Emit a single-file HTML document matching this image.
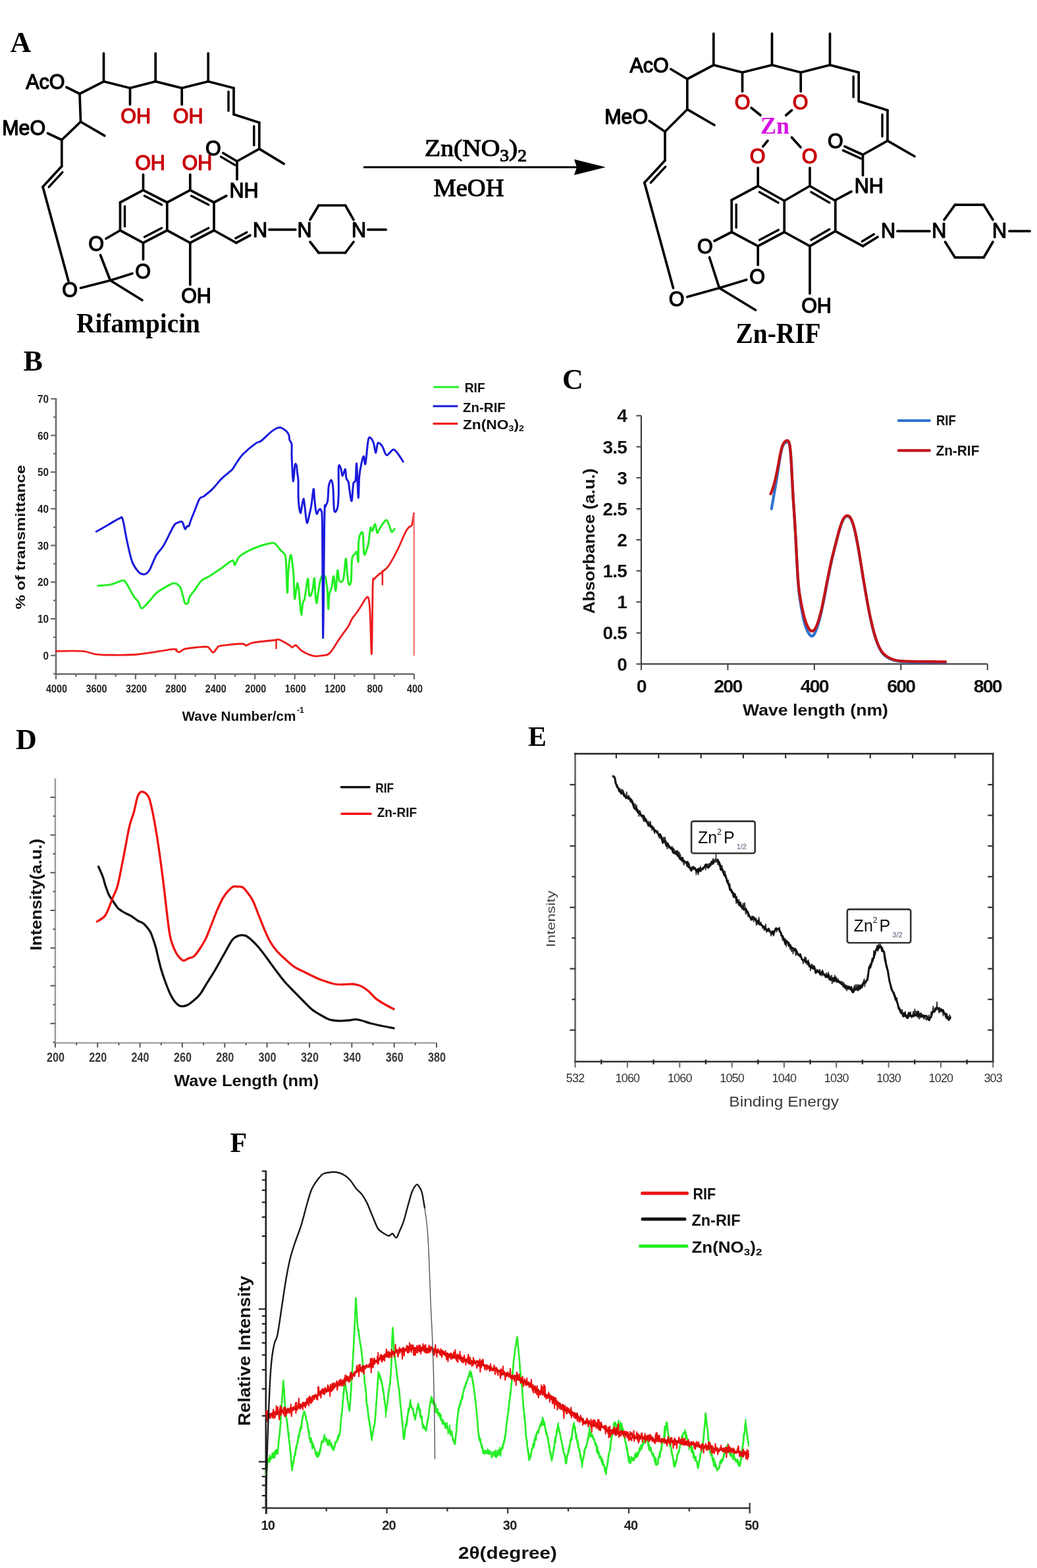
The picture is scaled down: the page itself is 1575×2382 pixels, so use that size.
<!DOCTYPE html>
<html><head><meta charset="utf-8"><title>Figure</title>
<style>html,body{margin:0;padding:0;background:#fff;}svg{display:block;}</style></head>
<body><svg width="1575" height="2382" viewBox="0 0 1575 2382">
<rect width="1575" height="2382" fill="#fff"/>
<text x="15.5" y="79" font-size="44" fill="#000" text-anchor="start" font-weight="bold" font-family="Liberation Serif, Times New Roman, serif" >A</text>
<line x1="101" y1="132.5" x2="121" y2="142.5" stroke="#000" stroke-width="3.7" stroke-linecap="round"/>
<line x1="121" y1="142.5" x2="157.5" y2="123.8" stroke="#000" stroke-width="3.7" stroke-linecap="round"/>
<line x1="157.5" y1="123.8" x2="157.5" y2="81" stroke="#000" stroke-width="3.7" stroke-linecap="round"/>
<line x1="157.5" y1="123.8" x2="197.5" y2="133.8" stroke="#000" stroke-width="3.7" stroke-linecap="round"/>
<line x1="197.5" y1="133.8" x2="197.5" y2="158.8" stroke="#000" stroke-width="3.7" stroke-linecap="round"/>
<line x1="197.5" y1="133.8" x2="236.2" y2="123.8" stroke="#000" stroke-width="3.7" stroke-linecap="round"/>
<line x1="236.2" y1="123.8" x2="236.2" y2="81" stroke="#000" stroke-width="3.7" stroke-linecap="round"/>
<line x1="236.2" y1="123.8" x2="276.2" y2="133.8" stroke="#000" stroke-width="3.7" stroke-linecap="round"/>
<line x1="276.2" y1="133.8" x2="276.2" y2="158.8" stroke="#000" stroke-width="3.7" stroke-linecap="round"/>
<line x1="276.2" y1="133.8" x2="316.2" y2="123.8" stroke="#000" stroke-width="3.7" stroke-linecap="round"/>
<line x1="316.2" y1="123.8" x2="316.2" y2="81" stroke="#000" stroke-width="3.7" stroke-linecap="round"/>
<line x1="316.2" y1="123.8" x2="355" y2="133.8" stroke="#000" stroke-width="3.7" stroke-linecap="round"/>
<line x1="355" y1="133.8" x2="355" y2="173.8" stroke="#000" stroke-width="3.7" stroke-linecap="round"/>
<line x1="355" y1="173.8" x2="393.8" y2="186.2" stroke="#000" stroke-width="3.7" stroke-linecap="round"/>
<line x1="393.8" y1="186.2" x2="393.8" y2="226.2" stroke="#000" stroke-width="3.7" stroke-linecap="round"/>
<line x1="393.8" y1="226.2" x2="431.2" y2="248.8" stroke="#000" stroke-width="3.7" stroke-linecap="round"/>
<line x1="393.8" y1="226.2" x2="360" y2="245" stroke="#000" stroke-width="3.7" stroke-linecap="round"/>
<line x1="360" y1="245" x2="338.8" y2="232.5" stroke="#000" stroke-width="3.7" stroke-linecap="round"/>
<line x1="360" y1="245" x2="360" y2="272.5" stroke="#000" stroke-width="3.7" stroke-linecap="round"/>
<line x1="343.8" y1="297.5" x2="325" y2="307.5" stroke="#000" stroke-width="3.7" stroke-linecap="round"/>
<line x1="121" y1="142.5" x2="122.5" y2="185" stroke="#000" stroke-width="3.7" stroke-linecap="round"/>
<line x1="122.5" y1="185" x2="158.8" y2="206.2" stroke="#000" stroke-width="3.7" stroke-linecap="round"/>
<line x1="122.5" y1="185" x2="93.8" y2="212.5" stroke="#000" stroke-width="3.7" stroke-linecap="round"/>
<line x1="93.8" y1="212.5" x2="72.5" y2="202.5" stroke="#000" stroke-width="3.7" stroke-linecap="round"/>
<line x1="93.8" y1="212.5" x2="93.8" y2="252.5" stroke="#000" stroke-width="3.7" stroke-linecap="round"/>
<line x1="93.8" y1="252.5" x2="65" y2="283.8" stroke="#000" stroke-width="3.7" stroke-linecap="round"/>
<line x1="65" y1="283.8" x2="104" y2="427" stroke="#000" stroke-width="3.7" stroke-linecap="round"/>
<line x1="122.5" y1="437.5" x2="167.5" y2="426" stroke="#000" stroke-width="3.7" stroke-linecap="round"/>
<line x1="167.5" y1="426" x2="216" y2="456" stroke="#000" stroke-width="3.7" stroke-linecap="round"/>
<line x1="167.5" y1="426" x2="201" y2="415.5" stroke="#000" stroke-width="3.7" stroke-linecap="round"/>
<line x1="167.5" y1="426" x2="152.5" y2="387.5" stroke="#000" stroke-width="3.7" stroke-linecap="round"/>
<line x1="161" y1="362.5" x2="182.5" y2="350" stroke="#000" stroke-width="3.7" stroke-linecap="round"/>
<line x1="217.5" y1="394" x2="217.5" y2="368.8" stroke="#000" stroke-width="3.7" stroke-linecap="round"/>
<line x1="217.5" y1="288.8" x2="217.5" y2="265" stroke="#000" stroke-width="3.7" stroke-linecap="round"/>
<line x1="288.8" y1="288.8" x2="288.8" y2="265" stroke="#000" stroke-width="3.7" stroke-linecap="round"/>
<line x1="325" y1="350" x2="358.8" y2="368.8" stroke="#000" stroke-width="3.7" stroke-linecap="round"/>
<line x1="358.8" y1="368.8" x2="380" y2="357.5" stroke="#000" stroke-width="3.7" stroke-linecap="round"/>
<line x1="408.8" y1="348.8" x2="448.8" y2="348.8" stroke="#000" stroke-width="3.7" stroke-linecap="round"/>
<line x1="471" y1="333.8" x2="484" y2="312" stroke="#000" stroke-width="3.7" stroke-linecap="round"/>
<line x1="484" y1="312" x2="524.5" y2="312" stroke="#000" stroke-width="3.7" stroke-linecap="round"/>
<line x1="524.5" y1="312" x2="537" y2="333.8" stroke="#000" stroke-width="3.7" stroke-linecap="round"/>
<line x1="471" y1="367.5" x2="484" y2="384" stroke="#000" stroke-width="3.7" stroke-linecap="round"/>
<line x1="484" y1="384" x2="524.5" y2="384" stroke="#000" stroke-width="3.7" stroke-linecap="round"/>
<line x1="524.5" y1="384" x2="537" y2="367.5" stroke="#000" stroke-width="3.7" stroke-linecap="round"/>
<line x1="558.8" y1="348.8" x2="586.2" y2="348.8" stroke="#000" stroke-width="3.7" stroke-linecap="round"/>
<line x1="288.8" y1="368.8" x2="288.8" y2="432.5" stroke="#000" stroke-width="3.7" stroke-linecap="round"/>
<line x1="217.5" y1="288.8" x2="182.5" y2="307.5" stroke="#000" stroke-width="3.7" stroke-linecap="round"/>
<line x1="182.5" y1="307.5" x2="182.5" y2="350" stroke="#000" stroke-width="3.7" stroke-linecap="round"/>
<line x1="182.5" y1="350" x2="217.5" y2="368.8" stroke="#000" stroke-width="3.7" stroke-linecap="round"/>
<line x1="217.5" y1="368.8" x2="253.8" y2="350" stroke="#000" stroke-width="3.7" stroke-linecap="round"/>
<line x1="253.8" y1="350" x2="253.8" y2="307.5" stroke="#000" stroke-width="3.7" stroke-linecap="round"/>
<line x1="253.8" y1="307.5" x2="217.5" y2="288.8" stroke="#000" stroke-width="3.7" stroke-linecap="round"/>
<line x1="253.8" y1="307.5" x2="288.8" y2="288.8" stroke="#000" stroke-width="3.7" stroke-linecap="round"/>
<line x1="288.8" y1="288.8" x2="325" y2="307.5" stroke="#000" stroke-width="3.7" stroke-linecap="round"/>
<line x1="325" y1="307.5" x2="325" y2="350" stroke="#000" stroke-width="3.7" stroke-linecap="round"/>
<line x1="325" y1="350" x2="288.8" y2="368.8" stroke="#000" stroke-width="3.7" stroke-linecap="round"/>
<line x1="288.8" y1="368.8" x2="253.8" y2="350" stroke="#000" stroke-width="3.7" stroke-linecap="round"/>
<line x1="245.5" y1="311.1" x2="219.4" y2="297.6" stroke="#000" stroke-width="3.4" stroke-linecap="round"/>
<line x1="189.5" y1="313.4" x2="189.5" y2="344.1" stroke="#000" stroke-width="3.4" stroke-linecap="round"/>
<line x1="219.4" y1="359.9" x2="245.5" y2="346.4" stroke="#000" stroke-width="3.4" stroke-linecap="round"/>
<line x1="290.6" y1="297.6" x2="316.7" y2="311.1" stroke="#000" stroke-width="3.4" stroke-linecap="round"/>
<line x1="316.7" y1="346.4" x2="290.6" y2="359.9" stroke="#000" stroke-width="3.4" stroke-linecap="round"/>
<line x1="347" y1="139.3" x2="347" y2="168.2" stroke="#000" stroke-width="3.4" stroke-linecap="round"/>
<line x1="385.8" y1="191.8" x2="385.8" y2="220.7" stroke="#000" stroke-width="3.4" stroke-linecap="round"/>
<line x1="94.9" y1="261.6" x2="74.2" y2="284.1" stroke="#000" stroke-width="3.4" stroke-linecap="round"/>
<line x1="356.7" y1="250.6" x2="335.5" y2="238.1" stroke="#000" stroke-width="3.4" stroke-linecap="round"/>
<line x1="357.8" y1="361.9" x2="374.8" y2="352.9" stroke="#000" stroke-width="3.4" stroke-linecap="round"/>
<text x="68.8" y="134.7" font-size="30.5" fill="#000" text-anchor="middle" font-weight="normal" font-family="Liberation Sans, Arial, sans-serif" stroke="#000" stroke-width="1.3" stroke-linejoin="round">AcO</text>
<text x="36.2" y="204.7" font-size="30.5" fill="#000" text-anchor="middle" font-weight="normal" font-family="Liberation Sans, Arial, sans-serif" stroke="#000" stroke-width="1.3" stroke-linejoin="round">MeO</text>
<text x="206.2" y="186.5" font-size="30.5" fill="#c8000a" text-anchor="middle" font-weight="normal" font-family="Liberation Sans, Arial, sans-serif" stroke="#c8000a" stroke-width="1.3" stroke-linejoin="round">OH</text>
<text x="285.6" y="186.5" font-size="30.5" fill="#c8000a" text-anchor="middle" font-weight="normal" font-family="Liberation Sans, Arial, sans-serif" stroke="#c8000a" stroke-width="1.3" stroke-linejoin="round">OH</text>
<text x="228" y="258.4" font-size="30.5" fill="#c8000a" text-anchor="middle" font-weight="normal" font-family="Liberation Sans, Arial, sans-serif" stroke="#c8000a" stroke-width="1.3" stroke-linejoin="round">OH</text>
<text x="299.4" y="258.4" font-size="30.5" fill="#c8000a" text-anchor="middle" font-weight="normal" font-family="Liberation Sans, Arial, sans-serif" stroke="#c8000a" stroke-width="1.3" stroke-linejoin="round">OH</text>
<text x="323.8" y="236.4" font-size="30.5" fill="#000" text-anchor="middle" font-weight="normal" font-family="Liberation Sans, Arial, sans-serif" stroke="#000" stroke-width="1.3" stroke-linejoin="round">O</text>
<text x="370.5" y="299.7" font-size="30.5" fill="#000" text-anchor="middle" font-weight="normal" font-family="Liberation Sans, Arial, sans-serif" stroke="#000" stroke-width="1.3" stroke-linejoin="round">NH</text>
<text x="395" y="360.4" font-size="30.5" fill="#000" text-anchor="middle" font-weight="normal" font-family="Liberation Sans, Arial, sans-serif" stroke="#000" stroke-width="1.3" stroke-linejoin="round">N</text>
<text x="462.5" y="360.4" font-size="30.5" fill="#000" text-anchor="middle" font-weight="normal" font-family="Liberation Sans, Arial, sans-serif" stroke="#000" stroke-width="1.3" stroke-linejoin="round">N</text>
<text x="545" y="360.4" font-size="30.5" fill="#000" text-anchor="middle" font-weight="normal" font-family="Liberation Sans, Arial, sans-serif" stroke="#000" stroke-width="1.3" stroke-linejoin="round">N</text>
<text x="146" y="380.9" font-size="30.5" fill="#000" text-anchor="middle" font-weight="normal" font-family="Liberation Sans, Arial, sans-serif" stroke="#000" stroke-width="1.3" stroke-linejoin="round">O</text>
<text x="217" y="422.9" font-size="30.5" fill="#000" text-anchor="middle" font-weight="normal" font-family="Liberation Sans, Arial, sans-serif" stroke="#000" stroke-width="1.3" stroke-linejoin="round">O</text>
<text x="106" y="450.9" font-size="30.5" fill="#000" text-anchor="middle" font-weight="normal" font-family="Liberation Sans, Arial, sans-serif" stroke="#000" stroke-width="1.3" stroke-linejoin="round">O</text>
<text x="298" y="460.4" font-size="30.5" fill="#000" text-anchor="middle" font-weight="normal" font-family="Liberation Sans, Arial, sans-serif" stroke="#000" stroke-width="1.3" stroke-linejoin="round">OH</text>
<text x="116" y="505" font-size="43" fill="#000" text-anchor="start" font-weight="bold" font-family="Liberation Serif, Times New Roman, serif" textLength="188" lengthAdjust="spacingAndGlyphs">Rifampicin</text>
<line x1="552" y1="254" x2="878" y2="254" stroke="#000" stroke-width="3" stroke-linecap="butt"/>
<polygon points="872,242 920,254 872,266 876,254" fill="#000"/>
<text x="645" y="236.5" font-size="36" fill="#000" text-anchor="start" font-weight="normal" font-family="Liberation Serif, Times New Roman, serif" textLength="155" lengthAdjust="spacingAndGlyphs" stroke="#000" stroke-width="1.1">Zn(NO<tspan font-size="25" dy="8">3</tspan><tspan dy="-8">)</tspan><tspan font-size="25" dy="8">2</tspan></text>
<text x="712" y="298" font-size="38.5" fill="#000" text-anchor="middle" font-weight="normal" font-family="Liberation Serif, Times New Roman, serif" stroke="#000" stroke-width="1.1">MeOH</text>
<line x1="1018.8" y1="105" x2="1043.8" y2="120" stroke="#000" stroke-width="3.7" stroke-linecap="round"/>
<line x1="1043.8" y1="120" x2="1083.8" y2="98.8" stroke="#000" stroke-width="3.7" stroke-linecap="round"/>
<line x1="1083.8" y1="98.8" x2="1083.8" y2="51.2" stroke="#000" stroke-width="3.7" stroke-linecap="round"/>
<line x1="1083.8" y1="98.8" x2="1127.5" y2="110" stroke="#000" stroke-width="3.7" stroke-linecap="round"/>
<line x1="1127.5" y1="110" x2="1127.5" y2="138.8" stroke="#000" stroke-width="3.7" stroke-linecap="round"/>
<line x1="1127.5" y1="110" x2="1172.5" y2="98.8" stroke="#000" stroke-width="3.7" stroke-linecap="round"/>
<line x1="1172.5" y1="98.8" x2="1172.5" y2="51.2" stroke="#000" stroke-width="3.7" stroke-linecap="round"/>
<line x1="1172.5" y1="98.8" x2="1216.2" y2="110" stroke="#000" stroke-width="3.7" stroke-linecap="round"/>
<line x1="1216.2" y1="110" x2="1216.2" y2="138.8" stroke="#000" stroke-width="3.7" stroke-linecap="round"/>
<line x1="1216.2" y1="110" x2="1260.5" y2="98.8" stroke="#000" stroke-width="3.7" stroke-linecap="round"/>
<line x1="1260.5" y1="98.8" x2="1260.5" y2="51.2" stroke="#000" stroke-width="3.7" stroke-linecap="round"/>
<line x1="1260.5" y1="98.8" x2="1304.2" y2="110" stroke="#000" stroke-width="3.7" stroke-linecap="round"/>
<line x1="1304.2" y1="110" x2="1304.2" y2="153.8" stroke="#000" stroke-width="3.7" stroke-linecap="round"/>
<line x1="1304.2" y1="153.8" x2="1348" y2="167.5" stroke="#000" stroke-width="3.7" stroke-linecap="round"/>
<line x1="1348" y1="167.5" x2="1348" y2="213.8" stroke="#000" stroke-width="3.7" stroke-linecap="round"/>
<line x1="1348" y1="213.8" x2="1389" y2="237.5" stroke="#000" stroke-width="3.7" stroke-linecap="round"/>
<line x1="1348" y1="213.8" x2="1310.5" y2="235" stroke="#000" stroke-width="3.7" stroke-linecap="round"/>
<line x1="1310.5" y1="235" x2="1283" y2="222.5" stroke="#000" stroke-width="3.7" stroke-linecap="round"/>
<line x1="1310.5" y1="235" x2="1310.5" y2="266.2" stroke="#000" stroke-width="3.7" stroke-linecap="round"/>
<line x1="1293" y1="291" x2="1269" y2="303.8" stroke="#000" stroke-width="3.7" stroke-linecap="round"/>
<line x1="1043.8" y1="120" x2="1043.8" y2="166.2" stroke="#000" stroke-width="3.7" stroke-linecap="round"/>
<line x1="1043.8" y1="166.2" x2="1085" y2="190" stroke="#000" stroke-width="3.7" stroke-linecap="round"/>
<line x1="1043.8" y1="166.2" x2="1010" y2="200" stroke="#000" stroke-width="3.7" stroke-linecap="round"/>
<line x1="1010" y1="200" x2="986.2" y2="183.8" stroke="#000" stroke-width="3.7" stroke-linecap="round"/>
<line x1="1010" y1="200" x2="1010" y2="243.8" stroke="#000" stroke-width="3.7" stroke-linecap="round"/>
<line x1="1010" y1="243.8" x2="978.8" y2="277.5" stroke="#000" stroke-width="3.7" stroke-linecap="round"/>
<line x1="978.8" y1="277.5" x2="1022.5" y2="437.5" stroke="#000" stroke-width="3.7" stroke-linecap="round"/>
<line x1="1043.8" y1="451" x2="1092.5" y2="437.5" stroke="#000" stroke-width="3.7" stroke-linecap="round"/>
<line x1="1092.5" y1="437.5" x2="1147.5" y2="471" stroke="#000" stroke-width="3.7" stroke-linecap="round"/>
<line x1="1092.5" y1="437.5" x2="1133.8" y2="425" stroke="#000" stroke-width="3.7" stroke-linecap="round"/>
<line x1="1092.5" y1="437.5" x2="1077.5" y2="391" stroke="#000" stroke-width="3.7" stroke-linecap="round"/>
<line x1="1085" y1="366" x2="1111.2" y2="352.5" stroke="#000" stroke-width="3.7" stroke-linecap="round"/>
<line x1="1151.2" y1="402.5" x2="1151.2" y2="373.8" stroke="#000" stroke-width="3.7" stroke-linecap="round"/>
<line x1="1151.2" y1="282.5" x2="1151.2" y2="255" stroke="#000" stroke-width="3.7" stroke-linecap="round"/>
<line x1="1230" y1="282.5" x2="1230" y2="255" stroke="#000" stroke-width="3.7" stroke-linecap="round"/>
<line x1="1141" y1="163.8" x2="1155" y2="175" stroke="#000" stroke-width="3.7" stroke-linecap="round"/>
<line x1="1202.5" y1="167.5" x2="1193.8" y2="175" stroke="#000" stroke-width="3.7" stroke-linecap="round"/>
<line x1="1166" y1="213.8" x2="1158.8" y2="222.5" stroke="#000" stroke-width="3.7" stroke-linecap="round"/>
<line x1="1202.5" y1="208.8" x2="1216" y2="223.8" stroke="#000" stroke-width="3.7" stroke-linecap="round"/>
<line x1="1268.8" y1="351.2" x2="1310.5" y2="373.8" stroke="#000" stroke-width="3.7" stroke-linecap="round"/>
<line x1="1310.5" y1="373.8" x2="1333" y2="360" stroke="#000" stroke-width="3.7" stroke-linecap="round"/>
<line x1="1363" y1="351.2" x2="1411.8" y2="351.2" stroke="#000" stroke-width="3.7" stroke-linecap="round"/>
<line x1="1434" y1="333.8" x2="1450.5" y2="311.2" stroke="#000" stroke-width="3.7" stroke-linecap="round"/>
<line x1="1450.5" y1="311.2" x2="1494" y2="311.2" stroke="#000" stroke-width="3.7" stroke-linecap="round"/>
<line x1="1494" y1="311.2" x2="1508" y2="333.8" stroke="#000" stroke-width="3.7" stroke-linecap="round"/>
<line x1="1435.5" y1="367.5" x2="1450.5" y2="391.2" stroke="#000" stroke-width="3.7" stroke-linecap="round"/>
<line x1="1450.5" y1="391.2" x2="1494" y2="391.2" stroke="#000" stroke-width="3.7" stroke-linecap="round"/>
<line x1="1494" y1="391.2" x2="1508" y2="367.5" stroke="#000" stroke-width="3.7" stroke-linecap="round"/>
<line x1="1533" y1="351.2" x2="1564" y2="351.2" stroke="#000" stroke-width="3.7" stroke-linecap="round"/>
<line x1="1230" y1="373.8" x2="1230" y2="446" stroke="#000" stroke-width="3.7" stroke-linecap="round"/>
<line x1="1151.2" y1="282.5" x2="1111.2" y2="303.8" stroke="#000" stroke-width="3.7" stroke-linecap="round"/>
<line x1="1111.2" y1="303.8" x2="1111.2" y2="352.5" stroke="#000" stroke-width="3.7" stroke-linecap="round"/>
<line x1="1111.2" y1="352.5" x2="1151.2" y2="373.8" stroke="#000" stroke-width="3.7" stroke-linecap="round"/>
<line x1="1151.2" y1="373.8" x2="1191.2" y2="352.5" stroke="#000" stroke-width="3.7" stroke-linecap="round"/>
<line x1="1191.2" y1="352.5" x2="1191.2" y2="305" stroke="#000" stroke-width="3.7" stroke-linecap="round"/>
<line x1="1191.2" y1="305" x2="1151.2" y2="282.5" stroke="#000" stroke-width="3.7" stroke-linecap="round"/>
<line x1="1191.2" y1="305" x2="1230" y2="282.5" stroke="#000" stroke-width="3.7" stroke-linecap="round"/>
<line x1="1230" y1="282.5" x2="1268.8" y2="305" stroke="#000" stroke-width="3.7" stroke-linecap="round"/>
<line x1="1268.8" y1="305" x2="1268.8" y2="351.2" stroke="#000" stroke-width="3.7" stroke-linecap="round"/>
<line x1="1268.8" y1="351.2" x2="1230" y2="373.8" stroke="#000" stroke-width="3.7" stroke-linecap="round"/>
<line x1="1230" y1="373.8" x2="1191.2" y2="352.5" stroke="#000" stroke-width="3.7" stroke-linecap="round"/>
<line x1="1182.2" y1="308" x2="1153.4" y2="291.8" stroke="#000" stroke-width="3.4" stroke-linecap="round"/>
<line x1="1118.2" y1="310.6" x2="1118.2" y2="345.7" stroke="#000" stroke-width="3.4" stroke-linecap="round"/>
<line x1="1153.6" y1="364.6" x2="1182.4" y2="349.3" stroke="#000" stroke-width="3.4" stroke-linecap="round"/>
<line x1="1231.9" y1="291.7" x2="1259.8" y2="307.9" stroke="#000" stroke-width="3.4" stroke-linecap="round"/>
<line x1="1259.8" y1="348.3" x2="1231.9" y2="364.5" stroke="#000" stroke-width="3.4" stroke-linecap="round"/>
<line x1="1296.2" y1="116.1" x2="1296.2" y2="147.6" stroke="#000" stroke-width="3.4" stroke-linecap="round"/>
<line x1="1340" y1="174" x2="1340" y2="207.3" stroke="#000" stroke-width="3.4" stroke-linecap="round"/>
<line x1="1010.8" y1="253.2" x2="988.3" y2="277.5" stroke="#000" stroke-width="3.4" stroke-linecap="round"/>
<line x1="1307.8" y1="240.9" x2="1280.3" y2="228.4" stroke="#000" stroke-width="3.4" stroke-linecap="round"/>
<line x1="1309.4" y1="366.8" x2="1327.4" y2="355.8" stroke="#000" stroke-width="3.4" stroke-linecap="round"/>
<text x="986.2" y="109.7" font-size="30.5" fill="#000" text-anchor="middle" font-weight="normal" font-family="Liberation Sans, Arial, sans-serif" stroke="#000" stroke-width="1.3" stroke-linejoin="round">AcO</text>
<text x="951.2" y="187.8" font-size="30.5" fill="#000" text-anchor="middle" font-weight="normal" font-family="Liberation Sans, Arial, sans-serif" stroke="#000" stroke-width="1.3" stroke-linejoin="round">MeO</text>
<text x="1127.5" y="165.9" font-size="30.5" fill="#c8000a" text-anchor="middle" font-weight="normal" font-family="Liberation Sans, Arial, sans-serif" stroke="#c8000a" stroke-width="1.3" stroke-linejoin="round">O</text>
<text x="1215.5" y="166.4" font-size="30.5" fill="#c8000a" text-anchor="middle" font-weight="normal" font-family="Liberation Sans, Arial, sans-serif" stroke="#c8000a" stroke-width="1.3" stroke-linejoin="round">O</text>
<text x="1150.6" y="247.9" font-size="30.5" fill="#c8000a" text-anchor="middle" font-weight="normal" font-family="Liberation Sans, Arial, sans-serif" stroke="#c8000a" stroke-width="1.3" stroke-linejoin="round">O</text>
<text x="1229.5" y="247.9" font-size="30.5" fill="#c8000a" text-anchor="middle" font-weight="normal" font-family="Liberation Sans, Arial, sans-serif" stroke="#c8000a" stroke-width="1.3" stroke-linejoin="round">O</text>
<text x="1177" y="202.5" font-size="36" fill="#d612e4" text-anchor="middle" font-weight="bold" font-family="Liberation Serif, Times New Roman, serif" >Zn</text>
<text x="1268.8" y="225.3" font-size="30.5" fill="#000" text-anchor="middle" font-weight="normal" font-family="Liberation Sans, Arial, sans-serif" stroke="#000" stroke-width="1.3" stroke-linejoin="round">O</text>
<text x="1319.8" y="293.4" font-size="30.5" fill="#000" text-anchor="middle" font-weight="normal" font-family="Liberation Sans, Arial, sans-serif" stroke="#000" stroke-width="1.3" stroke-linejoin="round">NH</text>
<text x="1349" y="361.4" font-size="30.5" fill="#000" text-anchor="middle" font-weight="normal" font-family="Liberation Sans, Arial, sans-serif" stroke="#000" stroke-width="1.3" stroke-linejoin="round">N</text>
<text x="1426.2" y="361.4" font-size="30.5" fill="#000" text-anchor="middle" font-weight="normal" font-family="Liberation Sans, Arial, sans-serif" stroke="#000" stroke-width="1.3" stroke-linejoin="round">N</text>
<text x="1518" y="361.4" font-size="30.5" fill="#000" text-anchor="middle" font-weight="normal" font-family="Liberation Sans, Arial, sans-serif" stroke="#000" stroke-width="1.3" stroke-linejoin="round">N</text>
<text x="1070.8" y="385.4" font-size="30.5" fill="#000" text-anchor="middle" font-weight="normal" font-family="Liberation Sans, Arial, sans-serif" stroke="#000" stroke-width="1.3" stroke-linejoin="round">O</text>
<text x="1150" y="431.4" font-size="30.5" fill="#000" text-anchor="middle" font-weight="normal" font-family="Liberation Sans, Arial, sans-serif" stroke="#000" stroke-width="1.3" stroke-linejoin="round">O</text>
<text x="1027.5" y="464.7" font-size="30.5" fill="#000" text-anchor="middle" font-weight="normal" font-family="Liberation Sans, Arial, sans-serif" stroke="#000" stroke-width="1.3" stroke-linejoin="round">O</text>
<text x="1240" y="474.7" font-size="30.5" fill="#000" text-anchor="middle" font-weight="normal" font-family="Liberation Sans, Arial, sans-serif" stroke="#000" stroke-width="1.3" stroke-linejoin="round">OH</text>
<text x="1117.5" y="521" font-size="45" fill="#000" text-anchor="start" font-weight="bold" font-family="Liberation Serif, Times New Roman, serif" textLength="129" lengthAdjust="spacingAndGlyphs">Zn-RIF</text>
<text x="35.5" y="563" font-size="44" fill="#000" text-anchor="start" font-weight="bold" font-family="Liberation Serif, Times New Roman, serif" >B</text>
<polyline points="85,605 85,1024 629,1024" fill="none" stroke="#6a6a6a" stroke-width="2.6"/>
<line x1="81" y1="1023.6" x2="85" y2="1023.6" stroke="#6a6a6a" stroke-width="2.2" stroke-linecap="butt"/>
<line x1="77" y1="995.8" x2="85" y2="995.8" stroke="#6a6a6a" stroke-width="2.2" stroke-linecap="butt"/>
<line x1="81" y1="967.9" x2="85" y2="967.9" stroke="#6a6a6a" stroke-width="2.2" stroke-linecap="butt"/>
<line x1="77" y1="940" x2="85" y2="940" stroke="#6a6a6a" stroke-width="2.2" stroke-linecap="butt"/>
<line x1="81" y1="912.2" x2="85" y2="912.2" stroke="#6a6a6a" stroke-width="2.2" stroke-linecap="butt"/>
<line x1="77" y1="884.3" x2="85" y2="884.3" stroke="#6a6a6a" stroke-width="2.2" stroke-linecap="butt"/>
<line x1="81" y1="856.5" x2="85" y2="856.5" stroke="#6a6a6a" stroke-width="2.2" stroke-linecap="butt"/>
<line x1="77" y1="828.6" x2="85" y2="828.6" stroke="#6a6a6a" stroke-width="2.2" stroke-linecap="butt"/>
<line x1="81" y1="800.8" x2="85" y2="800.8" stroke="#6a6a6a" stroke-width="2.2" stroke-linecap="butt"/>
<line x1="77" y1="772.9" x2="85" y2="772.9" stroke="#6a6a6a" stroke-width="2.2" stroke-linecap="butt"/>
<line x1="81" y1="745.1" x2="85" y2="745.1" stroke="#6a6a6a" stroke-width="2.2" stroke-linecap="butt"/>
<line x1="77" y1="717.2" x2="85" y2="717.2" stroke="#6a6a6a" stroke-width="2.2" stroke-linecap="butt"/>
<line x1="81" y1="689.3" x2="85" y2="689.3" stroke="#6a6a6a" stroke-width="2.2" stroke-linecap="butt"/>
<line x1="77" y1="661.5" x2="85" y2="661.5" stroke="#6a6a6a" stroke-width="2.2" stroke-linecap="butt"/>
<line x1="81" y1="633.6" x2="85" y2="633.6" stroke="#6a6a6a" stroke-width="2.2" stroke-linecap="butt"/>
<line x1="77" y1="605.8" x2="85" y2="605.8" stroke="#6a6a6a" stroke-width="2.2" stroke-linecap="butt"/>
<text x="65.5" y="1001.8" font-size="17" fill="#222" text-anchor="start" font-weight="bold" font-family="Liberation Sans, Arial, sans-serif" textLength="8.5" lengthAdjust="spacingAndGlyphs">0</text>
<text x="57" y="946" font-size="17" fill="#222" text-anchor="start" font-weight="bold" font-family="Liberation Sans, Arial, sans-serif" textLength="17.0" lengthAdjust="spacingAndGlyphs">10</text>
<text x="57" y="890.3" font-size="17" fill="#222" text-anchor="start" font-weight="bold" font-family="Liberation Sans, Arial, sans-serif" textLength="17.0" lengthAdjust="spacingAndGlyphs">20</text>
<text x="57" y="834.6" font-size="17" fill="#222" text-anchor="start" font-weight="bold" font-family="Liberation Sans, Arial, sans-serif" textLength="17.0" lengthAdjust="spacingAndGlyphs">30</text>
<text x="57" y="778.9" font-size="17" fill="#222" text-anchor="start" font-weight="bold" font-family="Liberation Sans, Arial, sans-serif" textLength="17.0" lengthAdjust="spacingAndGlyphs">40</text>
<text x="57" y="723.2" font-size="17" fill="#222" text-anchor="start" font-weight="bold" font-family="Liberation Sans, Arial, sans-serif" textLength="17.0" lengthAdjust="spacingAndGlyphs">50</text>
<text x="57" y="667.5" font-size="17" fill="#222" text-anchor="start" font-weight="bold" font-family="Liberation Sans, Arial, sans-serif" textLength="17.0" lengthAdjust="spacingAndGlyphs">60</text>
<text x="57" y="611.8" font-size="17" fill="#222" text-anchor="start" font-weight="bold" font-family="Liberation Sans, Arial, sans-serif" textLength="17.0" lengthAdjust="spacingAndGlyphs">70</text>
<line x1="85" y1="1024" x2="85" y2="1032" stroke="#6a6a6a" stroke-width="2.2" stroke-linecap="butt"/>
<line x1="115.2" y1="1024" x2="115.2" y2="1028" stroke="#6a6a6a" stroke-width="2.2" stroke-linecap="butt"/>
<line x1="145.4" y1="1024" x2="145.4" y2="1032" stroke="#6a6a6a" stroke-width="2.2" stroke-linecap="butt"/>
<line x1="175.7" y1="1024" x2="175.7" y2="1028" stroke="#6a6a6a" stroke-width="2.2" stroke-linecap="butt"/>
<line x1="205.9" y1="1024" x2="205.9" y2="1032" stroke="#6a6a6a" stroke-width="2.2" stroke-linecap="butt"/>
<line x1="236.1" y1="1024" x2="236.1" y2="1028" stroke="#6a6a6a" stroke-width="2.2" stroke-linecap="butt"/>
<line x1="266.3" y1="1024" x2="266.3" y2="1032" stroke="#6a6a6a" stroke-width="2.2" stroke-linecap="butt"/>
<line x1="296.6" y1="1024" x2="296.6" y2="1028" stroke="#6a6a6a" stroke-width="2.2" stroke-linecap="butt"/>
<line x1="326.8" y1="1024" x2="326.8" y2="1032" stroke="#6a6a6a" stroke-width="2.2" stroke-linecap="butt"/>
<line x1="357" y1="1024" x2="357" y2="1028" stroke="#6a6a6a" stroke-width="2.2" stroke-linecap="butt"/>
<line x1="387.2" y1="1024" x2="387.2" y2="1032" stroke="#6a6a6a" stroke-width="2.2" stroke-linecap="butt"/>
<line x1="417.4" y1="1024" x2="417.4" y2="1028" stroke="#6a6a6a" stroke-width="2.2" stroke-linecap="butt"/>
<line x1="447.7" y1="1024" x2="447.7" y2="1032" stroke="#6a6a6a" stroke-width="2.2" stroke-linecap="butt"/>
<line x1="477.9" y1="1024" x2="477.9" y2="1028" stroke="#6a6a6a" stroke-width="2.2" stroke-linecap="butt"/>
<line x1="508.1" y1="1024" x2="508.1" y2="1032" stroke="#6a6a6a" stroke-width="2.2" stroke-linecap="butt"/>
<line x1="538.3" y1="1024" x2="538.3" y2="1028" stroke="#6a6a6a" stroke-width="2.2" stroke-linecap="butt"/>
<line x1="568.6" y1="1024" x2="568.6" y2="1032" stroke="#6a6a6a" stroke-width="2.2" stroke-linecap="butt"/>
<line x1="598.8" y1="1024" x2="598.8" y2="1028" stroke="#6a6a6a" stroke-width="2.2" stroke-linecap="butt"/>
<line x1="629" y1="1024" x2="629" y2="1032" stroke="#6a6a6a" stroke-width="2.2" stroke-linecap="butt"/>
<text x="86" y="1051.8" font-size="17" fill="#222" text-anchor="middle" font-weight="bold" font-family="Liberation Sans, Arial, sans-serif" textLength="32" lengthAdjust="spacingAndGlyphs">4000</text>
<text x="146.4" y="1051.8" font-size="17" fill="#222" text-anchor="middle" font-weight="bold" font-family="Liberation Sans, Arial, sans-serif" textLength="32" lengthAdjust="spacingAndGlyphs">3600</text>
<text x="206.9" y="1051.8" font-size="17" fill="#222" text-anchor="middle" font-weight="bold" font-family="Liberation Sans, Arial, sans-serif" textLength="32" lengthAdjust="spacingAndGlyphs">3200</text>
<text x="267.3" y="1051.8" font-size="17" fill="#222" text-anchor="middle" font-weight="bold" font-family="Liberation Sans, Arial, sans-serif" textLength="32" lengthAdjust="spacingAndGlyphs">2800</text>
<text x="327.8" y="1051.8" font-size="17" fill="#222" text-anchor="middle" font-weight="bold" font-family="Liberation Sans, Arial, sans-serif" textLength="32" lengthAdjust="spacingAndGlyphs">2400</text>
<text x="388.2" y="1051.8" font-size="17" fill="#222" text-anchor="middle" font-weight="bold" font-family="Liberation Sans, Arial, sans-serif" textLength="32" lengthAdjust="spacingAndGlyphs">2000</text>
<text x="448.7" y="1051.8" font-size="17" fill="#222" text-anchor="middle" font-weight="bold" font-family="Liberation Sans, Arial, sans-serif" textLength="32" lengthAdjust="spacingAndGlyphs">1600</text>
<text x="509.1" y="1051.8" font-size="17" fill="#222" text-anchor="middle" font-weight="bold" font-family="Liberation Sans, Arial, sans-serif" textLength="32" lengthAdjust="spacingAndGlyphs">1200</text>
<text x="569.6" y="1051.8" font-size="17" fill="#222" text-anchor="middle" font-weight="bold" font-family="Liberation Sans, Arial, sans-serif" textLength="24" lengthAdjust="spacingAndGlyphs">800</text>
<text x="630" y="1051.8" font-size="17" fill="#222" text-anchor="middle" font-weight="bold" font-family="Liberation Sans, Arial, sans-serif" textLength="24" lengthAdjust="spacingAndGlyphs">400</text>
<text x="0" y="0" transform="translate(38,816) rotate(-90)" font-size="21" font-weight="bold" font-family="Liberation Sans, Arial, sans-serif" text-anchor="middle" fill="#111" textLength="219" lengthAdjust="spacingAndGlyphs">% of transmittance</text>
<text x="276.5" y="1095" font-size="20.5" fill="#111" text-anchor="start" font-weight="bold" font-family="Liberation Sans, Arial, sans-serif" textLength="173" lengthAdjust="spacingAndGlyphs">Wave Number/cm</text>
<text x="451" y="1083" font-size="12" fill="#111" text-anchor="start" font-weight="bold" font-family="Liberation Sans, Arial, sans-serif" >-1</text>
<path d="M85,989.2 C91.7,989.2 115,988.5 125,989.2 C135,990 137.5,992.8 145,993.8 C152.5,994.7 159.2,995 170,995 C180.8,995 194.6,995.5 210,994 C225.4,992.5 252.8,987.1 262.5,986.2 C272.2,985.4 266.3,988.3 268,989 C269.7,989.7 270.8,990.8 272.5,990.5 C274.2,990.2 275.9,987.9 278,987 C280.1,986.1 279.2,985.8 285,985 C290.8,984.2 307,982.5 312.5,982.5 C318,982.5 316.1,983.5 318,985 C319.9,986.5 321.8,991.4 323.8,991.2 C325.8,991.1 328.1,985.7 330,984 C331.9,982.3 328.8,982.2 335,981.2 C341.2,980.2 361,978.1 367.5,978 C374,977.9 370.8,980.8 373.8,980.5 C376.7,980.2 377.8,977.6 385,976.2 C392.2,974.9 410.4,973.2 417,972.5 C423.6,971.8 420.8,970.6 424.6,971.9 C428.4,973.2 436.8,978.5 440,980.4 C443.2,982.3 442.2,983.5 443.8,983.5 C445.4,983.5 447.1,979.4 449.6,980.4 C452.2,981.4 454.8,986.6 459.1,989.3 C463.5,991.9 470.4,995.2 475.7,996.3 C481,997.4 486.8,996.5 491,995.7 C495.2,995 496.9,996.3 501.2,991.8 C505.4,987.3 511.8,975.7 516.5,968.9 C521.2,962.1 526.3,955.8 529.3,951 C532.3,946.2 532.3,943.8 534.7,940 C537.1,936.2 541,931.9 543.5,928.2 C546,924.5 547.8,921.4 550,918 C552.2,914.6 555,908.9 556.7,907.6 C558.4,906.3 559.1,906.3 560,910 C560.9,913.7 561.2,916.2 562,930 C562.8,943.8 563.8,999.7 564.5,993 C565.2,986.3 565.6,908.9 566.2,890 C566.9,871.1 566.9,882.6 568.4,879.8 C569.9,877 572.8,875 575,873 C577.2,871 579,870.3 581.6,868 C584.2,865.7 586.7,864.6 590.4,859.2 C594.1,853.8 599.4,844 603.6,835.7 C607.8,827.4 612.5,815.1 615.4,809.3 C618.3,803.5 619.3,803 621,801 C622.7,799 624.3,801.1 625.6,797.6 C626.9,794.1 628.1,782.9 628.6,780" fill="none" stroke="#ee1c1c" stroke-width="2.8" stroke-linejoin="round" stroke-linecap="round" />
<line x1="628.8" y1="780.5" x2="628.8" y2="996" stroke="#f07070" stroke-width="2.2" stroke-linecap="butt"/>
<line x1="419.5" y1="972" x2="419.5" y2="985" stroke="#ee1c1c" stroke-width="2.5" stroke-linecap="round"/>
<line x1="580.9" y1="867" x2="580.9" y2="888" stroke="#ee1c1c" stroke-width="2.5" stroke-linecap="round"/>
<path d="M149.1,889.8 C152.3,889.5 162.2,889.2 168.3,887.9 C174.4,886.6 181.7,882.6 185.5,882.1 C189.3,881.6 188.3,881.2 191.2,885 C194.1,888.8 199.5,900.2 202.7,905.1 C205.9,910 208.3,911.4 210.4,914.6 C212.5,917.8 212.6,924.2 215.1,924.2 C217.6,924.2 222,918.4 225.7,914.6 C229.4,910.8 233.3,904.7 237.1,901.2 C240.9,897.7 244.1,896.2 248.6,893.6 C253.1,891 259.8,886.2 263.9,885.9 C268,885.6 271.1,888.2 273.5,891.7 C275.9,895.2 277,902.9 278.3,907 C279.6,911.1 279.8,915.2 281.1,916.6 C282.4,918 284.8,917.2 285.9,915.6 C287,914 286,910.4 287.8,907 C289.6,903.6 293.5,899.6 296.5,895.5 C299.5,891.4 302.2,885.6 306,882.1 C309.8,878.6 314.3,877.7 319.4,874.5 C324.5,871.3 331,866.8 336.6,863 C342.2,859.2 349.5,852.3 352.9,851.5 C356.2,850.7 354.9,859.2 356.7,858.2 C358.4,857.2 359.7,849.5 363.4,845.8 C367.1,842.1 372.9,839.1 378.7,836.2 C384.4,833.3 392.7,830.3 397.9,828.5 C403.1,826.7 406.8,826 410,825.5 C413.2,825 414.6,823.8 417.3,825.5 C420,827.2 423.7,833 426.1,835.7 C428.6,838.4 430.6,839.2 432,841.6 C433.4,844 433.5,840.6 434.2,850.4 C434.9,860.2 435.8,897.4 436.4,900.3 C437,903.2 437,877.5 437.9,868 C438.8,858.5 440.4,844.6 441.5,843.1 C442.6,841.6 443.8,854.1 444.5,859.2 C445.2,864.3 445.4,865.6 445.9,873.9 C446.4,882.2 446.8,905.2 447.4,909.1 C448,913 448.9,901.3 449.6,897.4 C450.3,893.5 451.1,885.6 451.8,885.6 C452.5,885.6 453.4,892.5 454,897.4 C454.6,902.3 454.9,908.9 455.5,915 C456.1,921.1 457,933.8 457.7,934 C458.4,934.2 459,920.5 459.9,916.4 C460.8,912.2 461.8,913.7 462.8,909.1 C463.8,904.5 464.9,893.5 465.7,888.6 C466.5,883.7 467.2,877.1 467.9,879.8 C468.6,882.5 469,901.8 470.1,904.7 C471.2,907.6 473.3,901.8 474.5,897.4 C475.7,893 476.8,877.6 477.5,878.3 C478.2,879 478.3,895.4 478.9,901.8 C479.5,908.1 480.4,916.6 481.1,916.4 C481.8,916.1 482.4,905.9 483.3,900.3 C484.2,894.7 485.2,887.1 486.3,882.7 C487.4,878.3 488.6,874.9 489.9,873.9 C491.2,872.9 493.3,874.8 494.3,876.8 C495.3,878.8 495.3,882.2 495.8,885.6 C496.3,889 496.8,890.8 497.3,897.4 C497.8,904 498.2,924.2 498.7,925.2 C499.2,926.2 499.3,908.8 500.2,903.2 C501.1,897.6 502.8,896.1 503.9,891.5 C505,886.9 505.8,874.3 506.8,875.3 C507.8,876.3 508.8,898.9 509.8,897.4 C510.8,895.9 511.7,869 512.7,866.5 C513.7,864 514.1,880.5 515.6,882.7 C517.1,884.9 519.9,885.4 521.5,879.8 C523.1,874.2 524.2,850.4 525.2,848.9 C526.2,847.4 526.7,864.6 527.4,871 C528.1,877.4 528.6,885.1 529.6,887.1 C530.6,889.1 532.4,889.1 533.2,882.7 C534.1,876.3 533.7,855.8 534.7,848.9 C535.7,842 537.9,843.3 539.1,841.6 C540.3,839.9 541.1,836.8 542,838.7 C542.9,840.7 543.7,856.5 544.2,853.3 C544.7,850.1 543.9,826.9 545,819.6 C546.1,812.3 549.5,805.6 550.8,809.3 C552.1,813 552,837.2 553,841.6 C554,846 555.6,838.4 556.7,835.7 C557.8,833 558.6,831.1 559.6,825.5 C560.6,819.9 561.6,805.2 562.6,802 C563.6,798.8 564.3,807.4 565.5,806.4 C566.7,805.4 568.7,795.6 569.9,796.1 C571.1,796.6 571.6,808.3 572.8,809.3 C574,810.3 575,805.2 577.2,802 C579.4,798.8 583.8,791.3 586,790.3 C588.2,789.3 588.9,793.2 590.4,796.1 C591.9,799 593.3,806.7 594.8,807.9 C596.3,809.1 598.5,804.2 599.2,803.5" fill="none" stroke="#22ee22" stroke-width="3" stroke-linejoin="round" stroke-linecap="round" />
<path d="M146.3,807.5 C149.2,805.8 158.1,800.9 164,797.5 C169.9,794.1 178,788.8 181.7,787.4 C185.4,786 184.5,783.4 186.4,789.3 C188.3,795.2 190.7,812.1 193.1,822.8 C195.5,833.5 197.9,845.8 200.8,853.4 C203.7,861 207.4,865.5 210.4,868.7 C213.4,871.9 216.3,872.8 219,872.5 C221.7,872.2 223.6,871.6 226.6,866.8 C229.6,862 233.4,850.3 237.1,843.9 C240.8,837.5 244.1,836 248.6,828.5 C253.1,821 260.3,804.6 263.9,798.9 C267.5,793.1 268.1,795.1 270,794 C271.9,792.9 274.1,792 275.4,792.2 C276.7,792.4 277.1,793.1 278,795 C278.9,796.9 280.1,803 281.1,803.7 C282.1,804.5 283,800.3 284,799.5 C285,798.7 285.9,800.5 286.9,798.9 C287.9,797.3 288.7,793.4 290,790 C291.3,786.6 292.3,784.2 294.5,778.8 C296.7,773.4 300.6,761.9 303.1,757.8 C305.7,753.6 306.5,756.5 309.8,753.9 C313.1,751.3 318.7,746.9 323.2,742.4 C327.7,737.9 332.1,731.5 336.6,727.1 C341.1,722.7 347.1,718.2 350,715.7 C352.9,713.2 352.1,714.1 353.8,711.8 C355.5,709.5 357.4,705.7 360,702 C362.6,698.3 364.5,694.5 369.2,689.8 C373.9,685.1 383.7,676.9 388.3,673.6 C392.9,670.3 392.5,672.9 396.6,669.8 C400.8,666.7 408.5,658.3 413.2,654.9 C417.9,651.5 421.2,649.6 424.8,649.6 C428.4,649.6 432.4,652.9 434.7,654.9 C437,656.9 438.1,659.3 438.9,661.5 C439.7,663.7 439,665.9 439.7,668.1 C440.4,670.3 442.4,671.2 443,674.8 C443.6,678.4 442.9,683.9 443,689.7 C443.1,695.5 443.4,702.7 443.8,709.6 C444.2,716.5 444.8,731.8 445.5,731.2 C446.2,730.7 447.2,710.2 448,706.3 C448.8,702.4 449.9,706.2 450.5,707.9 C451.1,709.5 450.9,712.6 451.3,716.2 C451.7,719.8 452.7,724.5 453,729.5 C453.3,734.5 452.9,740 453,746.1 C453.1,752.2 453.2,760.5 453.8,766 C454.4,771.5 455.6,778.2 456.3,779.3 C457,780.4 457.1,776.2 457.9,772.6 C458.7,769 460.1,758.2 460.9,757.7 C461.7,757.2 462,763.2 462.9,769.3 C463.8,775.4 464.9,792.5 466.2,794.2 C467.4,795.9 469.3,783.7 470.4,779.3 C471.5,774.9 471.9,773.7 472.9,767.6 C473.9,761.5 475.4,744.2 476.2,742.8 C477,741.4 477.2,754.1 477.8,759.4 C478.4,764.6 478.9,770.7 479.5,774.3 C480.1,777.9 480.4,780.9 481.2,780.9 C482,780.9 483.4,775.1 484.5,774.3 C485.6,773.5 487,771.6 487.8,775.9 C488.6,780.2 489,767.8 489.5,800 C490,832.2 490.1,971.1 490.6,969 C491.2,966.9 492.2,820.8 492.8,787.5 C493.4,754.2 493.6,773.7 494.4,769.3 C495.2,764.9 496.9,766.2 497.7,761 C498.5,755.8 498.4,743 499.4,737.8 C500.4,732.5 502.4,728.7 503.5,729.5 C504.6,730.3 505.3,735.1 506,742.8 C506.7,750.5 506.6,771.2 507.7,775.9 C508.8,780.6 511.6,775.3 512.7,770.9 C513.8,766.5 514,759.6 514.3,749.4 C514.6,739.2 513.8,716 514.3,709.6 C514.8,703.2 516.6,709.1 517.6,711.3 C518.6,713.5 519,722.6 520.1,722.9 C521.2,723.2 523.3,712.3 524.3,712.9 C525.3,713.5 525.1,722.9 525.9,726.2 C526.7,729.5 528.5,729.8 529.3,732.8 C530.1,735.8 530.1,739.7 530.9,744.4 C531.7,749.1 533.2,762.6 534.2,761 C535.2,759.4 535.7,739.8 536.7,734.5 C537.7,729.2 539.2,734.5 540,729.5 C540.8,724.5 541,700.2 541.7,704.6 C542.4,709 543.5,753 544.2,756 C544.9,759 545,731.7 545.8,722.9 C546.6,714.1 548.1,708 549.2,703 C550.3,698 551.5,692.7 552.5,693 C553.5,693.3 553.9,708.5 555,704.6 C556.1,700.7 557.9,676.4 559.1,669.8 C560.3,663.2 561,664.2 562.4,664.8 C563.8,665.3 566,669.2 567.4,673.1 C568.8,677 569.6,688 570.7,688 C571.8,688 572.3,674.8 574,673.1 C575.7,671.5 578.5,675.1 580.7,678.1 C582.9,681.1 584.5,690.6 587.3,691.4 C590,692.2 594.3,683.4 597.2,683.1 C600.1,682.8 602.2,686.7 604.7,689.7 C607.2,692.7 611,699.4 612.2,701.3" fill="none" stroke="#1a1adc" stroke-width="3" stroke-linejoin="round" stroke-linecap="round" />
<line x1="658.5" y1="588" x2="697" y2="588" stroke="#22ee22" stroke-width="3.2" stroke-linecap="butt"/>
<text x="705.7" y="596" font-size="21" fill="#111" text-anchor="start" font-weight="bold" font-family="Liberation Sans, Arial, sans-serif" textLength="31" lengthAdjust="spacingAndGlyphs">RIF</text>
<line x1="657.6" y1="617" x2="695.3" y2="617" stroke="#1a1adc" stroke-width="3.2" stroke-linecap="butt"/>
<text x="702.9" y="626" font-size="21" fill="#111" text-anchor="start" font-weight="bold" font-family="Liberation Sans, Arial, sans-serif" textLength="65" lengthAdjust="spacingAndGlyphs">Zn-RIF</text>
<line x1="657.6" y1="643.6" x2="695.3" y2="643.6" stroke="#ee1c1c" stroke-width="3.2" stroke-linecap="butt"/>
<text x="702.9" y="652" font-size="21" fill="#111" text-anchor="start" font-weight="bold" font-family="Liberation Sans, Arial, sans-serif" textLength="93" lengthAdjust="spacingAndGlyphs">Zn(NO<tspan font-size="13" dy="3">3</tspan><tspan dy="-3">)</tspan><tspan font-size="13" dy="3">2</tspan></text>
<text x="854" y="591" font-size="44" fill="#000" text-anchor="start" font-weight="bold" font-family="Liberation Serif, Times New Roman, serif" >C</text>
<polyline points="973.9,631.4 973.9,1008.7 1499.8,1008.7" fill="none" stroke="#404040" stroke-width="2.2"/>
<line x1="966.5" y1="1008.7" x2="973.9" y2="1008.7" stroke="#404040" stroke-width="2" stroke-linecap="butt"/>
<text x="952" y="1018.5" font-size="28" fill="#111" text-anchor="end" font-weight="bold" font-family="Liberation Sans, Arial, sans-serif" letter-spacing="-0.8">0</text>
<line x1="966.5" y1="961.6" x2="973.9" y2="961.6" stroke="#404040" stroke-width="2" stroke-linecap="butt"/>
<text x="952" y="971.4" font-size="28" fill="#111" text-anchor="end" font-weight="bold" font-family="Liberation Sans, Arial, sans-serif" letter-spacing="-0.8">0.5</text>
<line x1="966.5" y1="914.4" x2="973.9" y2="914.4" stroke="#404040" stroke-width="2" stroke-linecap="butt"/>
<text x="952" y="924.2" font-size="28" fill="#111" text-anchor="end" font-weight="bold" font-family="Liberation Sans, Arial, sans-serif" letter-spacing="-0.8">1</text>
<line x1="966.5" y1="867.2" x2="973.9" y2="867.2" stroke="#404040" stroke-width="2" stroke-linecap="butt"/>
<text x="952" y="877" font-size="28" fill="#111" text-anchor="end" font-weight="bold" font-family="Liberation Sans, Arial, sans-serif" letter-spacing="-0.8">1.5</text>
<line x1="966.5" y1="820.1" x2="973.9" y2="820.1" stroke="#404040" stroke-width="2" stroke-linecap="butt"/>
<text x="952" y="829.9" font-size="28" fill="#111" text-anchor="end" font-weight="bold" font-family="Liberation Sans, Arial, sans-serif" letter-spacing="-0.8">2</text>
<line x1="966.5" y1="773" x2="973.9" y2="773" stroke="#404040" stroke-width="2" stroke-linecap="butt"/>
<text x="952" y="782.8" font-size="28" fill="#111" text-anchor="end" font-weight="bold" font-family="Liberation Sans, Arial, sans-serif" letter-spacing="-0.8">2.5</text>
<line x1="966.5" y1="725.8" x2="973.9" y2="725.8" stroke="#404040" stroke-width="2" stroke-linecap="butt"/>
<text x="952" y="735.6" font-size="28" fill="#111" text-anchor="end" font-weight="bold" font-family="Liberation Sans, Arial, sans-serif" letter-spacing="-0.8">3</text>
<line x1="966.5" y1="678.7" x2="973.9" y2="678.7" stroke="#404040" stroke-width="2" stroke-linecap="butt"/>
<text x="952" y="688.5" font-size="28" fill="#111" text-anchor="end" font-weight="bold" font-family="Liberation Sans, Arial, sans-serif" letter-spacing="-0.8">3.5</text>
<line x1="966.5" y1="631.5" x2="973.9" y2="631.5" stroke="#404040" stroke-width="2" stroke-linecap="butt"/>
<text x="952" y="641.3" font-size="28" fill="#111" text-anchor="end" font-weight="bold" font-family="Liberation Sans, Arial, sans-serif" letter-spacing="-0.8">4</text>
<line x1="973.9" y1="1008.7" x2="973.9" y2="1018" stroke="#404040" stroke-width="2" stroke-linecap="butt"/>
<text x="973.9" y="1051.7" font-size="28.5" fill="#111" text-anchor="middle" font-weight="bold" font-family="Liberation Sans, Arial, sans-serif" letter-spacing="-1.8">0</text>
<line x1="1105.4" y1="1008.7" x2="1105.4" y2="1018" stroke="#404040" stroke-width="2" stroke-linecap="butt"/>
<text x="1105.4" y="1051.7" font-size="28.5" fill="#111" text-anchor="middle" font-weight="bold" font-family="Liberation Sans, Arial, sans-serif" letter-spacing="-1.8">200</text>
<line x1="1236.8" y1="1008.7" x2="1236.8" y2="1018" stroke="#404040" stroke-width="2" stroke-linecap="butt"/>
<text x="1236.8" y="1051.7" font-size="28.5" fill="#111" text-anchor="middle" font-weight="bold" font-family="Liberation Sans, Arial, sans-serif" letter-spacing="-1.8">400</text>
<line x1="1368.3" y1="1008.7" x2="1368.3" y2="1018" stroke="#404040" stroke-width="2" stroke-linecap="butt"/>
<text x="1368.3" y="1051.7" font-size="28.5" fill="#111" text-anchor="middle" font-weight="bold" font-family="Liberation Sans, Arial, sans-serif" letter-spacing="-1.8">600</text>
<line x1="1499.8" y1="1008.7" x2="1499.8" y2="1018" stroke="#404040" stroke-width="2" stroke-linecap="butt"/>
<text x="1499.8" y="1051.7" font-size="28.5" fill="#111" text-anchor="middle" font-weight="bold" font-family="Liberation Sans, Arial, sans-serif" letter-spacing="-1.8">800</text>
<text x="1238.5" y="1086.5" font-size="24" fill="#111" text-anchor="middle" font-weight="bold" font-family="Liberation Sans, Arial, sans-serif" textLength="221" lengthAdjust="spacingAndGlyphs">Wave length (nm)</text>
<text x="0" y="0" transform="translate(903,822) rotate(-90)" font-size="24" font-weight="bold" font-family="Liberation Sans, Arial, sans-serif" text-anchor="middle" fill="#111" textLength="221" lengthAdjust="spacingAndGlyphs">Absorbance (a.u.)</text>
<polyline points="1171.8,773 1173,766 1174.2,759.1 1175.4,752.2 1176.6,745.3 1177.8,738.3 1179,731.2 1180.2,724 1181.4,716.5 1182.6,709 1183.8,701.2 1185,693.7 1186.3,687 1187.5,681.6 1188.7,677.9 1189.9,675.4 1191.1,673.9 1192.3,672.8 1193.5,672.1 1194.7,671.5 1195.9,671.1 1197.1,671.2 1198.3,672.8 1199.5,677.4 1200.7,687.5 1201.9,705.2 1203.1,728.9 1204.4,752.2 1205.6,770.9 1206.8,788.7 1208,808.6 1209.2,832 1210.4,856.2 1211.6,877.4 1212.8,893.2 1214,903.9 1215.2,911.9 1216.4,919.3 1217.6,926.4 1218.8,932.9 1220,938.7 1221.2,943.8 1222.5,948.3 1223.7,952.1 1224.9,955.3 1226.1,958.1 1227.3,960.5 1228.5,962.5 1229.7,964.2 1230.9,965.5 1232.1,966.3 1233.3,966.5 1234.5,966 1235.7,964.8 1236.9,963 1238.1,960.6 1239.3,957.8 1240.6,954.5 1241.8,950.9 1243,947 1244.2,942.7 1245.4,938.2 1246.6,933.3 1247.8,928.1 1249,922.6 1250.2,916.8 1251.4,910.8 1252.6,904.6 1253.8,898.3 1255,891.9 1256.2,885.5 1257.4,879.2 1258.7,873 1259.9,866.9 1261.1,861.2 1262.3,855.6 1263.5,850.3 1264.7,845.1 1265.9,840.1 1267.1,835.2 1268.3,830.4 1269.5,825.7 1270.7,821 1271.9,816.3 1273.1,811.8 1274.3,807.4 1275.5,803.2 1276.8,799.3 1278,795.8 1279.2,792.8 1280.4,790.2 1281.6,788.1 1282.8,786.5 1284,785.4 1285.2,784.7 1286.4,784.3 1287.6,784.3 1288.8,784.7 1290,785.5 1291.2,786.8 1292.4,788.7 1293.6,791.2 1294.9,794.3 1296.1,798.1 1297.3,802.5 1298.5,807.4 1299.7,812.9 1300.9,818.8 1302.1,825 1303.3,831.7 1304.5,838.6 1305.7,845.8 1306.9,853.1 1308.1,860.5 1309.3,868 1310.5,875.6 1311.7,883 1313,890.3 1314.2,897.5 1315.4,904.5 1316.6,911.4 1317.8,918 1319,924.4 1320.2,930.6 1321.4,936.5 1322.6,942.1 1323.8,947.4 1325,952.5 1326.2,957.3 1327.4,961.8 1328.6,965.9 1329.8,969.8 1331.1,973.5 1332.3,976.8 1333.5,979.8 1334.7,982.6 1335.9,985.1 1337.1,987.3 1338.3,989.4 1339.5,991.1 1340.7,992.7 1341.9,994 1343.1,995.2 1344.3,996.2 1345.5,997.2 1346.7,998 1347.9,998.7 1349.2,999.4 1350.4,1000.1 1351.6,1000.7 1352.8,1001.2 1354,1001.7 1355.2,1002.1 1356.4,1002.6 1357.6,1002.9 1358.8,1003.3 1360,1003.6 1361.2,1003.8 1362.4,1004.1 1363.6,1004.3 1364.8,1004.5 1366,1004.7 1367.3,1004.8 1368.5,1005 1369.7,1005.1 1370.9,1005.2 1372.1,1005.3 1373.3,1005.3 1374.5,1005.4 1375.7,1005.5 1376.9,1005.5 1378.1,1005.6 1379.3,1005.7 1380.5,1005.7 1381.7,1005.8 1382.9,1005.8 1384.1,1005.8 1385.4,1005.9 1386.6,1005.9 1387.8,1005.9 1389,1006 1390.2,1006 1391.4,1006 1392.6,1006 1393.8,1006 1395,1006 1396.2,1006 1397.4,1006 1398.6,1006.1 1399.8,1006.1 1401,1006.1 1402.2,1006.1 1403.5,1006.1 1404.7,1006.1 1405.9,1006.1 1407.1,1006.1 1408.3,1006.1 1409.5,1006.1 1410.7,1006 1411.9,1006 1413.1,1006 1414.3,1006 1415.5,1006 1416.7,1006 1417.9,1006 1419.1,1006.1 1420.3,1006.1 1421.6,1006.1 1422.8,1006.1 1424,1006.1 1425.2,1006.1 1426.4,1006.1 1427.6,1006.1 1428.8,1006.1 1430,1006.2 1431.2,1006.2 1432.4,1006.2 1433.6,1006.3 1434.8,1006.3 1436,1006.3" fill="none" stroke="#2f72d2" stroke-width="4.2" stroke-linejoin="round" stroke-linecap="round" />
<polyline points="1170.5,750.3 1171.7,747.4 1172.9,744.3 1174.1,740.8 1175.3,736.8 1176.5,732.4 1177.7,727.5 1178.9,722 1180.2,716 1181.4,709.7 1182.6,703.2 1183.8,696.6 1185,690.3 1186.2,684.7 1187.4,680 1188.6,676.6 1189.9,674 1191.1,672.2 1192.3,670.9 1193.5,670 1194.7,669.4 1195.9,669.2 1197.1,669.7 1198.3,671.8 1199.6,676.8 1200.8,687.1 1202,705.1 1203.2,729.1 1204.4,752.1 1205.6,770.2 1206.8,787.9 1208,808.1 1209.3,831.4 1210.5,854.9 1211.7,875.3 1212.9,890.3 1214.1,900.3 1215.3,907.8 1216.5,914.7 1217.8,921.1 1219,926.9 1220.2,932.3 1221.4,937 1222.6,941.3 1223.8,945 1225,948.2 1226.2,950.9 1227.5,953.2 1228.7,955.2 1229.9,956.7 1231.1,957.9 1232.3,958.6 1233.5,958.8 1234.7,958.5 1235.9,957.6 1237.2,956.3 1238.4,954.4 1239.6,952.1 1240.8,949.3 1242,946 1243.2,942.4 1244.4,938.3 1245.6,933.9 1246.9,929.1 1248.1,923.9 1249.3,918.5 1250.5,912.7 1251.7,906.7 1252.9,900.5 1254.1,894.2 1255.3,887.9 1256.6,881.6 1257.8,875.4 1259,869.3 1260.2,863.4 1261.4,857.8 1262.6,852.4 1263.8,847.3 1265,842.2 1266.3,837.3 1267.5,832.6 1268.7,827.9 1269.9,823.2 1271.1,818.6 1272.3,813.9 1273.5,809.4 1274.7,805.1 1276,800.9 1277.2,797.2 1278.4,793.8 1279.6,790.8 1280.8,788.4 1282,786.5 1283.2,785.1 1284.4,784.1 1285.7,783.5 1286.9,783.3 1288.1,783.5 1289.3,784 1290.5,785 1291.7,786.6 1292.9,788.7 1294.1,791.5 1295.4,794.9 1296.6,799 1297.8,803.6 1299,808.8 1300.2,814.5 1301.4,820.6 1302.6,827.1 1303.9,833.9 1305.1,840.9 1306.3,848.2 1307.5,855.7 1308.7,863.2 1309.9,870.7 1311.1,878.3 1312.3,885.7 1313.6,893 1314.8,900.1 1316,907.1 1317.2,913.9 1318.4,920.4 1319.6,926.7 1320.8,932.8 1322,938.6 1323.3,944.1 1324.5,949.3 1325.7,954.2 1326.9,958.8 1328.1,963.2 1329.3,967.2 1330.5,971 1331.7,974.4 1333,977.6 1334.2,980.5 1335.4,983.2 1336.6,985.5 1337.8,987.6 1339,989.5 1340.2,991.1 1341.4,992.6 1342.7,993.8 1343.9,994.9 1345.1,995.9 1346.3,996.7 1347.5,997.5 1348.7,998.3 1349.9,999 1351.1,999.6 1352.4,1000.2 1353.6,1000.7 1354.8,1001.2 1356,1001.7 1357.2,1002.1 1358.4,1002.4 1359.6,1002.7 1360.8,1003 1362.1,1003.3 1363.3,1003.5 1364.5,1003.7 1365.7,1003.8 1366.9,1004 1368.1,1004.1 1369.3,1004.2 1370.5,1004.3 1371.8,1004.3 1373,1004.4 1374.2,1004.5 1375.4,1004.5 1376.6,1004.6 1377.8,1004.6 1379,1004.7 1380.3,1004.7 1381.5,1004.7 1382.7,1004.8 1383.9,1004.8 1385.1,1004.8 1386.3,1004.9 1387.5,1004.9 1388.7,1004.9 1390,1005 1391.2,1005 1392.4,1005 1393.6,1005 1394.8,1005 1396,1005.1 1397.2,1005.1 1398.4,1005.1 1399.7,1005.1 1400.9,1005.1 1402.1,1005.1 1403.3,1005.1 1404.5,1005.1 1405.7,1005.2 1406.9,1005.2 1408.1,1005.2 1409.4,1005.2 1410.6,1005.2 1411.8,1005.2 1413,1005.2 1414.2,1005.2 1415.4,1005.2 1416.6,1005.2 1417.8,1005.2 1419.1,1005.2 1420.3,1005.2 1421.5,1005.2 1422.7,1005.3 1423.9,1005.3 1425.1,1005.3 1426.3,1005.3 1427.5,1005.3 1428.8,1005.3 1430,1005.3 1431.2,1005.3 1432.4,1005.3 1433.6,1005.4 1434.8,1005.4 1436,1005.4" fill="none" stroke="#c21418" stroke-width="4.2" stroke-linejoin="round" stroke-linecap="round" />
<line x1="1364.8" y1="639" x2="1411.8" y2="639" stroke="#2f72d2" stroke-width="4.2" stroke-linecap="round"/>
<text x="1421.9" y="646" font-size="22.5" fill="#111" text-anchor="start" font-weight="bold" font-family="Liberation Sans, Arial, sans-serif" textLength="30" lengthAdjust="spacingAndGlyphs">RIF</text>
<line x1="1364.8" y1="684.4" x2="1411.8" y2="684.4" stroke="#c21418" stroke-width="4.2" stroke-linecap="round"/>
<text x="1421.4" y="692" font-size="22.5" fill="#111" text-anchor="start" font-weight="bold" font-family="Liberation Sans, Arial, sans-serif" textLength="66" lengthAdjust="spacingAndGlyphs">Zn-RIF</text>
<text x="24" y="1138" font-size="44" fill="#000" text-anchor="start" font-weight="bold" font-family="Liberation Serif, Times New Roman, serif" >D</text>
<line x1="83.9" y1="1182.5" x2="83.9" y2="1584.4" stroke="#9a9a9a" stroke-width="2.4" stroke-linecap="butt"/>
<line x1="83.9" y1="1584.4" x2="663.2" y2="1584.4" stroke="#9a9a9a" stroke-width="2.4" stroke-linecap="butt"/>
<line x1="76.4" y1="1211.2" x2="83.9" y2="1211.2" stroke="#555" stroke-width="2" stroke-linecap="butt"/>
<line x1="80.4" y1="1239.8" x2="83.9" y2="1239.8" stroke="#555" stroke-width="2" stroke-linecap="butt"/>
<line x1="76.4" y1="1268.5" x2="83.9" y2="1268.5" stroke="#555" stroke-width="2" stroke-linecap="butt"/>
<line x1="80.4" y1="1297.1" x2="83.9" y2="1297.1" stroke="#555" stroke-width="2" stroke-linecap="butt"/>
<line x1="76.4" y1="1325.7" x2="83.9" y2="1325.7" stroke="#555" stroke-width="2" stroke-linecap="butt"/>
<line x1="80.4" y1="1354.4" x2="83.9" y2="1354.4" stroke="#555" stroke-width="2" stroke-linecap="butt"/>
<line x1="76.4" y1="1383" x2="83.9" y2="1383" stroke="#555" stroke-width="2" stroke-linecap="butt"/>
<line x1="80.4" y1="1411.6" x2="83.9" y2="1411.6" stroke="#555" stroke-width="2" stroke-linecap="butt"/>
<line x1="76.4" y1="1440.2" x2="83.9" y2="1440.2" stroke="#555" stroke-width="2" stroke-linecap="butt"/>
<line x1="80.4" y1="1468.9" x2="83.9" y2="1468.9" stroke="#555" stroke-width="2" stroke-linecap="butt"/>
<line x1="76.4" y1="1497.5" x2="83.9" y2="1497.5" stroke="#555" stroke-width="2" stroke-linecap="butt"/>
<line x1="80.4" y1="1526.1" x2="83.9" y2="1526.1" stroke="#555" stroke-width="2" stroke-linecap="butt"/>
<line x1="76.4" y1="1554.8" x2="83.9" y2="1554.8" stroke="#555" stroke-width="2" stroke-linecap="butt"/>
<line x1="80.4" y1="1583.4" x2="83.9" y2="1583.4" stroke="#555" stroke-width="2" stroke-linecap="butt"/>
<line x1="83.9" y1="1584.4" x2="83.9" y2="1591.4" stroke="#555" stroke-width="2" stroke-linecap="butt"/>
<line x1="116.1" y1="1584.4" x2="116.1" y2="1587.9" stroke="#555" stroke-width="2" stroke-linecap="butt"/>
<line x1="148.2" y1="1584.4" x2="148.2" y2="1591.4" stroke="#555" stroke-width="2" stroke-linecap="butt"/>
<line x1="180.4" y1="1584.4" x2="180.4" y2="1587.9" stroke="#555" stroke-width="2" stroke-linecap="butt"/>
<line x1="212.6" y1="1584.4" x2="212.6" y2="1591.4" stroke="#555" stroke-width="2" stroke-linecap="butt"/>
<line x1="244.8" y1="1584.4" x2="244.8" y2="1587.9" stroke="#555" stroke-width="2" stroke-linecap="butt"/>
<line x1="276.9" y1="1584.4" x2="276.9" y2="1591.4" stroke="#555" stroke-width="2" stroke-linecap="butt"/>
<line x1="309.1" y1="1584.4" x2="309.1" y2="1587.9" stroke="#555" stroke-width="2" stroke-linecap="butt"/>
<line x1="341.3" y1="1584.4" x2="341.3" y2="1591.4" stroke="#555" stroke-width="2" stroke-linecap="butt"/>
<line x1="373.5" y1="1584.4" x2="373.5" y2="1587.9" stroke="#555" stroke-width="2" stroke-linecap="butt"/>
<line x1="405.6" y1="1584.4" x2="405.6" y2="1591.4" stroke="#555" stroke-width="2" stroke-linecap="butt"/>
<line x1="437.8" y1="1584.4" x2="437.8" y2="1587.9" stroke="#555" stroke-width="2" stroke-linecap="butt"/>
<line x1="470" y1="1584.4" x2="470" y2="1591.4" stroke="#555" stroke-width="2" stroke-linecap="butt"/>
<line x1="502.1" y1="1584.4" x2="502.1" y2="1587.9" stroke="#555" stroke-width="2" stroke-linecap="butt"/>
<line x1="534.3" y1="1584.4" x2="534.3" y2="1591.4" stroke="#555" stroke-width="2" stroke-linecap="butt"/>
<line x1="566.5" y1="1584.4" x2="566.5" y2="1587.9" stroke="#555" stroke-width="2" stroke-linecap="butt"/>
<line x1="598.7" y1="1584.4" x2="598.7" y2="1591.4" stroke="#555" stroke-width="2" stroke-linecap="butt"/>
<line x1="630.8" y1="1584.4" x2="630.8" y2="1587.9" stroke="#555" stroke-width="2" stroke-linecap="butt"/>
<line x1="663" y1="1584.4" x2="663" y2="1591.4" stroke="#555" stroke-width="2" stroke-linecap="butt"/>
<text x="84.4" y="1613.2" font-size="20" fill="#3a3a3a" text-anchor="middle" font-weight="bold" font-family="Liberation Sans, Arial, sans-serif" textLength="27" lengthAdjust="spacingAndGlyphs">200</text>
<text x="148.7" y="1613.2" font-size="20" fill="#3a3a3a" text-anchor="middle" font-weight="bold" font-family="Liberation Sans, Arial, sans-serif" textLength="27" lengthAdjust="spacingAndGlyphs">220</text>
<text x="213.1" y="1613.2" font-size="20" fill="#3a3a3a" text-anchor="middle" font-weight="bold" font-family="Liberation Sans, Arial, sans-serif" textLength="27" lengthAdjust="spacingAndGlyphs">240</text>
<text x="277.4" y="1613.2" font-size="20" fill="#3a3a3a" text-anchor="middle" font-weight="bold" font-family="Liberation Sans, Arial, sans-serif" textLength="27" lengthAdjust="spacingAndGlyphs">260</text>
<text x="341.8" y="1613.2" font-size="20" fill="#3a3a3a" text-anchor="middle" font-weight="bold" font-family="Liberation Sans, Arial, sans-serif" textLength="27" lengthAdjust="spacingAndGlyphs">280</text>
<text x="406.1" y="1613.2" font-size="20" fill="#3a3a3a" text-anchor="middle" font-weight="bold" font-family="Liberation Sans, Arial, sans-serif" textLength="27" lengthAdjust="spacingAndGlyphs">300</text>
<text x="470.5" y="1613.2" font-size="20" fill="#3a3a3a" text-anchor="middle" font-weight="bold" font-family="Liberation Sans, Arial, sans-serif" textLength="27" lengthAdjust="spacingAndGlyphs">320</text>
<text x="534.8" y="1613.2" font-size="20" fill="#3a3a3a" text-anchor="middle" font-weight="bold" font-family="Liberation Sans, Arial, sans-serif" textLength="27" lengthAdjust="spacingAndGlyphs">340</text>
<text x="599.2" y="1613.2" font-size="20" fill="#3a3a3a" text-anchor="middle" font-weight="bold" font-family="Liberation Sans, Arial, sans-serif" textLength="27" lengthAdjust="spacingAndGlyphs">360</text>
<text x="663.5" y="1613.2" font-size="20" fill="#3a3a3a" text-anchor="middle" font-weight="bold" font-family="Liberation Sans, Arial, sans-serif" textLength="27" lengthAdjust="spacingAndGlyphs">380</text>
<text x="0" y="0" transform="translate(63,1359) rotate(-90)" font-size="24" font-weight="bold" font-family="Liberation Sans, Arial, sans-serif" text-anchor="middle" fill="#111" textLength="170" lengthAdjust="spacingAndGlyphs">Intensity(a.u.)</text>
<text x="374.2" y="1649.5" font-size="24.5" fill="#111" text-anchor="middle" font-weight="bold" font-family="Liberation Sans, Arial, sans-serif" textLength="220" lengthAdjust="spacingAndGlyphs">Wave Length (nm)</text>
<path d="M149.5,1316.5 C150.6,1319.1 154.5,1327.2 156.2,1332 C158,1336.8 158.5,1340.5 160,1345 C161.5,1349.5 163.4,1355.2 165.2,1359 C167,1362.8 168.8,1364.7 171,1368 C173.2,1371.3 176.3,1376.3 178.6,1379 C180.9,1381.7 182.8,1382.5 185,1384 C187.2,1385.5 189.5,1386.7 192,1388 C194.5,1389.3 197,1390.2 200,1392 C203,1393.8 206.8,1397.2 209.8,1399 C212.8,1400.8 215,1400.4 218,1403 C221,1405.6 225.4,1411 227.7,1414.7 C230,1418.4 230.5,1420.9 232,1425 C233.5,1429.1 235.1,1433.8 236.6,1439.3 C238.1,1444.8 239.5,1452 241,1458 C242.5,1464 243.7,1469 245.5,1475 C247.3,1481 249.8,1488 252,1494 C254.2,1500 256.7,1506.2 258.9,1510.7 C261.1,1515.2 262.8,1518.2 265,1521 C267.2,1523.8 270,1526.5 272.3,1527.7 C274.6,1529 276.8,1528.7 279,1528.5 C281.2,1528.3 283.2,1527.7 285.7,1526.3 C288.2,1524.9 291,1522.6 294,1520 C297,1517.4 300.3,1515 303.6,1510.7 C306.9,1506.4 310.3,1500 314,1494 C317.7,1488 321.6,1482.3 325.9,1475 C330.2,1467.7 335.5,1457.8 340,1450 C344.5,1442.2 349,1432.8 352.7,1428 C356.4,1423.2 358.6,1422.6 362,1421.5 C365.4,1420.4 369.5,1420.3 372.8,1421.4 C376.1,1422.5 378.6,1425 382,1428 C385.4,1431 389.1,1434.8 392.9,1439.3 C396.7,1443.8 400.6,1449 405,1455 C409.4,1461 415.1,1469 419.6,1475 C424.1,1481 427.5,1485.8 432,1491 C436.5,1496.2 441.7,1501.4 446.4,1506.2 C451.1,1511.1 455.5,1515.5 460,1520 C464.5,1524.5 468.7,1529.3 473.2,1533 C477.7,1536.7 482.5,1539.4 487,1542 C491.5,1544.6 496.2,1547.3 500,1548.7 C503.8,1550.1 507,1550.1 510,1550.5 C513,1550.9 514.6,1551 517.9,1550.9 C521.2,1550.8 526.3,1550.4 530,1550 C533.7,1549.6 536.9,1548.6 540.2,1548.7 C543.5,1548.8 546.3,1549.5 550,1550.5 C553.7,1551.5 557.5,1553.2 562.5,1554.5 C567.5,1555.8 574,1557.2 580,1558.5 C586,1559.8 595.2,1561.4 598.2,1562" fill="none" stroke="#111" stroke-width="3.3" stroke-linejoin="round" stroke-linecap="round" />
<path d="M147.3,1400 C149.2,1398.7 155.6,1395.7 158.5,1392.4 C161.4,1389.1 162.8,1385.1 165,1380 C167.2,1374.9 169.7,1367.8 172,1362 C174.3,1356.2 176.3,1354.2 178.6,1345.5 C180.9,1336.8 183,1324.9 186,1310 C189,1295.1 193.6,1268.8 196.4,1256.2 C199.2,1243.8 200.9,1242.7 203,1235 C205.1,1227.3 207.2,1215.3 209,1210 C210.8,1204.7 212.4,1204.1 214,1203 C215.6,1201.9 217.1,1202.8 218.8,1203.6 C220.4,1204.4 222.5,1205.9 224,1208 C225.5,1210.1 226,1209.8 227.7,1216 C229.4,1222.2 231.8,1233.1 234,1245 C236.2,1256.9 238.7,1271.7 241,1287.5 C243.3,1303.3 245.4,1319.2 248,1340 C250.6,1360.8 254.4,1396.7 256.7,1412.5 C259,1428.3 260.1,1429 262,1435 C263.9,1441 266.1,1444.9 267.9,1448.2 C269.7,1451.5 271.1,1453.1 273,1455 C274.9,1456.9 276.8,1459.2 279,1459.4 C281.2,1459.6 283.4,1457.1 286,1456 C288.6,1454.9 291.8,1455 294.6,1452.7 C297.4,1450.4 300,1446.5 303,1442 C306,1437.5 309.5,1432.1 312.5,1425.9 C315.5,1419.7 318,1412.4 321,1405 C324,1397.6 327.2,1388.4 330.4,1381.2 C333.6,1374.1 336.3,1367.6 340,1362 C343.7,1356.4 349.4,1350.3 352.7,1347.8 C356,1345.3 357.4,1347 360,1347 C362.6,1347 365.6,1346.3 368.3,1347.8 C371,1349.3 373.4,1352.7 376,1356 C378.6,1359.3 381.2,1362.6 383.9,1367.9 C386.6,1373.2 389,1380.6 392,1388 C395,1395.4 398.8,1405.5 401.8,1412.5 C404.8,1419.5 407,1424.8 410,1430 C413,1435.2 415.9,1439.4 419.6,1443.8 C423.3,1448.1 427.5,1451.9 432,1456 C436.5,1460.1 440.9,1464.6 446.4,1468.3 C451.9,1472 459.1,1475 465,1478 C470.9,1481 477,1484 482,1486.2 C487,1488.4 490.5,1489.5 495,1491 C499.5,1492.5 504.5,1494.2 509,1495 C513.5,1495.8 517.5,1495.5 522,1495.5 C526.5,1495.5 532,1494.8 535.7,1495 C539.4,1495.2 541.4,1495.7 544,1496.5 C546.6,1497.3 548.6,1498 551.3,1499.6 C554,1501.2 556.6,1503 560,1506 C563.4,1509 567.2,1514.1 571.4,1517.4 C575.6,1520.7 580.5,1523.4 585,1526 C589.5,1528.6 596,1531.8 598.2,1533" fill="none" stroke="#f01010" stroke-width="3.3" stroke-linejoin="round" stroke-linecap="round" />
<line x1="518.5" y1="1195.7" x2="561" y2="1195.7" stroke="#111" stroke-width="3.6" stroke-linecap="round"/>
<text x="570.2" y="1204" font-size="21" fill="#111" text-anchor="start" font-weight="bold" font-family="Liberation Sans, Arial, sans-serif" textLength="28" lengthAdjust="spacingAndGlyphs">RIF</text>
<line x1="519" y1="1236.3" x2="563" y2="1236.3" stroke="#f01010" stroke-width="3.6" stroke-linecap="round"/>
<text x="572.7" y="1241.3" font-size="21" fill="#111" text-anchor="start" font-weight="bold" font-family="Liberation Sans, Arial, sans-serif" textLength="60.5" lengthAdjust="spacingAndGlyphs">Zn-RIF</text>
<text x="802" y="1133" font-size="42" fill="#000" text-anchor="start" font-weight="bold" font-family="Liberation Serif, Times New Roman, serif" >E</text>
<line x1="873.6" y1="1145" x2="873.6" y2="1612.7" stroke="#666" stroke-width="2.6" stroke-linecap="square"/>
<line x1="873.6" y1="1145" x2="1508.2" y2="1145" stroke="#222" stroke-width="2.6" stroke-linecap="square"/>
<line x1="1508.2" y1="1145" x2="1508.2" y2="1612.7" stroke="#333" stroke-width="2.6" stroke-linecap="square"/>
<line x1="873.6" y1="1612.7" x2="1508.2" y2="1612.7" stroke="#333" stroke-width="2.6" stroke-linecap="square"/>
<line x1="865.6" y1="1192" x2="873.6" y2="1192" stroke="#333" stroke-width="2.2" stroke-linecap="butt"/>
<line x1="1500.2" y1="1192" x2="1508.2" y2="1192" stroke="#333" stroke-width="2.2" stroke-linecap="butt"/>
<line x1="868.6" y1="1238.6" x2="873.6" y2="1238.6" stroke="#333" stroke-width="2.2" stroke-linecap="butt"/>
<line x1="1500.2" y1="1238.6" x2="1508.2" y2="1238.6" stroke="#333" stroke-width="2.2" stroke-linecap="butt"/>
<line x1="865.6" y1="1285.2" x2="873.6" y2="1285.2" stroke="#333" stroke-width="2.2" stroke-linecap="butt"/>
<line x1="1500.2" y1="1285.2" x2="1508.2" y2="1285.2" stroke="#333" stroke-width="2.2" stroke-linecap="butt"/>
<line x1="868.6" y1="1331.8" x2="873.6" y2="1331.8" stroke="#333" stroke-width="2.2" stroke-linecap="butt"/>
<line x1="1500.2" y1="1331.8" x2="1508.2" y2="1331.8" stroke="#333" stroke-width="2.2" stroke-linecap="butt"/>
<line x1="865.6" y1="1378.4" x2="873.6" y2="1378.4" stroke="#333" stroke-width="2.2" stroke-linecap="butt"/>
<line x1="1500.2" y1="1378.4" x2="1508.2" y2="1378.4" stroke="#333" stroke-width="2.2" stroke-linecap="butt"/>
<line x1="868.6" y1="1425" x2="873.6" y2="1425" stroke="#333" stroke-width="2.2" stroke-linecap="butt"/>
<line x1="1500.2" y1="1425" x2="1508.2" y2="1425" stroke="#333" stroke-width="2.2" stroke-linecap="butt"/>
<line x1="865.6" y1="1471.6" x2="873.6" y2="1471.6" stroke="#333" stroke-width="2.2" stroke-linecap="butt"/>
<line x1="1500.2" y1="1471.6" x2="1508.2" y2="1471.6" stroke="#333" stroke-width="2.2" stroke-linecap="butt"/>
<line x1="868.6" y1="1518.2" x2="873.6" y2="1518.2" stroke="#333" stroke-width="2.2" stroke-linecap="butt"/>
<line x1="1500.2" y1="1518.2" x2="1508.2" y2="1518.2" stroke="#333" stroke-width="2.2" stroke-linecap="butt"/>
<line x1="865.6" y1="1564.8" x2="873.6" y2="1564.8" stroke="#333" stroke-width="2.2" stroke-linecap="butt"/>
<line x1="1500.2" y1="1564.8" x2="1508.2" y2="1564.8" stroke="#333" stroke-width="2.2" stroke-linecap="butt"/>
<line x1="936" y1="1145" x2="936" y2="1152" stroke="#333" stroke-width="2.2" stroke-linecap="butt"/>
<line x1="1000.3" y1="1145" x2="1000.3" y2="1152" stroke="#333" stroke-width="2.2" stroke-linecap="butt"/>
<line x1="1064.6" y1="1145" x2="1064.6" y2="1152" stroke="#333" stroke-width="2.2" stroke-linecap="butt"/>
<line x1="1128.9" y1="1145" x2="1128.9" y2="1152" stroke="#333" stroke-width="2.2" stroke-linecap="butt"/>
<line x1="1193.2" y1="1145" x2="1193.2" y2="1152" stroke="#333" stroke-width="2.2" stroke-linecap="butt"/>
<line x1="1257.5" y1="1145" x2="1257.5" y2="1152" stroke="#333" stroke-width="2.2" stroke-linecap="butt"/>
<line x1="1321.8" y1="1145" x2="1321.8" y2="1152" stroke="#333" stroke-width="2.2" stroke-linecap="butt"/>
<line x1="1386.1" y1="1145" x2="1386.1" y2="1152" stroke="#333" stroke-width="2.2" stroke-linecap="butt"/>
<line x1="1450.4" y1="1145" x2="1450.4" y2="1152" stroke="#333" stroke-width="2.2" stroke-linecap="butt"/>
<line x1="873.6" y1="1612.7" x2="873.6" y2="1621.7" stroke="#666" stroke-width="2" stroke-linecap="butt"/>
<text x="873.6" y="1643.5" font-size="18" fill="#333" text-anchor="middle" font-weight="normal" font-family="Liberation Sans, Arial, sans-serif" letter-spacing="-0.8">532</text>
<line x1="913.3" y1="1609.7" x2="913.3" y2="1616.7" stroke="#222" stroke-width="2.4" stroke-linecap="butt"/>
<line x1="952.9" y1="1612.7" x2="952.9" y2="1621.7" stroke="#666" stroke-width="2" stroke-linecap="butt"/>
<text x="952.9" y="1643.5" font-size="18" fill="#333" text-anchor="middle" font-weight="normal" font-family="Liberation Sans, Arial, sans-serif" letter-spacing="-0.8">1060</text>
<line x1="992.6" y1="1609.7" x2="992.6" y2="1616.7" stroke="#222" stroke-width="2.4" stroke-linecap="butt"/>
<line x1="1032.3" y1="1612.7" x2="1032.3" y2="1621.7" stroke="#666" stroke-width="2" stroke-linecap="butt"/>
<text x="1032.3" y="1643.5" font-size="18" fill="#333" text-anchor="middle" font-weight="normal" font-family="Liberation Sans, Arial, sans-serif" letter-spacing="-0.8">1060</text>
<line x1="1071.9" y1="1609.7" x2="1071.9" y2="1616.7" stroke="#222" stroke-width="2.4" stroke-linecap="butt"/>
<line x1="1111.6" y1="1612.7" x2="1111.6" y2="1621.7" stroke="#666" stroke-width="2" stroke-linecap="butt"/>
<text x="1111.6" y="1643.5" font-size="18" fill="#333" text-anchor="middle" font-weight="normal" font-family="Liberation Sans, Arial, sans-serif" letter-spacing="-0.8">1050</text>
<line x1="1151.3" y1="1609.7" x2="1151.3" y2="1616.7" stroke="#222" stroke-width="2.4" stroke-linecap="butt"/>
<line x1="1190.9" y1="1612.7" x2="1190.9" y2="1621.7" stroke="#666" stroke-width="2" stroke-linecap="butt"/>
<text x="1190.9" y="1643.5" font-size="18" fill="#333" text-anchor="middle" font-weight="normal" font-family="Liberation Sans, Arial, sans-serif" letter-spacing="-0.8">1040</text>
<line x1="1230.6" y1="1609.7" x2="1230.6" y2="1616.7" stroke="#222" stroke-width="2.4" stroke-linecap="butt"/>
<line x1="1270.2" y1="1612.7" x2="1270.2" y2="1621.7" stroke="#666" stroke-width="2" stroke-linecap="butt"/>
<text x="1270.2" y="1643.5" font-size="18" fill="#333" text-anchor="middle" font-weight="normal" font-family="Liberation Sans, Arial, sans-serif" letter-spacing="-0.8">1030</text>
<line x1="1309.9" y1="1609.7" x2="1309.9" y2="1616.7" stroke="#222" stroke-width="2.4" stroke-linecap="butt"/>
<line x1="1349.6" y1="1612.7" x2="1349.6" y2="1621.7" stroke="#666" stroke-width="2" stroke-linecap="butt"/>
<text x="1349.6" y="1643.5" font-size="18" fill="#333" text-anchor="middle" font-weight="normal" font-family="Liberation Sans, Arial, sans-serif" letter-spacing="-0.8">1030</text>
<line x1="1389.2" y1="1609.7" x2="1389.2" y2="1616.7" stroke="#222" stroke-width="2.4" stroke-linecap="butt"/>
<line x1="1428.9" y1="1612.7" x2="1428.9" y2="1621.7" stroke="#666" stroke-width="2" stroke-linecap="butt"/>
<text x="1428.9" y="1643.5" font-size="18" fill="#333" text-anchor="middle" font-weight="normal" font-family="Liberation Sans, Arial, sans-serif" letter-spacing="-0.8">1020</text>
<line x1="1468.6" y1="1609.7" x2="1468.6" y2="1616.7" stroke="#222" stroke-width="2.4" stroke-linecap="butt"/>
<line x1="1508.2" y1="1612.7" x2="1508.2" y2="1621.7" stroke="#666" stroke-width="2" stroke-linecap="butt"/>
<text x="1508.2" y="1643.5" font-size="18" fill="#333" text-anchor="middle" font-weight="normal" font-family="Liberation Sans, Arial, sans-serif" letter-spacing="-0.8">303</text>
<text x="1190.7" y="1681" font-size="22.5" fill="#3a3a3a" text-anchor="middle" font-weight="normal" font-family="Liberation Sans, Arial, sans-serif" textLength="166.7" lengthAdjust="spacingAndGlyphs">Binding Energy</text>
<text x="0" y="0" transform="translate(843,1396) rotate(-90)" font-size="19" font-family="Liberation Sans, Arial, sans-serif" text-anchor="middle" fill="#444" textLength="86" lengthAdjust="spacingAndGlyphs">Intensity</text>
<polyline points="931,1178.5 931.8,1180.9 932.6,1180.6 933.4,1180.6 934.2,1184.1 935,1184.3 935.8,1190 936.6,1196.4 937.4,1192.2 938.2,1193.9 939,1199.7 939.8,1200.3 940.6,1200.4 941.4,1197.9 942.2,1201.9 943,1205.3 943.8,1199.3 944.6,1203.3 945.4,1199.3 946.2,1202.3 947,1201.4 947.8,1207.8 948.6,1205.3 949.4,1211 950.2,1211.1 951,1210.5 951.8,1203 952.6,1210.2 953.4,1212.4 954.2,1213.4 955,1208.3 955.8,1212.4 956.6,1211.1 957.4,1212.2 958.2,1219 959,1213.8 959.8,1217.7 960.6,1222 961.4,1218.2 962.2,1221 963,1223 963.8,1224 964.6,1220.8 965.4,1226.5 966.2,1232 967,1223.4 967.8,1232.8 968.6,1231.4 969.4,1230.1 970.2,1240.1 971,1237 971.8,1231.3 972.6,1236.7 973.4,1239.4 974.2,1237.8 975,1241.8 975.8,1240.3 976.6,1243.8 977.4,1247.5 978.2,1241.3 979,1245.3 979.8,1244.1 980.6,1247.1 981.4,1243.7 982.2,1246.8 983,1249.1 983.8,1253.7 984.6,1255.3 985.4,1247.7 986.2,1250.3 987,1256 987.8,1247.8 988.6,1253.8 989.4,1255.9 990.2,1261.3 991,1260.1 991.8,1257.5 992.6,1258.1 993.4,1259.3 994.2,1266.2 995,1260.3 995.8,1261.6 996.6,1264.6 997.4,1264 998.2,1264.7 999,1262.5 999.8,1267.2 1000.6,1266.7 1001.4,1273.1 1002.2,1272.3 1003,1271 1003.8,1274.3 1004.6,1271.8 1005.4,1277.5 1006.2,1274.9 1007,1277.7 1007.8,1272.1 1008.6,1278.5 1009.4,1272.4 1010.2,1272 1011,1278.7 1011.8,1277.4 1012.6,1281.9 1013.4,1289.7 1014.2,1280.1 1015,1281.6 1015.8,1285.2 1016.6,1287 1017.4,1285.5 1018.2,1286.2 1019,1290.1 1019.8,1290.3 1020.6,1285.8 1021.4,1289.8 1022.2,1291.1 1023,1288.3 1023.8,1293.7 1024.6,1290.8 1025.4,1298 1026.2,1296.2 1027,1296.8 1027.8,1295.4 1028.6,1297.9 1029.4,1292.4 1030.2,1296.3 1031,1302.3 1031.8,1294.7 1032.6,1305.8 1033.4,1297.9 1034.2,1307.3 1035,1302.7 1035.8,1308.9 1036.6,1307.4 1037.4,1302.5 1038.2,1312.6 1039,1314 1039.8,1309.6 1040.6,1309.5 1041.4,1310.6 1042.2,1308.6 1043,1316.3 1043.8,1311.4 1044.6,1313.8 1045.4,1312 1046.2,1313.3 1047,1311.7 1047.8,1321.1 1048.6,1317 1049.4,1321.5 1050.2,1318.9 1051,1317 1051.8,1318.7 1052.6,1318.4 1053.4,1320.8 1054.2,1320 1055,1320.7 1055.8,1317.5 1056.6,1319.9 1057.4,1328.8 1058.2,1321.3 1059,1320.5 1059.8,1325.6 1060.6,1328.7 1061.4,1318.5 1062.2,1322.3 1063,1320.4 1063.8,1316.1 1064.6,1324.1 1065.4,1321 1066.2,1320.8 1067,1317.6 1067.8,1321.2 1068.6,1317.3 1069.4,1318.2 1070.2,1314.3 1071,1313.4 1071.8,1321.5 1072.6,1314.6 1073.4,1316.8 1074.2,1315.1 1075,1313.1 1075.8,1312.3 1076.6,1315.6 1077.4,1311.9 1078.2,1311.8 1079,1311.9 1079.8,1315.2 1080.6,1312.9 1081.4,1311.4 1082.2,1307.6 1083,1304.2 1083.8,1311.6 1084.6,1311.2 1085.4,1306.9 1086.2,1308.7 1087,1309 1087.8,1308.6 1088.6,1308.9 1089.4,1305.5 1090.2,1313.6 1091,1305.5 1091.8,1314.1 1092.6,1314.2 1093.4,1316.8 1094.2,1321.6 1095,1322 1095.8,1314.8 1096.6,1314.7 1097.4,1325 1098.2,1320.5 1099,1325.7 1099.8,1330.3 1100.6,1323.6 1101.4,1323.8 1102.2,1333.6 1103,1334.6 1103.8,1335.4 1104.6,1338.4 1105.4,1337.3 1106.2,1337.1 1107,1343.7 1107.8,1343 1108.6,1342.7 1109.4,1352 1110.2,1352.1 1111,1355.7 1111.8,1352.5 1112.6,1354.8 1113.4,1354.9 1114.2,1356.4 1115,1361.3 1115.8,1359.2 1116.6,1364.3 1117.4,1365.4 1118.2,1372.4 1119,1361.9 1119.8,1370.9 1120.6,1368.8 1121.4,1370.2 1122.2,1366.6 1123,1371.1 1123.8,1376.1 1124.6,1374.3 1125.4,1375.9 1126.2,1375.6 1127,1381.5 1127.8,1378.4 1128.6,1372 1129.4,1378.1 1130.2,1374.7 1131,1371.4 1131.8,1381.6 1132.6,1388.9 1133.4,1385.5 1134.2,1382.3 1135,1384.1 1135.8,1392.1 1136.6,1389.8 1137.4,1390.4 1138.2,1391 1139,1392.3 1139.8,1395.9 1140.6,1395.7 1141.4,1395.1 1142.2,1391.4 1143,1397.2 1143.8,1393.7 1144.6,1400.3 1145.4,1392.9 1146.2,1397.3 1147,1398.3 1147.8,1394.4 1148.6,1405.3 1149.4,1405 1150.2,1399 1151,1403.7 1151.8,1403 1152.6,1393.4 1153.4,1403.7 1154.2,1403.2 1155,1404.2 1155.8,1400.8 1156.6,1404.1 1157.4,1405 1158.2,1410.2 1159,1407.9 1159.8,1407.4 1160.6,1413.2 1161.4,1406.8 1162.2,1408 1163,1403.9 1163.8,1416 1164.6,1414.6 1165.4,1415.1 1166.2,1415 1167,1413.7 1167.8,1414.8 1168.6,1413.8 1169.4,1414.7 1170.2,1416.2 1171,1421.8 1171.8,1419.2 1172.6,1417.8 1173.4,1415.4 1174.2,1414.7 1175,1421.7 1175.8,1417.4 1176.6,1415.3 1177.4,1413.3 1178.2,1410.1 1179,1413.1 1179.8,1415.7 1180.6,1410.8 1181.4,1410.8 1182.2,1410.2 1183,1412.9 1183.8,1408.7 1184.6,1414.8 1185.4,1414.2 1186.2,1421.7 1187,1417.6 1187.8,1423.7 1188.6,1428.5 1189.4,1423.8 1190.2,1424.2 1191,1427.8 1191.8,1428.1 1192.6,1425.7 1193.4,1431.5 1194.2,1437.8 1195,1431 1195.8,1432.1 1196.6,1430.2 1197.4,1435.7 1198.2,1431.3 1199,1432.7 1199.8,1441.8 1200.6,1435.3 1201.4,1443 1202.2,1445.3 1203,1441.8 1203.8,1443.6 1204.6,1449.1 1205.4,1442.6 1206.2,1442.1 1207,1440.3 1207.8,1445.8 1208.6,1451.5 1209.4,1450.5 1210.2,1444.9 1211,1445.9 1211.8,1447.9 1212.6,1451.4 1213.4,1450.5 1214.2,1452.8 1215,1453.8 1215.8,1452.6 1216.6,1454.3 1217.4,1455.9 1218.2,1455.7 1219,1458.5 1219.8,1464 1220.6,1460.4 1221.4,1459.2 1222.2,1453.9 1223,1461.6 1223.8,1454.3 1224.6,1456.8 1225.4,1465.1 1226.2,1465.3 1227,1463 1227.8,1458.3 1228.6,1463.5 1229.4,1463.1 1230.2,1468.2 1231,1474.4 1231.8,1468.1 1232.6,1465.3 1233.4,1464.6 1234.2,1469.1 1235,1469.3 1235.8,1466.6 1236.6,1471.6 1237.4,1467.9 1238.2,1476.2 1239,1476.7 1239.8,1477.4 1240.6,1472.8 1241.4,1476.8 1242.2,1475.2 1243,1475 1243.8,1475.8 1244.6,1473.1 1245.4,1472.9 1246.2,1480.9 1247,1477.8 1247.8,1479.6 1248.6,1482.6 1249.4,1473.6 1250.2,1477.2 1251,1480.8 1251.8,1481.9 1252.6,1479.6 1253.4,1484.7 1254.2,1482.3 1255,1477.8 1255.8,1479.1 1256.6,1485.3 1257.4,1484.5 1258.2,1476.8 1259,1488.2 1259.8,1485.9 1260.6,1488.8 1261.4,1483.3 1262.2,1483.9 1263,1481.5 1263.8,1494.3 1264.6,1485.4 1265.4,1491.7 1266.2,1484.5 1267,1487.6 1267.8,1481.7 1268.6,1486.4 1269.4,1491.4 1270.2,1484.1 1271,1492.5 1271.8,1490.7 1272.6,1486.6 1273.4,1489.1 1274.2,1490 1275,1492 1275.8,1491 1276.6,1490.7 1277.4,1493.1 1278.2,1491.3 1279,1491.1 1279.8,1496 1280.6,1499.8 1281.4,1492.3 1282.2,1498.2 1283,1496.6 1283.8,1495.9 1284.6,1502.3 1285.4,1497.9 1286.2,1505.1 1287,1497.6 1287.8,1501.8 1288.6,1500 1289.4,1498.4 1290.2,1503.2 1291,1501 1291.8,1503.8 1292.6,1501.8 1293.4,1498.6 1294.2,1502.2 1295,1503 1295.8,1506.2 1296.6,1499.7 1297.4,1502.4 1298.2,1496.4 1299,1504.3 1299.8,1498.2 1300.6,1495.5 1301.4,1501.2 1302.2,1504.9 1303,1495.8 1303.8,1497 1304.6,1498 1305.4,1496.4 1306.2,1501.3 1307,1496.6 1307.8,1496 1308.6,1499.6 1309.4,1494.2 1310.2,1497.4 1311,1491.8 1311.8,1490.1 1312.6,1487.1 1313.4,1498.8 1314.2,1490.5 1315,1491.6 1315.8,1489.8 1316.6,1489.6 1317.4,1486.8 1318.2,1489.3 1319,1475.4 1319.8,1469.8 1320.6,1467.7 1321.4,1464.3 1322.2,1469.2 1323,1467.3 1323.8,1459.1 1324.6,1455.4 1325.4,1456.8 1326.2,1460.6 1327,1444.1 1327.8,1453.4 1328.6,1445.8 1329.4,1450.8 1330.2,1441.5 1331,1442 1331.8,1436.9 1332.6,1437.7 1333.4,1444.7 1334.2,1441.7 1335,1436.6 1335.8,1434 1336.6,1431.4 1337.4,1437.7 1338.2,1440.1 1339,1441 1339.8,1442.2 1340.6,1439.8 1341.4,1444.6 1342.2,1446.5 1343,1454.6 1343.8,1460.2 1344.6,1457.1 1345.4,1458.5 1346.2,1464.6 1347,1466.4 1347.8,1469.8 1348.6,1476.3 1349.4,1477.2 1350.2,1487.1 1351,1488.9 1351.8,1494.3 1352.6,1497.1 1353.4,1498.1 1354.2,1499.3 1355,1503.7 1355.8,1504.7 1356.6,1509.3 1357.4,1510.5 1358.2,1507.9 1359,1514.7 1359.8,1511.9 1360.6,1516.4 1361.4,1519.6 1362.2,1515.6 1363,1525 1363.8,1527.3 1364.6,1528.3 1365.4,1529.4 1366.2,1531.7 1367,1531.7 1367.8,1534.8 1368.6,1534.5 1369.4,1537.4 1370.2,1533.8 1371,1539.4 1371.8,1539.8 1372.6,1539.5 1373.4,1539.2 1374.2,1543.3 1375,1536.5 1375.8,1544.4 1376.6,1543.8 1377.4,1543.8 1378.2,1544.1 1379,1540.4 1379.8,1541.7 1380.6,1544.7 1381.4,1543.9 1382.2,1543 1383,1537.1 1383.8,1544 1384.6,1546 1385.4,1545.4 1386.2,1542.7 1387,1536.5 1387.8,1544.9 1388.6,1541.1 1389.4,1532.9 1390.2,1542.7 1391,1536.3 1391.8,1536.8 1392.6,1539 1393.4,1545.4 1394.2,1539.8 1395,1542.3 1395.8,1547.7 1396.6,1547.4 1397.4,1542 1398.2,1541.8 1399,1538.7 1399.8,1540.9 1400.6,1545 1401.4,1545.3 1402.2,1544.6 1403,1547.9 1403.8,1542.2 1404.6,1545 1405.4,1548 1406.2,1547.8 1407,1549.8 1407.8,1547.8 1408.6,1545.7 1409.4,1548.3 1410.2,1544 1411,1542.1 1411.8,1550 1412.6,1546.1 1413.4,1545.6 1414.2,1537.1 1415,1539.9 1415.8,1537.3 1416.6,1534.7 1417.4,1528.7 1418.2,1534.5 1419,1537.9 1419.8,1535.3 1420.6,1531.2 1421.4,1532.4 1422.2,1534.3 1423,1522.2 1423.8,1531.5 1424.6,1534.1 1425.4,1534.9 1426.2,1538.7 1427,1537.1 1427.8,1534.6 1428.6,1534.9 1429.4,1536.9 1430.2,1532.7 1431,1534.7 1431.8,1538.6 1432.6,1543.1 1433.4,1536.8 1434.2,1538.2 1435,1540 1435.8,1544.8 1436.6,1541.1 1437.4,1547.1 1438.2,1539.8 1439,1543.4 1439.8,1544.3 1440.6,1548.5 1441.4,1549.8 1442.2,1541.5 1443,1543.9" fill="none" stroke="#333" stroke-width="1.7" stroke-linejoin="round" stroke-linecap="round" />
<polyline points="931,1179.2 932.4,1179.7 933.8,1181.6 935.2,1190.3 936.6,1192.8 938,1196.4 939.4,1197.7 940.8,1202.4 942.2,1201.5 943.6,1205.8 945,1203.5 946.4,1205.3 947.8,1209 949.2,1208.6 950.6,1212.2 952,1212.2 953.4,1210.7 954.8,1213.5 956.2,1213.5 957.6,1216.9 959,1215.3 960.4,1217.8 961.8,1223.2 963.2,1227.4 964.6,1229 966,1227.2 967.4,1229.7 968.8,1234.4 970.2,1233.1 971.6,1233.2 973,1237.2 974.4,1239.6 975.8,1238.9 977.2,1239 978.6,1241.3 980,1247.3 981.4,1246.2 982.8,1249.2 984.2,1251.4 985.6,1253.6 987,1253.1 988.4,1256.2 989.8,1254.8 991.2,1257.3 992.6,1257.4 994,1263.1 995.4,1262.1 996.8,1262.2 998.2,1264.6 999.6,1266.6 1001,1270.1 1002.4,1267.2 1003.8,1270 1005.2,1273 1006.6,1280.4 1008,1278.6 1009.4,1277.9 1010.8,1280.9 1012.2,1285 1013.6,1281.8 1015,1283 1016.4,1287.5 1017.8,1287.5 1019.2,1289.2 1020.6,1288.3 1022,1294.6 1023.4,1295.8 1024.8,1295.1 1026.2,1296.9 1027.6,1293.1 1029,1300.1 1030.4,1300 1031.8,1302.8 1033.2,1304.9 1034.6,1304.5 1036,1303.1 1037.4,1308.4 1038.8,1307.4 1040.2,1309.5 1041.6,1310.1 1043,1311.9 1044.4,1309.2 1045.8,1317.5 1047.2,1316.8 1048.6,1319.7 1050,1322.7 1051.4,1319.6 1052.8,1316.8 1054.2,1319.4 1055.6,1319.7 1057,1321.9 1058.4,1323.9 1059.8,1320.4 1061.2,1324.3 1062.6,1319.7 1064,1322.5 1065.4,1320.9 1066.8,1319.6 1068.2,1319.3 1069.6,1317.4 1071,1316.3 1072.4,1313.1 1073.8,1315.4 1075.2,1318.2 1076.6,1317.5 1078,1315.1 1079.4,1312.9 1080.8,1309.1 1082.2,1312.4 1083.6,1308.4 1085,1307.5 1086.4,1306.1 1087.8,1306 1089.2,1305.9 1090.6,1308.9 1092,1309.3 1093.4,1313.1 1094.8,1321.1 1096.2,1319.5 1097.6,1322.2 1099,1326.8 1100.4,1330.2 1101.8,1329.6 1103.2,1334.5 1104.6,1340.1 1106,1342.3 1107.4,1345.5 1108.8,1351.9 1110.2,1351 1111.6,1355.7 1113,1356.6 1114.4,1362.7 1115.8,1358 1117.2,1362.6 1118.6,1365 1120,1369.5 1121.4,1371.5 1122.8,1375.2 1124.2,1371 1125.6,1377.3 1127,1376.9 1128.4,1377.9 1129.8,1382 1131.2,1380.8 1132.6,1380.2 1134,1385.3 1135.4,1384.8 1136.8,1388.2 1138.2,1391.9 1139.6,1393.5 1141,1397.3 1142.4,1394.7 1143.8,1393 1145.2,1395.5 1146.6,1396.2 1148,1396.6 1149.4,1400.9 1150.8,1399.7 1152.2,1398 1153.6,1404.3 1155,1403.7 1156.4,1405.6 1157.8,1406.1 1159.2,1408.1 1160.6,1408.1 1162,1411.7 1163.4,1411.2 1164.8,1412.3 1166.2,1413.5 1167.6,1410.9 1169,1414.7 1170.4,1415.7 1171.8,1417.8 1173.2,1414.8 1174.6,1419.8 1176,1415.7 1177.4,1412.1 1178.8,1410.1 1180.2,1411.9 1181.6,1411.3 1183,1411.1 1184.4,1415.4 1185.8,1416.6 1187.2,1421.7 1188.6,1421.9 1190,1425.9 1191.4,1429.6 1192.8,1434.4 1194.2,1428.9 1195.6,1431.6 1197,1432.5 1198.4,1437.4 1199.8,1435.2 1201.2,1438.1 1202.6,1440.4 1204,1439.9 1205.4,1441.4 1206.8,1443.7 1208.2,1441.9 1209.6,1444.6 1211,1448 1212.4,1450.5 1213.8,1451.3 1215.2,1449.5 1216.6,1453.5 1218,1457.4 1219.4,1458.3 1220.8,1458.4 1222.2,1457.9 1223.6,1462 1225,1460.7 1226.4,1460.7 1227.8,1462.5 1229.2,1468.1 1230.6,1466.8 1232,1469.8 1233.4,1467.7 1234.8,1471.6 1236.2,1469.6 1237.6,1471.7 1239,1478.1 1240.4,1475.7 1241.8,1474.3 1243.2,1476.3 1244.6,1478.1 1246,1480.5 1247.4,1477.7 1248.8,1475.8 1250.2,1479.3 1251.6,1480.5 1253,1481.3 1254.4,1484.3 1255.8,1482.9 1257.2,1484.4 1258.6,1481.2 1260,1485.7 1261.4,1488.8 1262.8,1486.7 1264.2,1486.3 1265.6,1486.7 1267,1490.6 1268.4,1485.8 1269.8,1488 1271.2,1489.9 1272.6,1491.7 1274,1490.5 1275.4,1493.1 1276.8,1493.1 1278.2,1495.1 1279.6,1495.7 1281,1494.9 1282.4,1498.3 1283.8,1500.9 1285.2,1497.7 1286.6,1499.6 1288,1501.9 1289.4,1498.8 1290.8,1501.8 1292.2,1499.8 1293.6,1504.6 1295,1507.4 1296.4,1506.8 1297.8,1502 1299.2,1503.5 1300.6,1501.9 1302,1501.4 1303.4,1503.9 1304.8,1497.8 1306.2,1502.2 1307.6,1498.6 1309,1500 1310.4,1496.1 1311.8,1492.8 1313.2,1493.2 1314.6,1492.7 1316,1489.7 1317.4,1487.6 1318.8,1478.8 1320.2,1468.9 1321.6,1470.1 1323,1465.9 1324.4,1461 1325.8,1457.1 1327.2,1455.3 1328.6,1448.5 1330,1444.3 1331.4,1442.1 1332.8,1443.1 1334.2,1436.2 1335.6,1439.6 1337,1437.1 1338.4,1438.2 1339.8,1445 1341.2,1444.3 1342.6,1445.8 1344,1454.1 1345.4,1463 1346.8,1469.9 1348.2,1473.6 1349.6,1482.6 1351,1490.7 1352.4,1495.4 1353.8,1502.3 1355.2,1505 1356.6,1507.5 1358,1511 1359.4,1515.6 1360.8,1519.1 1362.2,1521.5 1363.6,1525.4 1365,1532.1 1366.4,1533.9 1367.8,1537.5 1369.2,1539.4 1370.6,1539.4 1372,1544 1373.4,1539 1374.8,1543.6 1376.2,1542.3 1377.6,1546.5 1379,1546.1 1380.4,1538.6 1381.8,1540.4 1383.2,1543.5 1384.6,1543.6 1386,1543.4 1387.4,1541.6 1388.8,1542.5 1390.2,1542.7 1391.6,1541.1 1393,1543.2 1394.4,1536.6 1395.8,1543 1397.2,1540.2 1398.6,1544.7 1400,1542.9 1401.4,1542.1 1402.8,1545.2 1404.2,1543.2 1405.6,1543.7 1407,1543 1408.4,1546.6 1409.8,1548.2 1411.2,1549.8 1412.6,1546 1414,1545.4 1415.4,1540.3 1416.8,1537 1418.2,1536.8 1419.6,1536.4 1421,1532.2 1422.4,1531 1423.8,1531.6 1425.2,1532.7 1426.6,1531.3 1428,1535.7 1429.4,1533.4 1430.8,1535.7 1432.2,1534.3 1433.6,1538.3 1435,1540.1 1436.4,1540.1 1437.8,1546.7 1439.2,1545 1440.6,1549.4 1442,1548.4 1443.4,1545.7" fill="none" stroke="#111" stroke-width="3" stroke-linejoin="round" stroke-linecap="round" />
<rect x="1050.1" y="1247.6" width="96.60000000000014" height="48.600000000000136" rx="3" fill="#fff" stroke="#333" stroke-width="2.6"/>
<line x1="1087.4" y1="1296.2" x2="1087.4" y2="1311" stroke="#444" stroke-width="2" stroke-linecap="butt"/>
<text x="1060" y="1280.5" font-size="25" fill="#111" text-anchor="start" font-weight="normal" font-family="Liberation Sans, Arial, sans-serif" textLength="74" lengthAdjust="spacingAndGlyphs">Zn<tspan font-size="12" dy="-13">2</tspan><tspan dy="13" dx="3">P</tspan><tspan font-size="11" dy="9" dx="3" fill="#557">1/2</tspan></text>
<rect x="1286.8" y="1381.4" width="96.40000000000009" height="50.899999999999864" rx="3" fill="#fff" stroke="#333" stroke-width="2.6"/>
<line x1="1335.9" y1="1432.3" x2="1335.9" y2="1437" stroke="#444" stroke-width="2" stroke-linecap="butt"/>
<text x="1296.6" y="1415" font-size="25" fill="#111" text-anchor="start" font-weight="normal" font-family="Liberation Sans, Arial, sans-serif" textLength="74" lengthAdjust="spacingAndGlyphs">Zn<tspan font-size="12" dy="-13">2</tspan><tspan dy="13" dx="3">P</tspan><tspan font-size="11" dy="9" dx="3" fill="#557">3/2</tspan></text>
<text x="349.4" y="1750" font-size="42" fill="#000" text-anchor="start" font-weight="bold" font-family="Liberation Serif, Times New Roman, serif" >F</text>
<line x1="403.8" y1="1778" x2="403.8" y2="2291" stroke="#222" stroke-width="2.6" stroke-linecap="butt"/>
<line x1="403.8" y1="2291" x2="1138.7" y2="2291" stroke="#333" stroke-width="2.6" stroke-linecap="butt"/>
<line x1="1138.7" y1="2291" x2="1138.7" y2="2283" stroke="#333" stroke-width="2.2" stroke-linecap="butt"/>
<line x1="397.8" y1="2290.4" x2="403.8" y2="2290.4" stroke="#222" stroke-width="2.2" stroke-linecap="butt"/>
<line x1="397.8" y1="2272.1" x2="403.8" y2="2272.1" stroke="#222" stroke-width="2.2" stroke-linecap="butt"/>
<line x1="397.8" y1="2256.5" x2="403.8" y2="2256.5" stroke="#222" stroke-width="2.2" stroke-linecap="butt"/>
<line x1="397.8" y1="2243.1" x2="403.8" y2="2243.1" stroke="#222" stroke-width="2.2" stroke-linecap="butt"/>
<line x1="397.8" y1="2231.2" x2="403.8" y2="2231.2" stroke="#222" stroke-width="2.2" stroke-linecap="butt"/>
<line x1="392.8" y1="2220.6" x2="403.8" y2="2220.6" stroke="#222" stroke-width="2.2" stroke-linecap="butt"/>
<line x1="397.8" y1="2150.8" x2="403.8" y2="2150.8" stroke="#222" stroke-width="2.2" stroke-linecap="butt"/>
<line x1="397.8" y1="2109.9" x2="403.8" y2="2109.9" stroke="#222" stroke-width="2.2" stroke-linecap="butt"/>
<line x1="397.8" y1="2080.9" x2="403.8" y2="2080.9" stroke="#222" stroke-width="2.2" stroke-linecap="butt"/>
<line x1="397.8" y1="2058.4" x2="403.8" y2="2058.4" stroke="#222" stroke-width="2.2" stroke-linecap="butt"/>
<line x1="397.8" y1="2040.1" x2="403.8" y2="2040.1" stroke="#222" stroke-width="2.2" stroke-linecap="butt"/>
<line x1="397.8" y1="2024.5" x2="403.8" y2="2024.5" stroke="#222" stroke-width="2.2" stroke-linecap="butt"/>
<line x1="397.8" y1="2011.1" x2="403.8" y2="2011.1" stroke="#222" stroke-width="2.2" stroke-linecap="butt"/>
<line x1="397.8" y1="1999.2" x2="403.8" y2="1999.2" stroke="#222" stroke-width="2.2" stroke-linecap="butt"/>
<line x1="392.8" y1="1988.6" x2="403.8" y2="1988.6" stroke="#222" stroke-width="2.2" stroke-linecap="butt"/>
<line x1="397.8" y1="1918.8" x2="403.8" y2="1918.8" stroke="#222" stroke-width="2.2" stroke-linecap="butt"/>
<line x1="397.8" y1="1877.9" x2="403.8" y2="1877.9" stroke="#222" stroke-width="2.2" stroke-linecap="butt"/>
<line x1="397.8" y1="1848.9" x2="403.8" y2="1848.9" stroke="#222" stroke-width="2.2" stroke-linecap="butt"/>
<line x1="397.8" y1="1826.4" x2="403.8" y2="1826.4" stroke="#222" stroke-width="2.2" stroke-linecap="butt"/>
<line x1="397.8" y1="1808.1" x2="403.8" y2="1808.1" stroke="#222" stroke-width="2.2" stroke-linecap="butt"/>
<line x1="397.8" y1="1792.5" x2="403.8" y2="1792.5" stroke="#222" stroke-width="2.2" stroke-linecap="butt"/>
<line x1="397.8" y1="1779.1" x2="403.8" y2="1779.1" stroke="#222" stroke-width="2.2" stroke-linecap="butt"/>
<line x1="403.8" y1="2291" x2="403.8" y2="2299" stroke="#333" stroke-width="2.2" stroke-linecap="butt"/>
<line x1="495.7" y1="2291" x2="495.7" y2="2296" stroke="#333" stroke-width="2.2" stroke-linecap="butt"/>
<line x1="587.5" y1="2291" x2="587.5" y2="2299" stroke="#333" stroke-width="2.2" stroke-linecap="butt"/>
<line x1="679.4" y1="2291" x2="679.4" y2="2296" stroke="#333" stroke-width="2.2" stroke-linecap="butt"/>
<line x1="771.2" y1="2291" x2="771.2" y2="2299" stroke="#333" stroke-width="2.2" stroke-linecap="butt"/>
<line x1="863.1" y1="2291" x2="863.1" y2="2296" stroke="#333" stroke-width="2.2" stroke-linecap="butt"/>
<line x1="955" y1="2291" x2="955" y2="2299" stroke="#333" stroke-width="2.2" stroke-linecap="butt"/>
<line x1="1046.8" y1="2291" x2="1046.8" y2="2296" stroke="#333" stroke-width="2.2" stroke-linecap="butt"/>
<line x1="1138.7" y1="2291" x2="1138.7" y2="2299" stroke="#333" stroke-width="2.2" stroke-linecap="butt"/>
<text x="406.8" y="2323.7" font-size="20" fill="#222" text-anchor="middle" font-weight="bold" font-family="Liberation Sans, Arial, sans-serif" letter-spacing="-0.8">10</text>
<text x="590.5" y="2323.7" font-size="20" fill="#222" text-anchor="middle" font-weight="bold" font-family="Liberation Sans, Arial, sans-serif" letter-spacing="-0.8">20</text>
<text x="774.2" y="2323.7" font-size="20" fill="#222" text-anchor="middle" font-weight="bold" font-family="Liberation Sans, Arial, sans-serif" letter-spacing="-0.8">30</text>
<text x="958" y="2323.7" font-size="20" fill="#222" text-anchor="middle" font-weight="bold" font-family="Liberation Sans, Arial, sans-serif" letter-spacing="-0.8">40</text>
<text x="1141.7" y="2323.7" font-size="20" fill="#222" text-anchor="middle" font-weight="bold" font-family="Liberation Sans, Arial, sans-serif" letter-spacing="-0.8">50</text>
<text x="771" y="2368" font-size="25" fill="#111" text-anchor="middle" font-weight="bold" font-family="Liberation Sans, Arial, sans-serif" textLength="150" lengthAdjust="spacingAndGlyphs">2θ(degree)</text>
<text x="0" y="0" transform="translate(380,2052) rotate(-90)" font-size="25" font-weight="bold" font-family="Liberation Sans, Arial, sans-serif" text-anchor="middle" fill="#111" textLength="228" lengthAdjust="spacingAndGlyphs">Relative Intensity</text>
<polyline points="404,2240.1 404.6,2240.8 405.2,2236.4 405.8,2226.6 406.4,2223.5 407,2218.8 407.6,2220.3 408.2,2217.6 408.8,2219.7 409.4,2210.3 410,2221.3 410.6,2215.1 411.2,2217.1 411.8,2213.7 412.4,2212.3 413,2214.6 413.6,2215.2 414.2,2211.2 414.8,2210.9 415.4,2213.4 416,2207.7 416.6,2205.1 417.2,2211.1 417.8,2207.1 418.4,2202.4 419,2205.8 419.6,2206.5 420.2,2203.7 420.8,2202.2 421.4,2207 422,2207.6 422.6,2197.7 423.2,2189.9 423.8,2187.7 424.4,2182.7 425,2173.2 425.6,2169.1 426.2,2161.9 426.8,2148.7 427.4,2137.8 428,2132.8 428.6,2123.6 429.2,2117.6 429.8,2100.6 430.4,2096.6 431,2104.1 431.6,2109.1 432.2,2123.5 432.8,2133 433.4,2136.8 434,2151.5 434.6,2154 435.2,2157.8 435.8,2161.5 436.4,2167.8 437,2164.5 437.6,2175.6 438.2,2180 438.8,2176.4 439.4,2189.6 440,2193.6 440.6,2203.2 441.2,2205.1 441.8,2212.6 442.4,2219.9 443,2221.8 443.6,2232.8 444.2,2227.5 444.8,2226.5 445.4,2220.1 446,2222.6 446.6,2218 447.2,2212.4 447.8,2212.2 448.4,2211.4 449,2210.4 449.6,2196.3 450.2,2202 450.8,2197.8 451.4,2193.2 452,2187.4 452.6,2192.4 453.2,2181.2 453.8,2184.7 454.4,2184.5 455,2171.9 455.6,2173.7 456.2,2167.5 456.8,2170.1 457.4,2171.7 458,2170.8 458.6,2154.1 459.2,2154 459.8,2154.1 460.4,2152.8 461,2147.4 461.6,2143.5 462.2,2147 462.8,2145.9 463.4,2147.3 464,2148.5 464.6,2155.3 465.2,2158 465.8,2159.6 466.4,2162.2 467,2161.6 467.6,2167.3 468.2,2176 468.8,2174.3 469.4,2173 470,2185.4 470.6,2185 471.2,2191.9 471.8,2186.5 472.4,2186.3 473,2184.5 473.6,2195.5 474.2,2201.3 474.8,2191.3 475.4,2193.5 476,2199.3 476.6,2196 477.2,2199.4 477.8,2200.7 478.4,2204.1 479,2208.8 479.6,2206.7 480.2,2211.3 480.8,2208.3 481.4,2212.4 482,2205.6 482.6,2208.4 483.2,2214.2 483.8,2207.7 484.4,2209.9 485,2207.9 485.6,2208.8 486.2,2205.3 486.8,2204.2 487.4,2198.5 488,2194.7 488.6,2192.8 489.2,2191.8 489.8,2187.9 490.4,2188 491,2187.8 491.6,2187.2 492.2,2183.7 492.8,2178.7 493.4,2185.4 494,2186.8 494.6,2190.1 495.2,2188.8 495.8,2185 496.4,2185.2 497,2194.9 497.6,2191 498.2,2195 498.8,2196.4 499.4,2186.8 500,2191.9 500.6,2193.2 501.2,2194.5 501.8,2195.5 502.4,2195.3 503,2196.2 503.6,2191.5 504.2,2197.1 504.8,2196.1 505.4,2200.1 506,2199.1 506.6,2203.8 507.2,2203 507.8,2199.8 508.4,2198.3 509,2196 509.6,2192.7 510.2,2192.2 510.8,2189.5 511.4,2191 512,2188.3 512.6,2188.7 513.2,2180.7 513.8,2186.8 514.4,2179.6 515,2178.2 515.6,2178.6 516.2,2175.8 516.8,2173.1 517.4,2163.6 518,2155.4 518.6,2149.6 519.2,2150.4 519.8,2139.6 520.4,2128.9 521,2126.4 521.6,2114.5 522.2,2119.2 522.8,2101.2 523.4,2101.4 524,2102 524.6,2099.2 525.2,2109.2 525.8,2115.5 526.4,2117.7 527,2121 527.6,2127.3 528.2,2128.6 528.8,2133.2 529.4,2135.6 530,2142.2 530.6,2140.8 531.2,2144.1 531.8,2130.4 532.4,2119.1 533,2114.8 533.6,2110 534.2,2098.2 534.8,2083.1 535.4,2076.3 536,2061.5 536.6,2051.7 537.2,2041.5 537.8,2022.4 538.4,2019.4 539,2003 539.6,1991.9 540.2,1977.1 540.8,1972.1 541.4,1983.7 542,1999.4 542.6,2011.9 543.2,2014 543.8,2021.9 544.4,2021.4 545,2019.9 545.6,2031.1 546.2,2036.2 546.8,2037.3 547.4,2043.9 548,2049 548.6,2048.2 549.2,2050.6 549.8,2060 550.4,2065.1 551,2069.7 551.6,2079.4 552.2,2087 552.8,2085 553.4,2094.8 554,2101.7 554.6,2107 555.2,2114.2 555.8,2115.4 556.4,2125.3 557,2135.7 557.6,2137.4 558.2,2136.9 558.8,2145.5 559.4,2152.1 560,2153.4 560.6,2154.6 561.2,2166.2 561.8,2161 562.4,2171.4 563,2174 563.6,2174.4 564.2,2187 564.8,2188.4 565.4,2179.7 566,2182.1 566.6,2175 567.2,2166.5 567.8,2167 568.4,2166.7 569,2164.4 569.6,2159.3 570.2,2150.7 570.8,2143 571.4,2131.6 572,2127.3 572.6,2114.7 573.2,2106.1 573.8,2097.8 574.4,2083.3 575,2084.2 575.6,2093.3 576.2,2090.7 576.8,2090.1 577.4,2093.7 578,2092.4 578.6,2096.5 579.2,2094.7 579.8,2101.1 580.4,2098.9 581,2112.8 581.6,2110.6 582.2,2111 582.8,2119.6 583.4,2123.2 584,2129 584.6,2128.6 585.2,2137.9 585.8,2152.9 586.4,2140.3 587,2143.8 587.6,2136.6 588.2,2133.4 588.8,2121.6 589.4,2118.8 590,2119.3 590.6,2112.7 591.2,2113.4 591.8,2100.4 592.4,2098.4 593,2102.8 593.6,2085.3 594.2,2073.2 594.8,2058 595.4,2039.8 596,2024.7 596.6,2018.6 597.2,2026.5 597.8,2040.7 598.4,2059.8 599,2062.8 599.6,2053.4 600.2,2066.8 600.8,2068.7 601.4,2078.2 602,2079.9 602.6,2091.4 603.2,2092.4 603.8,2096.6 604.4,2098.6 605,2102.2 605.6,2107.9 606.2,2116.2 606.8,2120 607.4,2123.4 608,2135.3 608.6,2138 609.2,2143.4 609.8,2147.4 610.4,2154.5 611,2160.6 611.6,2159.7 612.2,2179 612.8,2183.8 613.4,2185.9 614,2186.5 614.6,2180.8 615.2,2176.9 615.8,2163.6 616.4,2167.6 617,2166.6 617.6,2166.6 618.2,2163.8 618.8,2158.8 619.4,2146.4 620,2139.3 620.6,2145.2 621.2,2139.8 621.8,2139.4 622.4,2132.1 623,2129.7 623.6,2125.9 624.2,2134.6 624.8,2133.6 625.4,2138.3 626,2140.7 626.6,2140.8 627.2,2144.3 627.8,2145.2 628.4,2149.8 629,2151 629.6,2149.4 630.2,2151.3 630.8,2156.9 631.4,2148.2 632,2149.5 632.6,2145.1 633.2,2139.5 633.8,2136.5 634.4,2137.1 635,2135.2 635.6,2138.1 636.2,2134.3 636.8,2139.2 637.4,2143.5 638,2151.9 638.6,2141 639.2,2153.1 639.8,2152.3 640.4,2158.2 641,2157.7 641.6,2163.2 642.2,2169.9 642.8,2167.2 643.4,2168.4 644,2169.1 644.6,2166.2 645.2,2171.5 645.8,2169.9 646.4,2168.7 647,2172.3 647.6,2169.3 648.2,2168.6 648.8,2161.9 649.4,2156.3 650,2159 650.6,2153.5 651.2,2150.4 651.8,2144.2 652.4,2137.8 653,2132.7 653.6,2129.2 654.2,2129.4 654.8,2125.2 655.4,2120.9 656,2127 656.6,2123.6 657.2,2130.1 657.8,2126.7 658.4,2127.6 659,2133.5 659.6,2134.1 660.2,2129.9 660.8,2139.3 661.4,2145.3 662,2134.1 662.6,2146.5 663.2,2139.2 663.8,2141 664.4,2143.3 665,2140.2 665.6,2150.7 666.2,2149.2 666.8,2146.1 667.4,2149 668,2145.9 668.6,2151.1 669.2,2156.7 669.8,2148.9 670.4,2154.4 671,2157.6 671.6,2161.8 672.2,2163.6 672.8,2158.3 673.4,2158.1 674,2163 674.6,2161 675.2,2162 675.8,2167.5 676.4,2170.4 677,2166.4 677.6,2165.6 678.2,2169 678.8,2161.4 679.4,2168.6 680,2165.9 680.6,2178.4 681.2,2173.5 681.8,2172.4 682.4,2172 683,2164.9 683.6,2176.7 684.2,2180.6 684.8,2173.4 685.4,2179 686,2180 686.6,2174.4 687.2,2184.9 687.8,2188.5 688.4,2186.8 689,2187.9 689.6,2192.9 690.2,2187.1 690.8,2194.8 691.4,2192.1 692,2178.4 692.6,2180.1 693.2,2169.3 693.8,2157.7 694.4,2158.5 695,2149.6 695.6,2148.1 696.2,2140.1 696.8,2145.5 697.4,2137.1 698,2138.6 698.6,2133.1 699.2,2131.8 699.8,2134.7 700.4,2129.1 701,2124.8 701.6,2119.7 702.2,2125.6 702.8,2121.9 703.4,2116.1 704,2115.8 704.6,2109.2 705.2,2107 705.8,2105.6 706.4,2107.7 707,2105.6 707.6,2100.1 708.2,2103.3 708.8,2101.5 709.4,2097.5 710,2098.5 710.6,2092.1 711.2,2090.8 711.8,2090.8 712.4,2087.2 713,2088.1 713.6,2081.8 714.2,2091.6 714.8,2084.8 715.4,2087.6 716,2084.2 716.6,2091.6 717.2,2095.8 717.8,2099.5 718.4,2103.1 719,2099.4 719.6,2106.5 720.2,2112 720.8,2114.8 721.4,2126.2 722,2127.4 722.6,2132.2 723.2,2140.5 723.8,2142.1 724.4,2148.8 725,2155.4 725.6,2166.7 726.2,2172.7 726.8,2180 727.4,2186.7 728,2180.2 728.6,2184.7 729.2,2188.9 729.8,2185.6 730.4,2190.1 731,2197.2 731.6,2199.3 732.2,2201 732.8,2199.3 733.4,2200.2 734,2206.4 734.6,2203 735.2,2205.6 735.8,2209.2 736.4,2203.7 737,2203.1 737.6,2205.4 738.2,2207.7 738.8,2207.5 739.4,2206.7 740,2208.3 740.6,2201.2 741.2,2203.9 741.8,2207.7 742.4,2204.2 743,2203 743.6,2203.7 744.2,2204.9 744.8,2207.7 745.4,2205 746,2209.6 746.6,2214.8 747.2,2208.5 747.8,2213.3 748.4,2210 749,2205.2 749.6,2208.1 750.2,2205.7 750.8,2211.6 751.4,2205.1 752,2213.5 752.6,2211 753.2,2202.1 753.8,2211.7 754.4,2214.3 755,2206.3 755.6,2212.3 756.2,2202.9 756.8,2209.9 757.4,2203.4 758,2210.6 758.6,2202.9 759.2,2198.7 759.8,2207.4 760.4,2212.3 761,2200.9 761.6,2204.1 762.2,2200.1 762.8,2197 763.4,2198.6 764,2200.5 764.6,2189.1 765.2,2193.6 765.8,2191.3 766.4,2181.7 767,2187.4 767.6,2183.9 768.2,2169.3 768.8,2173.8 769.4,2163.5 770,2158.1 770.6,2159.1 771.2,2150.1 771.8,2145.8 772.4,2145.2 773,2139.8 773.6,2133.5 774.2,2120.6 774.8,2114.9 775.4,2119 776,2106.9 776.6,2105.5 777.2,2096.2 777.8,2093.1 778.4,2083.1 779,2086.6 779.6,2071.3 780.2,2068 780.8,2061.5 781.4,2061.7 782,2049.2 782.6,2050.3 783.2,2046.1 783.8,2045 784.4,2041.2 785,2034.4 785.6,2033.2 786.2,2034.6 786.8,2044.4 787.4,2049.5 788,2054.5 788.6,2063.7 789.2,2072 789.8,2085.4 790.4,2083 791,2092.1 791.6,2102.1 792.2,2096.1 792.8,2103.3 793.4,2111.2 794,2120.9 794.6,2136.5 795.2,2137 795.8,2147.2 796.4,2149.8 797,2149.6 797.6,2157.5 798.2,2176.2 798.8,2180.8 799.4,2181.6 800,2194.1 800.6,2189.3 801.2,2202.6 801.8,2207.9 802.4,2204.6 803,2207.7 803.6,2218.6 804.2,2213 804.8,2217.6 805.4,2208.5 806,2213.2 806.6,2208.7 807.2,2204.8 807.8,2201.1 808.4,2202.9 809,2193.5 809.6,2196.9 810.2,2194.4 810.8,2196 811.4,2187.3 812,2195.3 812.6,2186.3 813.2,2181.4 813.8,2188.1 814.4,2187.4 815,2179.5 815.6,2175.5 816.2,2177 816.8,2173 817.4,2172.7 818,2177.5 818.6,2171.9 819.2,2169.4 819.8,2168.5 820.4,2165.5 821,2167 821.6,2165.5 822.2,2159.7 822.8,2159.7 823.4,2165.9 824,2157.6 824.6,2154.6 825.2,2164.6 825.8,2160 826.4,2158.6 827,2167.1 827.6,2164.1 828.2,2167.9 828.8,2173.1 829.4,2173.9 830,2174.1 830.6,2177.3 831.2,2179.5 831.8,2187.9 832.4,2183.9 833,2186.8 833.6,2199.2 834.2,2193.9 834.8,2204.5 835.4,2207.4 836,2206 836.6,2205.3 837.2,2215.2 837.8,2219.5 838.4,2218.3 839,2212 839.6,2212.6 840.2,2209.9 840.8,2198.3 841.4,2203.4 842,2195.9 842.6,2190.1 843.2,2187.6 843.8,2191.8 844.4,2185.4 845,2172.7 845.6,2175.8 846.2,2171.7 846.8,2168.3 847.4,2163.9 848,2161.5 848.6,2172.2 849.2,2169 849.8,2173.8 850.4,2175.9 851,2178.4 851.6,2186.3 852.2,2187.9 852.8,2187.2 853.4,2189.2 854,2193.7 854.6,2201.5 855.2,2201.5 855.8,2204.7 856.4,2205.7 857,2208.8 857.6,2213.3 858.2,2209.2 858.8,2223.9 859.4,2218.6 860,2219.3 860.6,2222.9 861.2,2216.2 861.8,2212.7 862.4,2207.7 863,2201.5 863.6,2204.6 864.2,2205.1 864.8,2195.1 865.4,2199.9 866,2188.6 866.6,2187 867.2,2188.3 867.8,2183.7 868.4,2183.2 869,2175.4 869.6,2171.6 870.2,2165.8 870.8,2165.2 871.4,2162.8 872,2160.6 872.6,2169.4 873.2,2169 873.8,2167.4 874.4,2185.4 875,2177.1 875.6,2178.5 876.2,2189.9 876.8,2192.5 877.4,2187.5 878,2189.3 878.6,2193.8 879.2,2203.9 879.8,2201.9 880.4,2203.1 881,2208.7 881.6,2215.7 882.2,2209.8 882.8,2216.1 883.4,2215.6 884,2229.7 884.6,2226.1 885.2,2220.7 885.8,2214.6 886.4,2214.9 887,2203.1 887.6,2208.8 888.2,2200.9 888.8,2198.6 889.4,2198.3 890,2197.1 890.6,2197.8 891.2,2195.8 891.8,2191.9 892.4,2185.4 893,2188.5 893.6,2183.4 894.2,2185.4 894.8,2175.9 895.4,2167.2 896,2172.6 896.6,2182.9 897.2,2178.5 897.8,2177.6 898.4,2182.6 899,2182.7 899.6,2183.9 900.2,2181.9 900.8,2185.2 901.4,2187 902,2185.5 902.6,2185.2 903.2,2190.9 903.8,2195 904.4,2195.3 905,2196.1 905.6,2197.5 906.2,2206.2 906.8,2200 907.4,2204.3 908,2209.1 908.6,2204.4 909.2,2206.8 909.8,2211.1 910.4,2215 911,2212 911.6,2213.9 912.2,2214.7 912.8,2211.9 913.4,2221.5 914,2218.6 914.6,2215.3 915.2,2222.3 915.8,2218.6 916.4,2222.8 917,2228 917.6,2226.5 918.2,2234.9 918.8,2228 919.4,2235.6 920,2238.3 920.6,2240.4 921.2,2235 921.8,2229 922.4,2224.9 923,2220.8 923.6,2221.3 924.2,2211.6 924.8,2212 925.4,2206.3 926,2203.8 926.6,2198.5 927.2,2203 927.8,2189.9 928.4,2189.4 929,2185.9 929.6,2183.4 930.2,2179.3 930.8,2175.6 931.4,2173.9 932,2161.8 932.6,2164.6 933.2,2160.3 933.8,2165.3 934.4,2160.5 935,2161.3 935.6,2164.3 936.2,2169.3 936.8,2166.5 937.4,2165.6 938,2169.3 938.6,2161.3 939.2,2157.4 939.8,2163.1 940.4,2163.6 941,2168.7 941.6,2171.8 942.2,2160 942.8,2173 943.4,2169.9 944,2167.4 944.6,2166.3 945.2,2176.2 945.8,2171.1 946.4,2172.1 947,2177 947.6,2174.8 948.2,2183.9 948.8,2184.9 949.4,2189.2 950,2192.2 950.6,2190.3 951.2,2201.2 951.8,2196.2 952.4,2205.6 953,2200 953.6,2209.6 954.2,2208.4 954.8,2214.2 955.4,2214.8 956,2212.4 956.6,2219 957.2,2222.3 957.8,2223.4 958.4,2215.6 959,2212.6 959.6,2216.2 960.2,2217.7 960.8,2215.5 961.4,2214.2 962,2219.1 962.6,2218.8 963.2,2217.3 963.8,2210.9 964.4,2213.6 965,2212 965.6,2207 966.2,2214.2 966.8,2210.7 967.4,2208.1 968,2213.8 968.6,2210.9 969.2,2210.1 969.8,2210.1 970.4,2207.2 971,2199.3 971.6,2201.1 972.2,2204.6 972.8,2197.4 973.4,2199 974,2199 974.6,2201.3 975.2,2199.7 975.8,2197.1 976.4,2192.2 977,2194.8 977.6,2192.3 978.2,2188.8 978.8,2192.7 979.4,2188.6 980,2183.2 980.6,2188.8 981.2,2183.9 981.8,2188.3 982.4,2182.6 983,2189.3 983.6,2187.7 984.2,2189.1 984.8,2187.5 985.4,2202.8 986,2196.6 986.6,2199.5 987.2,2204 987.8,2201.3 988.4,2205 989,2200.2 989.6,2207 990.2,2206.5 990.8,2211.2 991.4,2211.6 992,2207.9 992.6,2207.8 993.2,2212.2 993.8,2219.7 994.4,2220.2 995,2221.7 995.6,2215 996.2,2214.3 996.8,2222.8 997.4,2225.4 998,2224.6 998.6,2225.3 999.2,2220.9 999.8,2214.9 1000.4,2213.3 1001,2214.2 1001.6,2211.4 1002.2,2208.3 1002.8,2213.6 1003.4,2202.5 1004,2201.2 1004.6,2194.8 1005.2,2194.4 1005.8,2194.8 1006.4,2192.3 1007,2187.3 1007.6,2186.6 1008.2,2182.8 1008.8,2173.6 1009.4,2166.3 1010,2182.7 1010.6,2175.1 1011.2,2169.5 1011.8,2161.2 1012.4,2160.2 1013,2172.2 1013.6,2161.3 1014.2,2172.8 1014.8,2179.9 1015.4,2180.6 1016,2185.8 1016.6,2185.9 1017.2,2197.6 1017.8,2189.1 1018.4,2191.1 1019,2199.8 1019.6,2206.8 1020.2,2204.9 1020.8,2211.8 1021.4,2209.6 1022,2210.5 1022.6,2222.4 1023.2,2226.1 1023.8,2229.1 1024.4,2225.5 1025,2221.7 1025.6,2219.5 1026.2,2220.5 1026.8,2221 1027.4,2218.6 1028,2209.8 1028.6,2213.1 1029.2,2210.3 1029.8,2208.3 1030.4,2205.7 1031,2202.9 1031.6,2203.4 1032.2,2199.6 1032.8,2197.8 1033.4,2192.4 1034,2193.9 1034.6,2190 1035.2,2181 1035.8,2187.6 1036.4,2182.9 1037,2184.7 1037.6,2178.8 1038.2,2176.8 1038.8,2175.7 1039.4,2175.1 1040,2175.1 1040.6,2172 1041.2,2185.8 1041.8,2175.7 1042.4,2181.4 1043,2186.2 1043.6,2186.7 1044.2,2188.8 1044.8,2191 1045.4,2194.1 1046,2192.3 1046.6,2202.7 1047.2,2190.8 1047.8,2196.5 1048.4,2196 1049,2196.8 1049.6,2201.1 1050.2,2206.5 1050.8,2200.6 1051.4,2202.1 1052,2208.4 1052.6,2209.3 1053.2,2215.6 1053.8,2213.9 1054.4,2212.6 1055,2212.2 1055.6,2215.5 1056.2,2215.7 1056.8,2213.1 1057.4,2219.2 1058,2220.1 1058.6,2221.3 1059.2,2222.1 1059.8,2230.8 1060.4,2228.9 1061,2229.6 1061.6,2221.3 1062.2,2216.7 1062.8,2216.1 1063.4,2214.8 1064,2209.7 1064.6,2207.1 1065.2,2207.9 1065.8,2202.5 1066.4,2195 1067,2193.8 1067.6,2189.8 1068.2,2188.3 1068.8,2176.8 1069.4,2173.3 1070,2169.4 1070.6,2160.2 1071.2,2150.1 1071.8,2146.3 1072.4,2154.3 1073,2161 1073.6,2167.7 1074.2,2169.9 1074.8,2171.4 1075.4,2186.2 1076,2187.8 1076.6,2193.7 1077.2,2198.9 1077.8,2199.8 1078.4,2203.8 1079,2207.3 1079.6,2211.5 1080.2,2209.8 1080.8,2200.5 1081.4,2211.9 1082,2215.4 1082.6,2220.2 1083.2,2219.8 1083.8,2227.4 1084.4,2225.3 1085,2226.6 1085.6,2226.8 1086.2,2220.5 1086.8,2229.6 1087.4,2230.3 1088,2228.1 1088.6,2233.4 1089.2,2234.4 1089.8,2233 1090.4,2233.1 1091,2231.2 1091.6,2231.3 1092.2,2227.6 1092.8,2229.4 1093.4,2219.6 1094,2223.6 1094.6,2217.4 1095.2,2219.9 1095.8,2221.8 1096.4,2218.7 1097,2216.7 1097.6,2215.8 1098.2,2219.4 1098.8,2208.8 1099.4,2214.1 1100,2204.5 1100.6,2206.5 1101.2,2207.2 1101.8,2202.2 1102.4,2204.3 1103,2204.6 1103.6,2196.6 1104.2,2198.9 1104.8,2197.6 1105.4,2193.2 1106,2200 1106.6,2198.8 1107.2,2207 1107.8,2200.4 1108.4,2210 1109,2203.3 1109.6,2212.6 1110.2,2208.8 1110.8,2209.4 1111.4,2211.5 1112,2212.7 1112.6,2215.3 1113.2,2217.3 1113.8,2211.2 1114.4,2209 1115,2205.1 1115.6,2213.7 1116.2,2218.5 1116.8,2218.1 1117.4,2218.1 1118,2217.5 1118.6,2217.4 1119.2,2219.5 1119.8,2222.7 1120.4,2216.3 1121,2225.6 1121.6,2219.1 1122.2,2224.4 1122.8,2223.7 1123.4,2225.5 1124,2223.2 1124.6,2218.4 1125.2,2217.1 1125.8,2209.8 1126.4,2217.5 1127,2203.3 1127.6,2198 1128.2,2194 1128.8,2187.8 1129.4,2178 1130,2179.9 1130.6,2176.3 1131.2,2164.7 1131.8,2164.3 1132.4,2156.3 1133,2164.7 1133.6,2170.5 1134.2,2175.4 1134.8,2179.7 1135.4,2180.2 1136,2190.1 1136.6,2190 1137.2,2197.2" fill="none" stroke="#22ee22" stroke-width="1.8" stroke-linejoin="round" stroke-linecap="round" />
<polyline points="404,2241.4 405.1,2232.3 406.2,2223.2 407.3,2219.9 408.4,2215.3 409.5,2214.7 410.6,2213.2 411.7,2216 412.8,2212.9 413.9,2207.6 415,2212.8 416.1,2214.7 417.2,2213.4 418.3,2207.9 419.4,2208.4 420.5,2208.5 421.6,2208.5 422.7,2197.6 423.8,2184.2 424.9,2176.7 426,2162.5 427.1,2142.3 428.2,2127.9 429.3,2112.9 430.4,2098.8 431.5,2114.7 432.6,2130.1 433.7,2144.4 434.8,2152.4 435.9,2158.1 437,2170.2 438.1,2180 439.2,2190.4 440.3,2197.4 441.4,2208.5 442.5,2222.6 443.6,2233.7 444.7,2226 445.8,2221.3 446.9,2213 448,2210.2 449.1,2202.2 450.2,2198.6 451.3,2193.7 452.4,2188.1 453.5,2179.9 454.6,2177.5 455.7,2174.9 456.8,2169.1 457.9,2163.5 459,2158.2 460.1,2150.9 461.2,2147.7 462.3,2144.4 463.4,2148 464.5,2152.8 465.6,2157.2 466.7,2161.4 467.8,2169.7 468.9,2173.6 470,2185.2 471.1,2184.3 472.2,2186.9 473.3,2189.4 474.4,2196.8 475.5,2194 476.6,2198.4 477.7,2200.1 478.8,2204.2 479.9,2207.3 481,2212.4 482.1,2210.3 483.2,2211.4 484.3,2211.4 485.4,2203.8 486.5,2201.2 487.6,2196.5 488.7,2189.7 489.8,2191.5 490.9,2190.7 492,2184.1 493.1,2181.7 494.2,2186.7 495.3,2187 496.4,2189.6 497.5,2190.1 498.6,2188.5 499.7,2190.9 500.8,2188.3 501.9,2196 503,2196 504.1,2199.6 505.2,2201.4 506.3,2200.6 507.4,2199.4 508.5,2195.2 509.6,2190 510.7,2191.2 511.8,2189 512.9,2183.8 514,2184.6 515.1,2180.7 516.2,2178.6 517.3,2165 518.4,2151.1 519.5,2144.2 520.6,2131.9 521.7,2118.4 522.8,2105.5 523.9,2098.9 525,2106.5 526.1,2113.1 527.2,2117.4 528.3,2130.3 529.4,2133 530.5,2142.6 531.6,2134.5 532.7,2118.6 533.8,2097.9 534.9,2085.4 536,2064.3 537.1,2044.5 538.2,2025.3 539.3,1998.8 540.4,1971.8 541.5,1989.2 542.6,2008.9 543.7,2019.8 544.8,2024 545.9,2032.4 547,2040.7 548.1,2044.1 549.2,2054.3 550.3,2063.7 551.4,2077.5 552.5,2082.4 553.6,2097.6 554.7,2105.6 555.8,2113.4 556.9,2132.3 558,2135.6 559.1,2146.8 560.2,2157 561.3,2160.6 562.4,2167.2 563.5,2179.8 564.6,2185.9 565.7,2179.4 566.8,2173.2 567.9,2168 569,2164.2 570.1,2151.5 571.2,2136.7 572.3,2122 573.4,2104.6 574.5,2088.3 575.6,2090.6 576.7,2087.6 577.8,2096 578.9,2096.9 580,2101.3 581.1,2106.8 582.2,2113.2 583.3,2121.5 584.4,2131.1 585.5,2136.2 586.6,2144.4 587.7,2135.6 588.8,2129.1 589.9,2118 591,2109.2 592.1,2103 593.2,2090.6 594.3,2074.5 595.4,2037.8 596.5,2017 597.6,2036.6 598.7,2056.7 599.8,2063.4 600.9,2070.3 602,2079.8 603.1,2087.6 604.2,2098.6 605.3,2106.4 606.4,2111.5 607.5,2126.9 608.6,2136.3 609.7,2149.9 610.8,2159.7 611.9,2169.4 613,2186 614.1,2183.3 615.2,2173.2 616.3,2165.2 617.4,2161.3 618.5,2153.4 619.6,2148.5 620.7,2143.9 621.8,2139.1 622.9,2128.9 624,2135.1 625.1,2138.4 626.2,2138.9 627.3,2140.2 628.4,2148.9 629.5,2152.2 630.6,2156.4 631.7,2150.2 632.8,2144.6 633.9,2142 635,2132.2 636.1,2138.6 637.2,2142.4 638.3,2151.2 639.4,2153.6 640.5,2151.1 641.6,2164.7 642.7,2164.1 643.8,2169.1 644.9,2168.3 646,2171.4 647.1,2173.8 648.2,2166.5 649.3,2156.9 650.4,2154.3 651.5,2145 652.6,2136.8 653.7,2131 654.8,2123.8 655.9,2130.8 657,2129.6 658.1,2132.1 659.2,2134.3 660.3,2133.9 661.4,2135.6 662.5,2140.6 663.6,2143 664.7,2147.2 665.8,2147.6 666.9,2146.8 668,2152.2 669.1,2155 670.2,2157.5 671.3,2158.4 672.4,2156.9 673.5,2163.1 674.6,2160.8 675.7,2164.9 676.8,2162.1 677.9,2168.2 679,2166.6 680.1,2171.8 681.2,2174.6 682.3,2174.9 683.4,2171.7 684.5,2173.6 685.6,2175.3 686.7,2181.3 687.8,2184.6 688.9,2188.1 690,2192.3 691.1,2192.7 692.2,2182 693.3,2173.2 694.4,2158.8 695.5,2148.4 696.6,2139 697.7,2135.9 698.8,2133 699.9,2127.9 701,2126.6 702.1,2124.2 703.2,2117.1 704.3,2112.9 705.4,2108.7 706.5,2106.5 707.6,2101.6 708.7,2100 709.8,2096.2 710.9,2092.8 712,2090.1 713.1,2085.6 714.2,2087.1 715.3,2091.6 716.4,2089.2 717.5,2095.3 718.6,2101.9 719.7,2109 720.8,2117 721.9,2124.4 723,2136.7 724.1,2147.4 725.2,2159.8 726.3,2175 727.4,2182.7 728.5,2188.6 729.6,2190.1 730.7,2194.6 731.8,2194.9 732.9,2199.7 734,2208 735.1,2206.1 736.2,2206.9 737.3,2205.8 738.4,2207.5 739.5,2203.9 740.6,2204.9 741.7,2207.9 742.8,2209.1 743.9,2207.1 745,2208 746.1,2208.1 747.2,2208.6 748.3,2206.6 749.4,2206.1 750.5,2208.8 751.6,2205.5 752.7,2207 753.8,2207.7 754.9,2206.9 756,2209.4 757.1,2208.1 758.2,2208.8 759.3,2205.4 760.4,2203 761.5,2202.5 762.6,2199.3 763.7,2194.7 764.8,2193.5 765.9,2190.2 767,2182.1 768.1,2176.5 769.2,2164 770.3,2157.1 771.4,2148.6 772.5,2138.8 773.6,2128.1 774.7,2122.5 775.8,2112.2 776.9,2102.4 778,2091.6 779.1,2080 780.2,2066.6 781.3,2058.7 782.4,2047.9 783.5,2044.9 784.6,2035.3 785.7,2031 786.8,2044.2 787.9,2055 789,2067.3 790.1,2082.1 791.2,2092.4 792.3,2103.2 793.4,2114.3 794.5,2129.9 795.6,2141.8 796.7,2155.1 797.8,2165.3 798.9,2182.6 800,2187.6 801.1,2198.9 802.2,2203.5 803.3,2217.4 804.4,2212.6 805.5,2214.5 806.6,2209.8 807.7,2200.9 808.8,2200.1 809.9,2199.6 811,2195.1 812.1,2185.7 813.2,2184.1 814.3,2179.6 815.4,2176.9 816.5,2174.7 817.6,2176.8 818.7,2170.4 819.8,2166.8 820.9,2163.6 822,2162.7 823.1,2159.8 824.2,2153.6 825.3,2160.8 826.4,2160.1 827.5,2166.1 828.6,2171.9 829.7,2178.8 830.8,2179.1 831.9,2184.8 833,2191.2 834.1,2196.3 835.2,2203.9 836.3,2210.2 837.4,2215.2 838.5,2215.6 839.6,2210.2 840.7,2202.2 841.8,2199.4 842.9,2186.2 844,2182.3 845.1,2181 846.2,2172.9 847.3,2164.7 848.4,2169 849.5,2175.7 850.6,2177.7 851.7,2185.6 852.8,2189.1 853.9,2194.4 855,2199.8 856.1,2207.5 857.2,2208.3 858.3,2215.1 859.4,2222.5 860.5,2216.3 861.6,2210.3 862.7,2209.3 863.8,2202.9 864.9,2197.3 866,2192.6 867.1,2185 868.2,2187.5 869.3,2174.4 870.4,2170.2 871.5,2163 872.6,2167.4 873.7,2176.6 874.8,2178.8 875.9,2185.3 877,2188.4 878.1,2198.3 879.2,2200.3 880.3,2202.8 881.4,2212.1 882.5,2215.1 883.6,2222.3 884.7,2219.6 885.8,2215.5 886.9,2210.8 888,2204.3 889.1,2198.7 890.2,2199.3 891.3,2192.6 892.4,2189.1 893.5,2183.2 894.6,2175.6 895.7,2172.7 896.8,2178.7 897.9,2176.8 899,2180 900.1,2180.4 901.2,2184.7 902.3,2187.5 903.4,2190.3 904.5,2193 905.6,2194.4 906.7,2197.5 907.8,2201.8 908.9,2205.5 910,2207.7 911.1,2214.6 912.2,2214.6 913.3,2217.6 914.4,2219.1 915.5,2225.6 916.6,2224.6 917.7,2226.5 918.8,2230.9 919.9,2237.2 921,2230.6 922.1,2228.8 923.2,2219.6 924.3,2210 925.4,2206 926.5,2203.4 927.6,2191.5 928.7,2184 929.8,2181 930.9,2176 932,2168.8 933.1,2163.7 934.2,2164.7 935.3,2165 936.4,2166.7 937.5,2168.7 938.6,2164.1 939.7,2167 940.8,2163.7 941.9,2165.5 943,2162.5 944.1,2162.8 945.2,2168.6 946.3,2171.2 947.4,2180.1 948.5,2182.5 949.6,2189 950.7,2194 951.8,2198.8 952.9,2205 954,2212.2 955.1,2221.6 956.2,2218.3 957.3,2222.3 958.4,2220 959.5,2217.2 960.6,2218.3 961.7,2214.6 962.8,2214.9 963.9,2216.2 965,2208.4 966.1,2211.6 967.2,2210.7 968.3,2206.5 969.4,2207.6 970.5,2205.1 971.6,2201.5 972.7,2202.4 973.8,2195.2 974.9,2196.9 976,2193 977.1,2189.2 978.2,2188.8 979.3,2186.2 980.4,2186.4 981.5,2182.3 982.6,2187.8 983.7,2190.1 984.8,2197 985.9,2194.4 987,2201.6 988.1,2198.8 989.2,2205.9 990.3,2207.7 991.4,2211.6 992.5,2212.3 993.6,2212.6 994.7,2216.3 995.8,2224.8 996.9,2225.4 998,2224.7 999.1,2223.5 1000.2,2215.5 1001.3,2210.8 1002.4,2205.1 1003.5,2205.1 1004.6,2201.9 1005.7,2191.3 1006.8,2189.1 1007.9,2185.7 1009,2183.2 1010.1,2169.5 1011.2,2169.8 1012.3,2166 1013.4,2166.6 1014.5,2176.1 1015.6,2181.4 1016.7,2188.2 1017.8,2191.3 1018.9,2199 1020,2202.7 1021.1,2210.8 1022.2,2215.7 1023.3,2220.3 1024.4,2224 1025.5,2226.9 1026.6,2221.8 1027.7,2217.3 1028.8,2210.2 1029.9,2206.8 1031,2206.8 1032.1,2200.9 1033.2,2193.6 1034.3,2191.4 1035.4,2187.5 1036.5,2182.8 1037.6,2177.3 1038.7,2177.6 1039.8,2177.1 1040.9,2178.3 1042,2178.2 1043.1,2182.9 1044.2,2186.7 1045.3,2191.2 1046.4,2191.4 1047.5,2197 1048.6,2197.8 1049.7,2198.7 1050.8,2197.3 1051.9,2203.2 1053,2205.3 1054.1,2210.7 1055.2,2214.3 1056.3,2219.1 1057.4,2219 1058.5,2219.4 1059.6,2229.1 1060.7,2227.7 1061.8,2221.6 1062.9,2215.9 1064,2208 1065.1,2206.2 1066.2,2200 1067.3,2196.7 1068.4,2187.5 1069.5,2174.4 1070.6,2162.5 1071.7,2146.8 1072.8,2156.5 1073.9,2167.4 1075,2175.1 1076.1,2187.3 1077.2,2197 1078.3,2205.8 1079.4,2207.3 1080.5,2206.4 1081.6,2213.1 1082.7,2218.8 1083.8,2215.1 1084.9,2220.1 1086,2224.6 1087.1,2224.7 1088.2,2229.2 1089.3,2233.2 1090.4,2230.8 1091.5,2231.3 1092.6,2228.8 1093.7,2222.7 1094.8,2222.5 1095.9,2221.9 1097,2216.6 1098.1,2215.1 1099.2,2212.8 1100.3,2208.3 1101.4,2208 1102.5,2204.1 1103.6,2198.6 1104.7,2199.7 1105.8,2202 1106.9,2203.5 1108,2202.3 1109.1,2206.1 1110.2,2209.6 1111.3,2209 1112.4,2212.5 1113.5,2214.4 1114.6,2213.4 1115.7,2216.5 1116.8,2216.2 1117.9,2220.6 1119,2219.9 1120.1,2220.6 1121.2,2223.3 1122.3,2224.9 1123.4,2227.5 1124.5,2224 1125.6,2212.6 1126.7,2205.6 1127.8,2199.5 1128.9,2191.7 1130,2180.9 1131.1,2175.9 1132.2,2162.8 1133.3,2166.9 1134.4,2176.7 1135.5,2186.1 1136.6,2192.3" fill="none" stroke="#2aee2a" stroke-width="2.6" stroke-linejoin="round" stroke-linecap="round" />
<polyline points="404.3,2143.6 404.9,2151.2 405.4,2150.9 406,2159.5 406.5,2142.7 407.1,2156.7 407.6,2149.4 408.2,2153.9 408.7,2148.6 409.3,2150.4 409.8,2154.3 410.4,2149.7 410.9,2153.6 411.5,2148.7 412,2147.2 412.6,2147.9 413.1,2146.5 413.7,2148 414.2,2154.1 414.8,2143.3 415.3,2141.1 415.9,2147.8 416.4,2154.8 417,2152 417.5,2153 418.1,2152.6 418.6,2144.1 419.2,2147.5 419.7,2135.7 420.3,2144.2 420.8,2149.1 421.4,2139.9 421.9,2137.6 422.5,2140.7 423,2146.9 423.6,2150.8 424.1,2156.6 424.7,2151.6 425.2,2139.1 425.8,2135.5 426.3,2145.8 426.9,2149.5 427.4,2138.1 428,2142.5 428.5,2142.7 429.1,2144.6 429.6,2143.5 430.2,2146.3 430.7,2148.5 431.3,2144.2 431.8,2146.9 432.4,2151.9 432.9,2139.1 433.5,2138.8 434,2145.2 434.6,2150.6 435.1,2143.4 435.7,2147.1 436.2,2141 436.8,2146 437.3,2139.3 437.9,2144.6 438.4,2143.3 439,2143.1 439.5,2147 440.1,2145.6 440.6,2138.4 441.2,2144.5 441.7,2133.4 442.3,2144.5 442.8,2151.8 443.4,2142.3 443.9,2142 444.5,2140 445,2143 445.6,2137.5 446.1,2142 446.7,2137.9 447.2,2137.1 447.8,2139.2 448.3,2138.2 448.9,2131 449.4,2146.9 450,2138.5 450.5,2130.7 451.1,2142.1 451.6,2137.3 452.2,2138.1 452.7,2140 453.3,2133.1 453.8,2124.3 454.4,2136.1 454.9,2137.3 455.5,2140.4 456,2132.8 456.6,2134.7 457.1,2137.3 457.7,2134.1 458.2,2134.2 458.8,2136.1 459.3,2130.7 459.9,2141.3 460.4,2130.6 461,2134.3 461.5,2132.4 462.1,2130.5 462.6,2135.3 463.2,2137 463.7,2138.5 464.3,2134.4 464.8,2129.7 465.4,2134.9 465.9,2124.8 466.5,2130.7 467,2132.3 467.6,2132.1 468.1,2124.6 468.7,2122.7 469.2,2135.6 469.8,2126.1 470.3,2121 470.9,2122.3 471.4,2127.2 472,2131.7 472.5,2126.4 473.1,2131.1 473.6,2126.6 474.2,2127.3 474.7,2129 475.3,2123 475.8,2125.4 476.4,2122.2 476.9,2120.7 477.5,2125.8 478,2119.2 478.6,2122.6 479.1,2118.6 479.7,2121.2 480.2,2119 480.8,2125.4 481.3,2120.8 481.9,2120.4 482.4,2126.6 483,2107.1 483.5,2114.2 484.1,2107 484.6,2118.1 485.2,2119.6 485.7,2120.1 486.3,2118.2 486.8,2113 487.4,2123.6 487.9,2117.2 488.5,2114.4 489,2110.4 489.6,2116.5 490.1,2112.4 490.7,2112.3 491.2,2114.8 491.8,2114.6 492.3,2110 492.9,2118.5 493.4,2108.7 494,2108 494.5,2113.7 495.1,2112.7 495.6,2112.2 496.2,2109.9 496.7,2111.6 497.3,2108.8 497.8,2103.9 498.4,2113.7 498.9,2106.1 499.5,2109.1 500,2112.9 500.6,2109.7 501.1,2120.9 501.7,2103.2 502.2,2105.7 502.8,2108.9 503.3,2114 503.9,2107 504.4,2101.8 505,2112.3 505.5,2103.4 506.1,2106.2 506.6,2110.5 507.2,2103.7 507.7,2104.4 508.3,2108.1 508.8,2104.9 509.4,2106.7 509.9,2101.3 510.5,2104.5 511,2100.1 511.6,2097.9 512.1,2111.6 512.7,2105.9 513.2,2107.6 513.8,2099.4 514.3,2103.1 514.9,2102.1 515.4,2096.7 516,2104.7 516.5,2099.2 517.1,2101.1 517.6,2095.3 518.2,2105.6 518.7,2104.4 519.3,2102.6 519.8,2096.8 520.4,2098.1 520.9,2105.3 521.5,2098.7 522,2100.5 522.6,2099.5 523.1,2093.8 523.7,2104.5 524.2,2089.3 524.8,2098.1 525.3,2096.4 525.9,2089.5 526.4,2097.2 527,2097.6 527.5,2095.2 528.1,2091 528.6,2096 529.2,2098.3 529.7,2094.1 530.3,2100 530.8,2095.9 531.4,2095.1 531.9,2097.3 532.5,2088.2 533,2088.4 533.6,2092.3 534.1,2091.9 534.7,2095.6 535.2,2093.6 535.8,2089.1 536.3,2088.8 536.9,2086.3 537.4,2085.5 538,2084.7 538.5,2090 539.1,2083.8 539.6,2083.8 540.2,2085.5 540.7,2082.3 541.3,2083 541.8,2074.4 542.4,2084.7 542.9,2081.4 543.5,2083.1 544,2083.4 544.6,2073.6 545.1,2091.1 545.7,2081.3 546.2,2081.2 546.8,2072.7 547.3,2082.6 547.9,2081.4 548.4,2078 549,2080.3 549.5,2084.4 550.1,2077.3 550.6,2074.7 551.2,2083.8 551.7,2079.1 552.3,2077 552.8,2087.2 553.4,2077.9 553.9,2076.2 554.5,2077.8 555,2074.7 555.6,2077 556.1,2076.5 556.7,2072.8 557.2,2074.2 557.8,2076.3 558.3,2076.3 558.9,2076.9 559.4,2077.4 560,2074.9 560.5,2075.8 561.1,2071.7 561.6,2071.9 562.2,2077.1 562.7,2064.2 563.3,2073.7 563.8,2085.2 564.4,2063.8 564.9,2077.6 565.5,2063.6 566,2072.2 566.6,2077.2 567.1,2076.3 567.7,2066 568.2,2064 568.8,2063.2 569.3,2071.9 569.9,2067 570.4,2068.4 571,2069.1 571.5,2069.5 572.1,2069.7 572.6,2067.7 573.2,2060.2 573.7,2072.7 574.3,2054.8 574.8,2071.2 575.4,2063.2 575.9,2064.7 576.5,2063 577,2063.4 577.6,2064.6 578.1,2063.2 578.7,2059.5 579.2,2067.4 579.8,2061.1 580.3,2068.9 580.9,2062.3 581.4,2059.7 582,2064.3 582.5,2065.9 583.1,2058 583.6,2060.4 584.2,2067.3 584.7,2056.9 585.3,2057.2 585.8,2061.2 586.4,2055.1 586.9,2049.6 587.5,2052.7 588,2061 588.6,2061.9 589.1,2061.3 589.7,2060.2 590.2,2053.1 590.8,2060.9 591.3,2062.6 591.9,2054.6 592.4,2061.2 593,2055.4 593.5,2057.5 594.1,2058 594.6,2050 595.2,2062.2 595.7,2052.3 596.3,2055.3 596.8,2053.5 597.4,2057.4 597.9,2057.1 598.5,2055.2 599,2060.9 599.6,2056 600.1,2052.9 600.7,2042.4 601.2,2053.1 601.8,2052.9 602.3,2050.3 602.9,2050.2 603.4,2056.1 604,2057.9 604.5,2061.3 605.1,2058 605.6,2050 606.2,2053.9 606.7,2046.9 607.3,2055.6 607.8,2053.8 608.4,2049.6 608.9,2051.6 609.5,2050.8 610,2049 610.6,2057.1 611.1,2064.4 611.7,2054.7 612.2,2055.5 612.8,2051.5 613.3,2049.2 613.9,2059.8 614.4,2048.8 615,2051.9 615.5,2049.6 616.1,2052.4 616.6,2049.5 617.2,2052.1 617.7,2044.1 618.3,2048.9 618.8,2055 619.4,2044.9 619.9,2046.5 620.5,2055 621,2051 621.6,2053.8 622.1,2039.9 622.7,2049.9 623.2,2043.9 623.8,2043.4 624.3,2051 624.9,2054.2 625.4,2043 626,2044.6 626.5,2046.8 627.1,2048.7 627.6,2043.7 628.2,2058.8 628.7,2051.7 629.3,2047.7 629.8,2047.1 630.4,2059 630.9,2058.7 631.5,2047.2 632,2050.7 632.6,2054.5 633.1,2044.3 633.7,2046.8 634.2,2054.9 634.8,2046.3 635.3,2047.4 635.9,2043.5 636.4,2046 637,2052.1 637.5,2045.7 638.1,2043.7 638.6,2046.6 639.2,2056.7 639.7,2049.9 640.3,2046.8 640.8,2049.8 641.4,2051 641.9,2049.7 642.5,2041.6 643,2050.5 643.6,2048.5 644.1,2053.1 644.7,2043.9 645.2,2054.1 645.8,2047.7 646.3,2042.7 646.9,2055.6 647.4,2047.9 648,2051.8 648.5,2049.7 649.1,2055.1 649.6,2055.2 650.2,2055.4 650.7,2053.8 651.3,2044 651.8,2043.9 652.4,2051.9 652.9,2047.2 653.5,2053.3 654,2052.1 654.6,2045.5 655.1,2047.2 655.7,2046.9 656.2,2048.1 656.8,2051.1 657.3,2054.9 657.9,2057.8 658.4,2048.2 659,2050 659.5,2059.1 660.1,2056.4 660.6,2053.7 661.2,2042.9 661.7,2048.6 662.3,2053.7 662.8,2050.6 663.4,2061.7 663.9,2053.7 664.5,2054.7 665,2048.9 665.6,2049.3 666.1,2051 666.7,2051.2 667.2,2053.1 667.8,2055.8 668.3,2055.4 668.9,2058.8 669.4,2049 670,2055.8 670.5,2056.1 671.1,2062 671.6,2054.5 672.2,2056.9 672.7,2052.3 673.3,2057.7 673.8,2057.7 674.4,2053.6 674.9,2054.5 675.5,2056.4 676,2059.2 676.6,2052 677.1,2060.8 677.7,2055.8 678.2,2065.4 678.8,2063.7 679.3,2056 679.9,2055.2 680.4,2068.5 681,2060.9 681.5,2060.8 682.1,2056.8 682.6,2058.2 683.2,2062.3 683.7,2061.7 684.3,2055.7 684.8,2064.7 685.4,2060.9 685.9,2055.7 686.5,2064.1 687,2059.3 687.6,2063.5 688.1,2058 688.7,2062.1 689.2,2053.8 689.8,2062.5 690.3,2054.6 690.9,2061.9 691.4,2050.6 692,2061.3 692.5,2064.8 693.1,2063.9 693.6,2067.1 694.2,2057.6 694.7,2069 695.3,2069.3 695.8,2057.6 696.4,2059.5 696.9,2060.6 697.5,2063.1 698,2064.1 698.6,2053.1 699.1,2066.2 699.7,2062.8 700.2,2059.7 700.8,2068.2 701.3,2062.9 701.9,2069.3 702.4,2066.9 703,2063.5 703.5,2070 704.1,2068.6 704.6,2063.2 705.2,2058.7 705.7,2063.3 706.3,2068.4 706.8,2065 707.4,2073.6 707.9,2067.4 708.5,2067.3 709,2068.4 709.6,2063.1 710.1,2066.5 710.7,2064.3 711.2,2057.4 711.8,2059.9 712.3,2070.8 712.9,2065.9 713.4,2067.4 714,2061.9 714.5,2065.8 715.1,2071.8 715.6,2069 716.2,2066.6 716.7,2075.4 717.3,2068.9 717.8,2067.8 718.4,2074.3 718.9,2062.3 719.5,2072.1 720,2065.2 720.6,2066.8 721.1,2067.4 721.7,2071 722.2,2071 722.8,2072 723.3,2071.8 723.9,2077 724.4,2078.4 725,2074.4 725.5,2074.8 726.1,2070.1 726.6,2067.2 727.2,2074.6 727.7,2072.4 728.3,2076 728.8,2064.8 729.4,2084.1 729.9,2067.5 730.5,2073.2 731,2077.4 731.6,2067.5 732.1,2071.2 732.7,2065.2 733.2,2067.8 733.8,2065.8 734.3,2074.6 734.9,2075.6 735.4,2073.2 736,2080 736.5,2080.7 737.1,2075 737.6,2074.3 738.2,2074.2 738.7,2073.6 739.3,2081.2 739.8,2076.9 740.4,2074.7 740.9,2075.4 741.5,2078.9 742,2075.1 742.6,2078.3 743.1,2077.1 743.7,2083.2 744.2,2082.6 744.8,2071.9 745.3,2077.4 745.9,2081.3 746.4,2076.6 747,2082.2 747.5,2080.4 748.1,2081.7 748.6,2079.2 749.2,2080.9 749.7,2082.1 750.3,2073.9 750.8,2076.4 751.4,2076.2 751.9,2087.9 752.5,2082.3 753,2082.8 753.6,2082.2 754.1,2079.5 754.7,2078.7 755.2,2085.7 755.8,2080.7 756.3,2089.2 756.9,2083.6 757.4,2083.4 758,2082.3 758.5,2083.1 759.1,2083.8 759.6,2090.3 760.2,2093.9 760.7,2079.4 761.3,2085.6 761.8,2087.7 762.4,2081.2 762.9,2082.5 763.5,2083.5 764,2075.4 764.6,2088.6 765.1,2085.8 765.7,2085.8 766.2,2086.8 766.8,2087.7 767.3,2096.6 767.9,2087.8 768.4,2090.7 769,2085.2 769.5,2089.1 770.1,2086.5 770.6,2087.4 771.2,2084.4 771.7,2085 772.3,2090.5 772.8,2092 773.4,2091 773.9,2086.4 774.5,2090.7 775,2078.9 775.6,2093.8 776.1,2089.9 776.7,2091.4 777.2,2095.3 777.8,2088.8 778.3,2094.9 778.9,2089.2 779.4,2093.5 780,2089.7 780.5,2092.9 781.1,2097.9 781.6,2089.3 782.2,2089.7 782.7,2091.1 783.3,2093.9 783.8,2104.4 784.4,2090.6 784.9,2084.7 785.5,2090.9 786,2087.2 786.6,2091.8 787.1,2094.6 787.7,2090.7 788.2,2092.2 788.8,2087.5 789.3,2096.4 789.9,2092.8 790.4,2100.8 791,2101 791.5,2093.2 792.1,2095.6 792.6,2097.6 793.2,2100.9 793.7,2091 794.3,2098 794.8,2106.4 795.4,2098.5 795.9,2100.1 796.5,2099.5 797,2094.8 797.6,2104.1 798.1,2101.5 798.7,2101.3 799.2,2104 799.8,2104.6 800.3,2093.6 800.9,2103.9 801.4,2099.7 802,2103.1 802.5,2099.8 803.1,2099.5 803.6,2107.6 804.2,2103.9 804.7,2103.1 805.3,2103.4 805.8,2105.3 806.4,2105.3 806.9,2095.7 807.5,2102.4 808,2105.4 808.6,2109.9 809.1,2112.9 809.7,2103.6 810.2,2116 810.8,2108.6 811.3,2110.7 811.9,2106.7 812.4,2106.8 813,2115.7 813.5,2109.1 814.1,2110 814.6,2115.7 815.2,2118.4 815.7,2105.2 816.3,2111.1 816.8,2112.2 817.4,2120.2 817.9,2123.3 818.5,2113.1 819,2115.2 819.6,2117.5 820.1,2119 820.7,2113.1 821.2,2118.4 821.8,2112.1 822.3,2104.1 822.9,2109.8 823.4,2116.8 824,2119.5 824.5,2107 825.1,2109.2 825.6,2117 826.2,2103.2 826.7,2120 827.3,2122.3 827.8,2105.7 828.4,2121.8 828.9,2118 829.5,2125.1 830,2120.6 830.6,2118.7 831.1,2120.5 831.7,2124.3 832.2,2121.4 832.8,2121.1 833.3,2115.1 833.9,2123.5 834.4,2121.9 835,2129.8 835.5,2122.3 836.1,2122.3 836.6,2120.3 837.2,2126.2 837.7,2122.6 838.3,2120.9 838.8,2131.1 839.4,2132.4 839.9,2123.5 840.5,2121.6 841,2131.1 841.6,2123.3 842.1,2139.2 842.7,2127.3 843.2,2132.4 843.8,2123.3 844.3,2129.2 844.9,2134.4 845.4,2132.1 846,2128.5 846.5,2141.6 847.1,2134.9 847.6,2131.3 848.2,2130.2 848.7,2132.1 849.3,2139.4 849.8,2130.9 850.4,2134.8 850.9,2131.7 851.5,2141 852,2135.5 852.6,2140.3 853.1,2139.5 853.7,2135.2 854.2,2141.1 854.8,2142.6 855.3,2134.1 855.9,2142.3 856.4,2154.7 857,2138.7 857.5,2143 858.1,2135 858.6,2142.9 859.2,2138.9 859.7,2144.9 860.3,2141.8 860.8,2137.4 861.4,2147.4 861.9,2142.1 862.5,2139.1 863,2144 863.6,2140 864.1,2146.1 864.7,2144.5 865.2,2143.5 865.8,2148.3 866.3,2140.4 866.9,2150.2 867.4,2138 868,2153.6 868.5,2147.9 869.1,2146.4 869.6,2144.7 870.2,2150.5 870.7,2147.8 871.3,2148.1 871.8,2153.5 872.4,2147.7 872.9,2148.9 873.5,2152 874,2155.1 874.6,2150.2 875.1,2151.9 875.7,2151.7 876.2,2155 876.8,2158.6 877.3,2148.6 877.9,2152.3 878.4,2153.1 879,2156.1 879.5,2160.3 880.1,2154.2 880.6,2155.5 881.2,2159.8 881.7,2150 882.3,2152.4 882.8,2154.1 883.4,2156.3 883.9,2157.6 884.5,2154.8 885,2164.8 885.6,2154.7 886.1,2157.1 886.7,2163 887.2,2162 887.8,2158.9 888.3,2160.9 888.9,2163.2 889.4,2160 890,2163.1 890.5,2156.8 891.1,2161.3 891.6,2154.3 892.2,2157.7 892.7,2156.8 893.3,2167.2 893.8,2160.1 894.4,2163.5 894.9,2158.5 895.5,2161.8 896,2161.6 896.6,2159.4 897.1,2166.9 897.7,2156.3 898.2,2166.3 898.8,2175.1 899.3,2160.5 899.9,2164.3 900.4,2157.7 901,2164.4 901.5,2157.3 902.1,2167.6 902.6,2163 903.2,2157.4 903.7,2159.9 904.3,2158.9 904.8,2164.6 905.4,2169.7 905.9,2164.5 906.5,2161.4 907,2163 907.6,2167.3 908.1,2156.5 908.7,2169.6 909.2,2169 909.8,2157 910.3,2172.7 910.9,2160.9 911.4,2167.1 912,2173.2 912.5,2161.3 913.1,2160.6 913.6,2163.8 914.2,2164.2 914.7,2168.4 915.3,2166.9 915.8,2167.2 916.4,2167.4 916.9,2168.8 917.5,2166.1 918,2171.4 918.6,2170.1 919.1,2165.9 919.7,2178.3 920.2,2165.2 920.8,2174 921.3,2167.8 921.9,2172.7 922.4,2173.6 923,2175.2 923.5,2177.8 924.1,2168.3 924.6,2184.3 925.2,2174 925.7,2168.9 926.3,2166.8 926.8,2182.8 927.4,2180 927.9,2173.1 928.5,2176.6 929,2179.1 929.6,2174.1 930.1,2172 930.7,2173.9 931.2,2177.8 931.8,2174.5 932.3,2169.3 932.9,2178 933.4,2167.5 934,2171.8 934.5,2180.5 935.1,2176.4 935.6,2176.5 936.2,2176.1 936.7,2180.2 937.3,2175.7 937.8,2167.7 938.4,2177.3 938.9,2163.2 939.5,2167.7 940,2183.4 940.6,2181.2 941.1,2174.9 941.7,2176.7 942.2,2177.5 942.8,2181.6 943.3,2174.1 943.9,2173.8 944.4,2175 945,2178.4 945.5,2179.1 946.1,2176.4 946.6,2181.5 947.2,2174 947.7,2178.2 948.3,2175.7 948.8,2174.4 949.4,2184.2 949.9,2177.7 950.5,2174.9 951,2179.5 951.6,2175.1 952.1,2182.1 952.7,2183.4 953.2,2184.3 953.8,2175.5 954.3,2179.5 954.9,2188.2 955.4,2179.5 956,2186 956.5,2187.2 957.1,2174.9 957.6,2186.2 958.2,2184.3 958.7,2185 959.3,2188.6 959.8,2183.4 960.4,2181.8 960.9,2184.2 961.5,2180.2 962,2183.9 962.6,2173.2 963.1,2189.3 963.7,2179.7 964.2,2184.4 964.8,2183.5 965.3,2182.7 965.9,2182.8 966.4,2182.7 967,2175.4 967.5,2180.2 968.1,2187.7 968.6,2178.3 969.2,2178.2 969.7,2191.9 970.3,2188.1 970.8,2189.7 971.4,2183 971.9,2184.3 972.5,2186.5 973,2185.7 973.6,2183 974.1,2177.2 974.7,2180.4 975.2,2177.2 975.8,2190.4 976.3,2182 976.9,2183.1 977.4,2185.1 978,2184.1 978.5,2186.3 979.1,2181.5 979.6,2177.7 980.2,2191.8 980.7,2181.3 981.3,2182.4 981.8,2181.1 982.4,2182.2 982.9,2184.7 983.5,2187.9 984,2180.3 984.6,2186.1 985.1,2182 985.7,2190.1 986.2,2179.8 986.8,2185.5 987.3,2188.2 987.9,2179.4 988.4,2185.7 989,2186 989.5,2182 990.1,2184.5 990.6,2189.8 991.2,2186.6 991.7,2183.9 992.3,2184.8 992.8,2187.7 993.4,2191.3 993.9,2189.3 994.5,2189.1 995,2192.7 995.6,2179.6 996.1,2180.1 996.7,2176.6 997.2,2189.9 997.8,2176.7 998.3,2186.3 998.9,2189.7 999.4,2180.6 1000,2183.8 1000.5,2185.6 1001.1,2189.9 1001.6,2180.4 1002.2,2188.2 1002.7,2189.9 1003.3,2187.6 1003.8,2187.8 1004.4,2192.4 1004.9,2188.2 1005.5,2187.2 1006,2185.9 1006.6,2190.2 1007.1,2186.3 1007.7,2190.3 1008.2,2188 1008.8,2192.5 1009.3,2184.4 1009.9,2188.2 1010.4,2189.4 1011,2189.7 1011.5,2192.8 1012.1,2189.8 1012.6,2192 1013.2,2196.6 1013.7,2191.9 1014.3,2184 1014.8,2182.5 1015.4,2191.4 1015.9,2187.1 1016.5,2190 1017,2188.1 1017.6,2194.4 1018.1,2194 1018.7,2184.3 1019.2,2190.3 1019.8,2187.9 1020.3,2183.8 1020.9,2192.1 1021.4,2188.8 1022,2191.4 1022.5,2200 1023.1,2195.2 1023.6,2194.4 1024.2,2188.1 1024.7,2184.9 1025.3,2195.2 1025.8,2188.7 1026.4,2190.3 1026.9,2188.6 1027.5,2190.7 1028,2200.5 1028.6,2189.1 1029.1,2189.3 1029.7,2191.4 1030.2,2191.8 1030.8,2185.6 1031.3,2183.3 1031.9,2188.4 1032.4,2190 1033,2187.7 1033.5,2186.8 1034.1,2187.2 1034.6,2189.5 1035.2,2190.7 1035.7,2184.5 1036.3,2189.1 1036.8,2193 1037.4,2191 1037.9,2185.9 1038.5,2190.3 1039,2191.8 1039.6,2195.2 1040.1,2185.2 1040.7,2195 1041.2,2190.3 1041.8,2193.2 1042.3,2195.3 1042.9,2188.9 1043.4,2189.3 1044,2192.3 1044.5,2195.9 1045.1,2190.7 1045.6,2187.1 1046.2,2190.2 1046.7,2194.8 1047.3,2198.2 1047.8,2191.3 1048.4,2192.2 1048.9,2192.9 1049.5,2193.2 1050,2189.9 1050.6,2192.1 1051.1,2194.9 1051.7,2194.6 1052.2,2194.3 1052.8,2190.1 1053.3,2192.1 1053.9,2191.5 1054.4,2199 1055,2200.8 1055.5,2196.3 1056.1,2201.6 1056.6,2193.8 1057.2,2193.9 1057.7,2189.8 1058.3,2196.3 1058.8,2193.6 1059.4,2195.9 1059.9,2197.7 1060.5,2194.8 1061,2191.2 1061.6,2195.8 1062.1,2195.8 1062.7,2196.3 1063.2,2199.1 1063.8,2195.4 1064.3,2195.3 1064.9,2203.7 1065.4,2201.1 1066,2196.3 1066.5,2192.9 1067.1,2195 1067.6,2198.6 1068.2,2200.6 1068.7,2207.2 1069.3,2196.3 1069.8,2198 1070.4,2196 1070.9,2197.9 1071.5,2196.1 1072,2193.3 1072.6,2202.1 1073.1,2198.5 1073.7,2203.4 1074.2,2196.1 1074.8,2199.4 1075.3,2201.1 1075.9,2190.7 1076.4,2193.1 1077,2201.8 1077.5,2199.2 1078.1,2191.2 1078.6,2195.9 1079.2,2194.7 1079.7,2197.1 1080.3,2205.6 1080.8,2196.9 1081.4,2207.8 1081.9,2198.5 1082.5,2196.6 1083,2206.2 1083.6,2203.7 1084.1,2205.6 1084.7,2208.1 1085.2,2204.5 1085.8,2205.3 1086.3,2193.2 1086.9,2197 1087.4,2202.4 1088,2201.5 1088.5,2203.7 1089.1,2198.9 1089.6,2205.6 1090.2,2209.5 1090.7,2203.6 1091.3,2204.8 1091.8,2203.5 1092.4,2205.4 1092.9,2202.5 1093.5,2199.6 1094,2202.7 1094.6,2202.4 1095.1,2195.7 1095.7,2203.1 1096.2,2202.4 1096.8,2203.2 1097.3,2200.2 1097.9,2204.6 1098.4,2205.3 1099,2199.8 1099.5,2204.2 1100.1,2206.2 1100.6,2206.2 1101.2,2199.3 1101.7,2199 1102.3,2203.5 1102.8,2199.1 1103.4,2213.9 1103.9,2200.3 1104.5,2200.4 1105,2206.5 1105.6,2201.9 1106.1,2194.2 1106.7,2203.4 1107.2,2200 1107.8,2202 1108.3,2197.6 1108.9,2200.6 1109.4,2203.8 1110,2204.2 1110.5,2200 1111.1,2201.7 1111.6,2201.2 1112.2,2205.4 1112.7,2204.3 1113.3,2199.8 1113.8,2207.7 1114.4,2202.2 1114.9,2206.8 1115.5,2201.5 1116,2206.6 1116.6,2204.9 1117.1,2205.8 1117.7,2207.7 1118.2,2207.5 1118.8,2206.5 1119.3,2206.5 1119.9,2200.7 1120.4,2205.8 1121,2197 1121.5,2196.9 1122.1,2205 1122.6,2205.5 1123.2,2212.7 1123.7,2209.3 1124.3,2211.3 1124.8,2205.5 1125.4,2208.7 1125.9,2211.8 1126.5,2209.2 1127,2208.6 1127.6,2207.7 1128.1,2203.5 1128.7,2203.7 1129.2,2201.6 1129.8,2209.3 1130.3,2206.6 1130.9,2205 1131.4,2209.4 1132,2205.6 1132.5,2212.4 1133.1,2216.1 1133.6,2210.2 1134.2,2205.5 1134.7,2202.3 1135.3,2216.9 1135.8,2210.5 1136.4,2203.9 1136.9,2213.3" fill="none" stroke="#ee1111" stroke-width="2.0" stroke-linejoin="round" stroke-linecap="round" />
<polyline points="404.3,2147.7 405.6,2149.7 406.9,2149.8 408.2,2149.2 409.5,2147.3 410.8,2153.9 412.1,2148 413.4,2149.2 414.7,2148.2 416,2144.6 417.3,2146.3 418.6,2147.5 419.9,2148.6 421.2,2145.7 422.5,2146.7 423.8,2145 425.1,2146.5 426.4,2140.1 427.7,2145.8 429,2143 430.3,2142.7 431.6,2137.9 432.9,2141 434.2,2143.9 435.5,2146.8 436.8,2140.4 438.1,2140.1 439.4,2141.9 440.7,2141.1 442,2138.9 443.3,2139.3 444.6,2138.5 445.9,2140 447.2,2139.9 448.5,2141.4 449.8,2139.3 451.1,2138.4 452.4,2136.9 453.7,2138 455,2133.8 456.3,2139.6 457.6,2135.4 458.9,2137.3 460.2,2132.4 461.5,2135.3 462.8,2133.2 464.1,2131.2 465.4,2129.4 466.7,2128.1 468,2132.5 469.3,2130.5 470.6,2127.5 471.9,2126.8 473.2,2124.1 474.5,2121 475.8,2120.2 477.1,2121.7 478.4,2121.7 479.7,2118.8 481,2121.9 482.3,2120.5 483.6,2118.9 484.9,2114.2 486.2,2116.4 487.5,2115.9 488.8,2112.6 490.1,2110 491.4,2117.5 492.7,2114.4 494,2111.8 495.3,2115.1 496.6,2113.5 497.9,2111.6 499.2,2110.6 500.5,2111.1 501.8,2111.9 503.1,2108.5 504.4,2107.3 505.7,2108.3 507,2100.9 508.3,2106.1 509.6,2104.5 510.9,2104.7 512.2,2103.8 513.5,2104.2 514.8,2103.2 516.1,2102.5 517.4,2101.5 518.7,2102.1 520,2099.5 521.3,2101.9 522.6,2095.5 523.9,2098.2 525.2,2097.7 526.5,2093.2 527.8,2093.8 529.1,2096.3 530.4,2092.4 531.7,2089.8 533,2084.6 534.3,2090.2 535.6,2088.7 536.9,2088.6 538.2,2090.5 539.5,2085.3 540.8,2084.6 542.1,2081.9 543.4,2082.1 544.7,2081.1 546,2081.8 547.3,2080.8 548.6,2077.5 549.9,2077.4 551.2,2080.4 552.5,2075.1 553.8,2077.9 555.1,2079 556.4,2076.4 557.7,2074.9 559,2076.5 560.3,2073.8 561.6,2072.5 562.9,2071.4 564.2,2073.5 565.5,2071.9 566.8,2073 568.1,2068.5 569.4,2067.9 570.7,2067 572,2067.8 573.3,2065.2 574.6,2067.8 575.9,2066 577.2,2062.7 578.5,2058.1 579.8,2059.7 581.1,2065.6 582.4,2061.9 583.7,2061.7 585,2059.9 586.3,2060.9 587.6,2055.6 588.9,2054.8 590.2,2054.9 591.5,2057.6 592.8,2058.3 594.1,2057.2 595.4,2055.6 596.7,2052.9 598,2056.7 599.3,2054.1 600.6,2054.3 601.9,2053.8 603.2,2052.6 604.5,2051.7 605.8,2051.6 607.1,2049.8 608.4,2052.5 609.7,2051.2 611,2053.2 612.3,2047.2 613.6,2052.8 614.9,2049.9 616.2,2049.3 617.5,2047.7 618.8,2047.5 620.1,2046.1 621.4,2050.9 622.7,2048.7 624,2050.5 625.3,2050.7 626.6,2048.1 627.9,2048.6 629.2,2048.4 630.5,2051.1 631.8,2049.4 633.1,2049.4 634.4,2050.5 635.7,2048.9 637,2053.2 638.3,2047.2 639.6,2051.6 640.9,2051.9 642.2,2046.8 643.5,2051 644.8,2050.1 646.1,2051.6 647.4,2047.7 648.7,2050.8 650,2048.6 651.3,2050.2 652.6,2054 653.9,2051.1 655.2,2047.1 656.5,2049.1 657.8,2049.9 659.1,2054.4 660.4,2051.3 661.7,2049.8 663,2055.4 664.3,2053.9 665.6,2054.4 666.9,2052.4 668.2,2057.2 669.5,2054.5 670.8,2051.2 672.1,2053.3 673.4,2054.3 674.7,2056 676,2058.3 677.3,2055.7 678.6,2056.3 679.9,2062.3 681.2,2058.5 682.5,2057.6 683.8,2059.2 685.1,2057 686.4,2060.9 687.7,2062.2 689,2059.5 690.3,2063.1 691.6,2060.9 692.9,2062.4 694.2,2060.7 695.5,2061 696.8,2060 698.1,2063.8 699.4,2063.2 700.7,2063.7 702,2062.3 703.3,2062.6 704.6,2064.1 705.9,2066.7 707.2,2066.7 708.5,2065.2 709.8,2067.5 711.1,2070.8 712.4,2067.9 713.7,2072.1 715,2069.3 716.3,2071.5 717.6,2068.2 718.9,2072 720.2,2067.6 721.5,2070.9 722.8,2070.1 724.1,2067.2 725.4,2068.8 726.7,2074.2 728,2073.3 729.3,2075.3 730.6,2073.5 731.9,2067.7 733.2,2074.4 734.5,2073.1 735.8,2073.6 737.1,2074.1 738.4,2073.9 739.7,2073.9 741,2078.9 742.3,2077.8 743.6,2076.1 744.9,2077.1 746.2,2080.4 747.5,2079.7 748.8,2079.9 750.1,2077.6 751.4,2079.7 752.7,2078.8 754,2077.7 755.3,2083.9 756.6,2082 757.9,2082.3 759.2,2081.7 760.5,2085.7 761.8,2088.9 763.1,2086.4 764.4,2087.6 765.7,2083.7 767,2087 768.3,2087.6 769.6,2090.6 770.9,2088.1 772.2,2086.6 773.5,2088.9 774.8,2088.6 776.1,2092.8 777.4,2091.7 778.7,2091.6 780,2091.7 781.3,2093.5 782.6,2091.3 783.9,2090.9 785.2,2089.6 786.5,2096.4 787.8,2095.7 789.1,2096.7 790.4,2096.2 791.7,2100.1 793,2095.5 794.3,2100.6 795.6,2097.2 796.9,2098.6 798.2,2097.8 799.5,2101.1 800.8,2101 802.1,2103.2 803.4,2102 804.7,2101.2 806,2106 807.3,2108.3 808.6,2108 809.9,2107.3 811.2,2109 812.5,2105.7 813.8,2109.2 815.1,2113.1 816.4,2112.5 817.7,2110.7 819,2114.9 820.3,2113.6 821.6,2116 822.9,2112.4 824.2,2114.8 825.5,2117.2 826.8,2117.8 828.1,2119 829.4,2118.6 830.7,2118.8 832,2120.9 833.3,2122.3 834.6,2118.2 835.9,2121.3 837.2,2122.2 838.5,2123.8 839.8,2126.7 841.1,2123.1 842.4,2128 843.7,2124.6 845,2127.8 846.3,2129.4 847.6,2131 848.9,2131.5 850.2,2132.8 851.5,2134.3 852.8,2135.6 854.1,2133.7 855.4,2135.5 856.7,2138.3 858,2141 859.3,2142.7 860.6,2147.2 861.9,2142.6 863.2,2141.6 864.5,2144.3 865.8,2146.1 867.1,2145.8 868.4,2144.3 869.7,2147 871,2147.9 872.3,2146 873.6,2147.2 874.9,2152.8 876.2,2146.8 877.5,2152.3 878.8,2152.3 880.1,2156.4 881.4,2155.6 882.7,2153.5 884,2158.5 885.3,2155.7 886.6,2161.6 887.9,2161.7 889.2,2159.1 890.5,2161.6 891.8,2161 893.1,2159.4 894.4,2163.7 895.7,2162.9 897,2164.3 898.3,2165.2 899.6,2166.3 900.9,2166 902.2,2164.3 903.5,2165.1 904.8,2166.2 906.1,2165.6 907.4,2165.9 908.7,2170.5 910,2168.2 911.3,2171.5 912.6,2166.6 913.9,2168.4 915.2,2168.1 916.5,2168.5 917.8,2169.1 919.1,2169.9 920.4,2169.7 921.7,2174.5 923,2172.7 924.3,2170.3 925.6,2171.1 926.9,2174 928.2,2174 929.5,2172.1 930.8,2175.6 932.1,2171.3 933.4,2173.6 934.7,2178.4 936,2170.1 937.3,2175.2 938.6,2177.9 939.9,2176 941.2,2175 942.5,2175.1 943.8,2173.1 945.1,2174.9 946.4,2178 947.7,2177.1 949,2178.5 950.3,2178.5 951.6,2179.7 952.9,2176.2 954.2,2179.2 955.5,2179.5 956.8,2179.8 958.1,2179 959.4,2176.7 960.7,2182.5 962,2183 963.3,2186.3 964.6,2183.2 965.9,2185.2 967.2,2183.4 968.5,2181.6 969.8,2183.5 971.1,2180.4 972.4,2183.4 973.7,2182.9 975,2181.2 976.3,2185.9 977.6,2185.9 978.9,2184.8 980.2,2185.7 981.5,2187.5 982.8,2184.2 984.1,2181.9 985.4,2182.9 986.7,2186.3 988,2185.5 989.3,2182.3 990.6,2188 991.9,2186 993.2,2188.9 994.5,2188.1 995.8,2185.2 997.1,2186.4 998.4,2184.9 999.7,2184.9 1001,2186.1 1002.3,2187.9 1003.6,2189.7 1004.9,2185.4 1006.2,2188.8 1007.5,2187.6 1008.8,2187.3 1010.1,2190.1 1011.4,2187.4 1012.7,2191 1014,2187.8 1015.3,2186.8 1016.6,2190.3 1017.9,2186.1 1019.2,2186.8 1020.5,2189 1021.8,2189.5 1023.1,2189.2 1024.4,2186 1025.7,2187.4 1027,2191.3 1028.3,2191.5 1029.6,2188.6 1030.9,2191.3 1032.2,2191.4 1033.5,2193.2 1034.8,2189.9 1036.1,2194.4 1037.4,2191.1 1038.7,2194.8 1040,2194 1041.3,2190.4 1042.6,2192.1 1043.9,2193.5 1045.2,2195.2 1046.5,2190.7 1047.8,2192.7 1049.1,2195.1 1050.4,2195.1 1051.7,2192.3 1053,2192.8 1054.3,2195.7 1055.6,2193.1 1056.9,2195.8 1058.2,2197.4 1059.5,2195.9 1060.8,2190.7 1062.1,2198.6 1063.4,2198.8 1064.7,2199.5 1066,2198.6 1067.3,2193.8 1068.6,2200.2 1069.9,2198.3 1071.2,2199.7 1072.5,2197.7 1073.8,2197.7 1075.1,2198 1076.4,2201.8 1077.7,2199.4 1079,2198.7 1080.3,2196.7 1081.6,2200.4 1082.9,2199.7 1084.2,2200.2 1085.5,2202.1 1086.8,2201.8 1088.1,2200.6 1089.4,2201.3 1090.7,2201.3 1092,2202.8 1093.3,2203 1094.6,2202.1 1095.9,2200.4 1097.2,2204 1098.5,2204.4 1099.8,2200.7 1101.1,2203.8 1102.4,2202.5 1103.7,2199.2 1105,2203.7 1106.3,2205.9 1107.6,2202.8 1108.9,2203.1 1110.2,2206.7 1111.5,2202.7 1112.8,2203.2 1114.1,2204.7 1115.4,2206.8 1116.7,2207 1118,2204.9 1119.3,2205.5 1120.6,2206.5 1121.9,2205.8 1123.2,2205.1 1124.5,2204.8 1125.8,2208.6 1127.1,2207 1128.4,2213.3 1129.7,2209.1 1131,2206.5 1132.3,2208.2 1133.6,2209.1 1134.9,2209.5 1136.2,2209.8" fill="none" stroke="#dd0a0a" stroke-width="2.4" stroke-linejoin="round" stroke-linecap="round" />
<path d="M404.5,2262 C404.6,2254.8 405,2234.3 405.4,2219 C405.8,2203.7 406.2,2189.8 407,2170 C407.8,2150.2 409,2118.2 410,2100 C411,2081.8 412,2070.7 413.2,2060.7 C414.4,2050.7 415.6,2045.5 417,2040 C418.4,2034.5 419.7,2036.6 421.5,2027.4 C423.3,2018.2 425.8,1999.6 428,1985 C430.2,1970.4 432.8,1952.4 435,1940 C437.2,1927.6 438.7,1920 441,1910.8 C443.3,1901.6 446.2,1893.3 449,1885 C451.8,1876.7 454.8,1870.1 457.6,1860.9 C460.4,1851.7 463.6,1838.5 466,1830 C468.4,1821.5 470.2,1815 472,1810 C473.8,1805 475,1803.2 477,1799.9 C479,1796.6 481.7,1792.8 484,1790 C486.3,1787.2 488.2,1784.7 490.9,1783.2 C493.6,1781.7 497.2,1781.5 500,1781 C502.8,1780.5 504.9,1780.3 507.6,1780.5 C510.3,1780.7 513.2,1781.1 516,1782 C518.8,1782.9 521.5,1784.2 524.2,1786 C526.9,1787.8 529.2,1789.8 532,1793 C534.8,1796.2 537.8,1801.7 540.8,1805.4 C543.8,1809.1 547.2,1811.3 550,1815 C552.8,1818.7 554.8,1822.1 557.5,1827.6 C560.2,1833.1 563.2,1841.5 566,1848 C568.8,1854.5 571.4,1862.3 574.1,1866.5 C576.8,1870.7 579.2,1871.2 582,1873 C584.8,1874.8 588.5,1877.3 590.8,1877.5 C593.1,1877.7 594.1,1873.5 596,1874 C597.9,1874.5 600.1,1881 601.9,1880.3 C603.7,1879.6 605.1,1874.2 607,1870 C608.9,1865.8 610.8,1862.1 613,1855.4 C615.2,1848.7 617.8,1837.6 620,1830 C622.2,1822.4 623.9,1815 626,1810 C628.1,1805 630.7,1801.2 632.4,1799.9 C634.1,1798.6 634.6,1800.2 636,1802 C637.4,1803.8 639.2,1805.5 640.7,1811 C642.2,1816.5 644.3,1831 645,1835" fill="none" stroke="#1a1a1a" stroke-width="2.4" stroke-linejoin="round" stroke-linecap="round" />
<path d="M645,1835 C645.7,1840.2 647.9,1854 649,1866.5 C650.1,1879 650.7,1891.6 651.5,1910 C652.3,1928.4 653.2,1957 654,1977 C654.8,1997 655.8,2011.5 656.5,2030 C657.2,2048.5 658,2068 658.5,2088 C659,2108 659.5,2128.7 659.8,2150 C660.1,2171.3 660.4,2205 660.5,2216" fill="none" stroke="#555" stroke-width="1.4" stroke-linejoin="round" stroke-linecap="round" />
<line x1="404.5" y1="2262" x2="404.5" y2="2300" stroke="#222" stroke-width="2.5" stroke-linecap="butt"/>
<line x1="975.5" y1="1812.8" x2="1043.5" y2="1812.8" stroke="#ee1111" stroke-width="5" stroke-linecap="round"/>
<text x="1052.4" y="1822.1" font-size="24" fill="#111" text-anchor="start" font-weight="bold" font-family="Liberation Sans, Arial, sans-serif" textLength="34.8" lengthAdjust="spacingAndGlyphs">RIF</text>
<line x1="976" y1="1851.9" x2="1040" y2="1851.9" stroke="#111" stroke-width="5" stroke-linecap="round"/>
<text x="1050.4" y="1862.3" font-size="24" fill="#111" text-anchor="start" font-weight="bold" font-family="Liberation Sans, Arial, sans-serif" textLength="74.3" lengthAdjust="spacingAndGlyphs">Zn-RIF</text>
<line x1="972.5" y1="1893.1" x2="1043" y2="1893.1" stroke="#22ee22" stroke-width="5" stroke-linecap="round"/>
<text x="1050.4" y="1902.5" font-size="23" fill="#111" text-anchor="start" font-weight="bold" font-family="Liberation Sans, Arial, sans-serif" textLength="107" lengthAdjust="spacingAndGlyphs">Zn(NO<tspan font-size="15" dy="4">3</tspan><tspan dy="-4">)</tspan><tspan font-size="15" dy="4">2</tspan></text>
</svg></body></html>
